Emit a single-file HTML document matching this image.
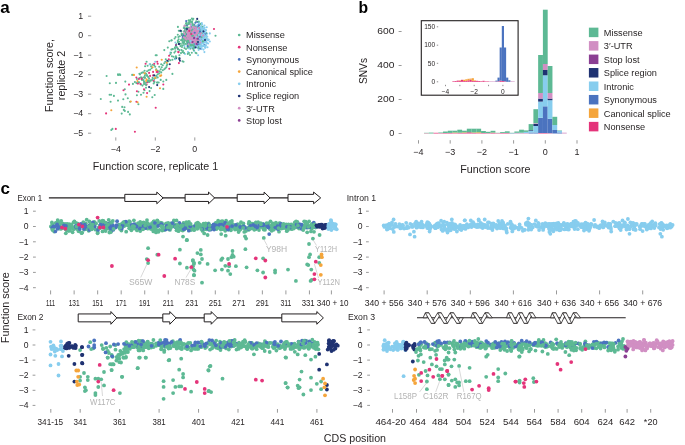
<!DOCTYPE html>
<html><head><meta charset="utf-8"><style>
html,body{margin:0;padding:0;background:#fff;width:685px;height:445px;overflow:hidden}
svg{display:block;will-change:transform}
text{font-family:"Liberation Sans",sans-serif}
</style></head><body>
<svg width="685" height="445" viewBox="0 0 685 445" fill="#231f20">
<rect width="685" height="445" fill="#fff"/>
<text x="0.20" y="12.70" font-size="17" fill="#000" font-weight="bold">a</text>
<text x="83.20" y="18.84" font-size="8.8" text-anchor="end">1</text>
<line x1="88.00" y1="16.20" x2="91.20" y2="16.20" stroke="#555" stroke-width="0.6"/>
<text x="83.20" y="38.34" font-size="8.8" text-anchor="end">0</text>
<line x1="88.00" y1="35.70" x2="91.20" y2="35.70" stroke="#555" stroke-width="0.6"/>
<text x="83.20" y="57.84" font-size="8.8" text-anchor="end">−1</text>
<line x1="88.00" y1="55.20" x2="91.20" y2="55.20" stroke="#555" stroke-width="0.6"/>
<text x="83.20" y="77.34" font-size="8.8" text-anchor="end">−2</text>
<line x1="88.00" y1="74.70" x2="91.20" y2="74.70" stroke="#555" stroke-width="0.6"/>
<text x="83.20" y="96.84" font-size="8.8" text-anchor="end">−3</text>
<line x1="88.00" y1="94.20" x2="91.20" y2="94.20" stroke="#555" stroke-width="0.6"/>
<text x="83.20" y="116.34" font-size="8.8" text-anchor="end">−4</text>
<line x1="88.00" y1="113.70" x2="91.20" y2="113.70" stroke="#555" stroke-width="0.6"/>
<text x="83.20" y="135.84" font-size="8.8" text-anchor="end">−5</text>
<line x1="88.00" y1="133.20" x2="91.20" y2="133.20" stroke="#555" stroke-width="0.6"/>
<line x1="115.80" y1="137.40" x2="115.80" y2="140.60" stroke="#555" stroke-width="0.6"/>
<text x="115.80" y="151.94" font-size="8.8" text-anchor="middle">−4</text>
<line x1="155.30" y1="137.40" x2="155.30" y2="140.60" stroke="#555" stroke-width="0.6"/>
<text x="155.30" y="151.94" font-size="8.8" text-anchor="middle">−2</text>
<line x1="194.80" y1="137.40" x2="194.80" y2="140.60" stroke="#555" stroke-width="0.6"/>
<text x="194.80" y="151.94" font-size="8.8" text-anchor="middle">0</text>
<text x="155.50" y="169.99" font-size="10.7" text-anchor="middle">Function score, replicate 1</text>
<text x="53.00" y="75.50" font-size="10.7" text-anchor="middle" transform="rotate(-90 53.00 75.50)">Function score,</text>
<text x="64.50" y="75.50" font-size="10.7" text-anchor="middle" transform="rotate(-90 64.50 75.50)">replicate 2</text>
<circle cx="239.2" cy="35.00" r="1.35" fill="#5db994"/>
<text x="246.00" y="38.37" font-size="9.2">Missense</text>
<circle cx="239.2" cy="47.20" r="1.35" fill="#e4347a"/>
<text x="246.00" y="50.57" font-size="9.2">Nonsense</text>
<circle cx="239.2" cy="59.40" r="1.35" fill="#4b73bf"/>
<text x="246.00" y="62.77" font-size="9.2">Synonymous</text>
<circle cx="239.2" cy="71.60" r="1.35" fill="#f5a53b"/>
<text x="246.00" y="74.97" font-size="9.2">Canonical splice</text>
<circle cx="239.2" cy="83.80" r="1.35" fill="#87cdee"/>
<text x="246.00" y="87.17" font-size="9.2">Intronic</text>
<circle cx="239.2" cy="96.00" r="1.35" fill="#1f3272"/>
<text x="246.00" y="99.37" font-size="9.2">Splice region</text>
<circle cx="239.2" cy="108.20" r="1.35" fill="#d18fc3"/>
<text x="246.00" y="111.57" font-size="9.2">3′-UTR</text>
<circle cx="239.2" cy="120.40" r="1.35" fill="#8b3f93"/>
<text x="246.00" y="123.77" font-size="9.2">Stop lost</text>
<g fill="#5db994">
<circle cx="169.3" cy="41.2" r="1.05"/>
<circle cx="171.3" cy="40.5" r="1.05"/>
<circle cx="164.3" cy="50.1" r="1.05"/>
<circle cx="167.8" cy="47.6" r="1.05"/>
<circle cx="171.3" cy="49.6" r="1.05"/>
<circle cx="172.9" cy="49.1" r="1.05"/>
<circle cx="174.4" cy="52.6" r="1.05"/>
<circle cx="170.3" cy="54.2" r="1.05"/>
<circle cx="171.9" cy="56.2" r="1.05"/>
<circle cx="173.4" cy="56.7" r="1.05"/>
<circle cx="175.9" cy="56.2" r="1.05"/>
<circle cx="176.4" cy="57.7" r="1.05"/>
<circle cx="174.9" cy="58.7" r="1.05"/>
<circle cx="172.4" cy="59.7" r="1.05"/>
<circle cx="170.3" cy="60.2" r="1.05"/>
<circle cx="168.3" cy="61.2" r="1.05"/>
<circle cx="165.8" cy="59.2" r="1.05"/>
<circle cx="165.3" cy="61.7" r="1.05"/>
<circle cx="164.3" cy="63.3" r="1.05"/>
<circle cx="167.3" cy="64.3" r="1.05"/>
<circle cx="166.8" cy="65.8" r="1.05"/>
<circle cx="166.3" cy="67.3" r="1.05"/>
<circle cx="165.3" cy="68.3" r="1.05"/>
<circle cx="164.3" cy="69.3" r="1.05"/>
<circle cx="162.8" cy="70.3" r="1.05"/>
<circle cx="161.7" cy="67.3" r="1.05"/>
<circle cx="160.7" cy="69.3" r="1.05"/>
<circle cx="159.7" cy="71.3" r="1.05"/>
<circle cx="161.2" cy="72.4" r="1.05"/>
<circle cx="159.2" cy="73.4" r="1.05"/>
<circle cx="157.7" cy="74.4" r="1.05"/>
<circle cx="156.2" cy="75.9" r="1.05"/>
<circle cx="157.7" cy="77.4" r="1.05"/>
<circle cx="155.7" cy="77.9" r="1.05"/>
<circle cx="154.2" cy="78.9" r="1.05"/>
<circle cx="152.6" cy="77.9" r="1.05"/>
<circle cx="152.1" cy="79.9" r="1.05"/>
<circle cx="150.1" cy="80.4" r="1.05"/>
<circle cx="149.1" cy="78.4" r="1.05"/>
<circle cx="148.1" cy="76.9" r="1.05"/>
<circle cx="147.1" cy="75.4" r="1.05"/>
<circle cx="146.1" cy="73.9" r="1.05"/>
<circle cx="145.1" cy="73.4" r="1.05"/>
<circle cx="147.1" cy="71.3" r="1.05"/>
<circle cx="148.6" cy="70.3" r="1.05"/>
<circle cx="150.1" cy="69.8" r="1.05"/>
<circle cx="151.6" cy="68.3" r="1.05"/>
<circle cx="151.1" cy="66.3" r="1.05"/>
<circle cx="152.6" cy="64.8" r="1.05"/>
<circle cx="154.2" cy="65.3" r="1.05"/>
<circle cx="155.2" cy="66.8" r="1.05"/>
<circle cx="156.2" cy="69.3" r="1.05"/>
<circle cx="157.7" cy="70.8" r="1.05"/>
<circle cx="159.2" cy="66.8" r="1.05"/>
<circle cx="161.2" cy="64.3" r="1.05"/>
<circle cx="162.8" cy="65.3" r="1.05"/>
<circle cx="148.1" cy="80.4" r="1.05"/>
<circle cx="146.1" cy="82.5" r="1.05"/>
<circle cx="144.0" cy="81.5" r="1.05"/>
<circle cx="142.0" cy="79.9" r="1.05"/>
<circle cx="141.0" cy="77.4" r="1.05"/>
<circle cx="140.0" cy="74.4" r="1.05"/>
<circle cx="141.5" cy="72.9" r="1.05"/>
<circle cx="143.0" cy="72.4" r="1.05"/>
<circle cx="144.6" cy="70.8" r="1.05"/>
<circle cx="146.6" cy="61.7" r="1.05"/>
<circle cx="145.1" cy="66.3" r="1.05"/>
<circle cx="147.6" cy="65.8" r="1.05"/>
<circle cx="150.1" cy="64.3" r="1.05"/>
<circle cx="155.7" cy="55.2" r="1.05"/>
<circle cx="156.7" cy="55.2" r="1.05"/>
<circle cx="172.4" cy="73.9" r="1.05"/>
<circle cx="166.3" cy="79.9" r="1.05"/>
<circle cx="163.3" cy="81.5" r="1.05"/>
<circle cx="160.7" cy="79.9" r="1.05"/>
<circle cx="158.7" cy="82.5" r="1.05"/>
<circle cx="154.2" cy="81.5" r="1.05"/>
<circle cx="182.5" cy="61.2" r="1.05"/>
<circle cx="183.5" cy="61.7" r="1.05"/>
<circle cx="181.5" cy="50.1" r="1.05"/>
<circle cx="182.5" cy="52.1" r="1.05"/>
<circle cx="180.4" cy="46.1" r="1.05"/>
<circle cx="179.4" cy="50.1" r="1.05"/>
<circle cx="177.4" cy="48.1" r="1.05"/>
<circle cx="175.9" cy="46.1" r="1.05"/>
<circle cx="174.9" cy="47.6" r="1.05"/>
<circle cx="176.4" cy="44.0" r="1.05"/>
<circle cx="177.9" cy="42.0" r="1.05"/>
<circle cx="182.5" cy="41.0" r="1.05"/>
<circle cx="184.0" cy="45.1" r="1.05"/>
<circle cx="184.5" cy="48.1" r="1.05"/>
<circle cx="181.0" cy="53.1" r="1.05"/>
<circle cx="179.4" cy="55.2" r="1.05"/>
<circle cx="183.5" cy="43.0" r="1.05"/>
</g>
<g fill="#e4347a">
<circle cx="169.1" cy="55.7" r="1.05"/>
<circle cx="168.8" cy="59.2" r="1.05"/>
<circle cx="169.3" cy="68.8" r="1.05"/>
<circle cx="178.4" cy="52.1" r="1.05"/>
<circle cx="178.9" cy="63.1" r="1.05"/>
<circle cx="157.2" cy="61.7" r="1.05"/>
<circle cx="157.7" cy="63.8" r="1.05"/>
<circle cx="154.2" cy="63.8" r="1.05"/>
<circle cx="145.6" cy="63.8" r="1.05"/>
<circle cx="149.1" cy="72.9" r="1.05"/>
<circle cx="153.1" cy="71.9" r="1.05"/>
<circle cx="156.7" cy="71.9" r="1.05"/>
<circle cx="157.7" cy="71.9" r="1.05"/>
<circle cx="150.1" cy="75.9" r="1.05"/>
<circle cx="142.0" cy="78.4" r="1.05"/>
<circle cx="153.7" cy="81.0" r="1.05"/>
<circle cx="146.6" cy="84.5" r="1.05"/>
<circle cx="163.3" cy="84.5" r="1.05"/>
<circle cx="153.1" cy="75.4" r="1.05"/>
</g>
<g fill="#f5a53b">
<circle cx="161.7" cy="59.7" r="1.05"/>
<circle cx="152.6" cy="67.3" r="1.05"/>
<circle cx="144.6" cy="73.4" r="1.05"/>
<circle cx="160.2" cy="75.9" r="1.05"/>
<circle cx="161.2" cy="75.4" r="1.05"/>
<circle cx="155.2" cy="77.9" r="1.05"/>
<circle cx="146.6" cy="79.4" r="1.05"/>
<circle cx="146.1" cy="81.0" r="1.05"/>
<circle cx="166.8" cy="62.8" r="1.05"/>
<circle cx="156.2" cy="70.3" r="1.05"/>
</g>
<g fill="#1f3272">
<circle cx="167.3" cy="60.7" r="1.05"/>
<circle cx="169.8" cy="64.3" r="1.05"/>
<circle cx="175.9" cy="58.2" r="1.05"/>
<circle cx="179.4" cy="59.2" r="1.05"/>
<circle cx="179.9" cy="60.7" r="1.05"/>
<circle cx="154.2" cy="75.4" r="1.05"/>
<circle cx="178.9" cy="44.0" r="1.05"/>
</g>
<g fill="#87cdee">
<circle cx="175.4" cy="42.5" r="1.05"/>
<circle cx="170.3" cy="52.6" r="1.05"/>
<circle cx="149.6" cy="64.3" r="1.05"/>
<circle cx="155.2" cy="61.7" r="1.05"/>
<circle cx="175.4" cy="59.2" r="1.05"/>
<circle cx="184.5" cy="46.1" r="1.05"/>
</g>
<g fill="#8b3f93">
<circle cx="177.9" cy="49.1" r="1.05"/>
</g>
<g fill="#5db994">
<circle cx="106.6" cy="76.0" r="1.05"/>
<circle cx="118.2" cy="75.0" r="1.05"/>
<circle cx="120.2" cy="75.0" r="1.05"/>
<circle cx="109.8" cy="83.3" r="1.05"/>
<circle cx="116.0" cy="82.9" r="1.05"/>
<circle cx="125.3" cy="81.6" r="1.05"/>
<circle cx="124.8" cy="89.2" r="1.05"/>
<circle cx="125.5" cy="94.4" r="1.05"/>
<circle cx="109.6" cy="94.7" r="1.05"/>
<circle cx="111.1" cy="94.7" r="1.05"/>
<circle cx="113.9" cy="95.9" r="1.05"/>
<circle cx="100.8" cy="99.0" r="1.05"/>
<circle cx="118.0" cy="100.6" r="1.05"/>
<circle cx="123.3" cy="99.3" r="1.05"/>
<circle cx="127.8" cy="98.3" r="1.05"/>
<circle cx="110.6" cy="101.8" r="1.05"/>
<circle cx="130.1" cy="101.8" r="1.05"/>
<circle cx="122.2" cy="106.9" r="1.05"/>
<circle cx="124.5" cy="107.2" r="1.05"/>
<circle cx="123.8" cy="109.9" r="1.05"/>
<circle cx="124.8" cy="110.9" r="1.05"/>
<circle cx="128.1" cy="111.9" r="1.05"/>
<circle cx="121.7" cy="113.6" r="1.05"/>
<circle cx="129.8" cy="114.4" r="1.05"/>
<circle cx="138.4" cy="104.3" r="1.05"/>
<circle cx="132.9" cy="83.9" r="1.05"/>
<circle cx="134.9" cy="82.1" r="1.05"/>
<circle cx="136.4" cy="83.1" r="1.05"/>
<circle cx="138.4" cy="82.6" r="1.05"/>
<circle cx="141.0" cy="84.6" r="1.05"/>
<circle cx="142.5" cy="85.6" r="1.05"/>
<circle cx="144.0" cy="84.1" r="1.05"/>
<circle cx="143.5" cy="80.1" r="1.05"/>
<circle cx="142.0" cy="79.0" r="1.05"/>
<circle cx="139.4" cy="78.0" r="1.05"/>
<circle cx="136.9" cy="79.0" r="1.05"/>
<circle cx="144.5" cy="77.0" r="1.05"/>
<circle cx="138.4" cy="91.7" r="1.05"/>
<circle cx="136.9" cy="95.2" r="1.05"/>
<circle cx="141.0" cy="94.7" r="1.05"/>
<circle cx="143.5" cy="92.7" r="1.05"/>
<circle cx="144.5" cy="90.2" r="1.05"/>
</g>
<g fill="#e4347a">
<circle cx="129.0" cy="84.6" r="1.05"/>
<circle cx="123.5" cy="90.2" r="1.05"/>
<circle cx="106.1" cy="113.4" r="1.05"/>
<circle cx="136.4" cy="101.8" r="1.05"/>
<circle cx="136.9" cy="91.2" r="1.05"/>
<circle cx="137.9" cy="83.6" r="1.05"/>
<circle cx="140.4" cy="83.9" r="1.05"/>
<circle cx="138.9" cy="79.0" r="1.05"/>
<circle cx="136.4" cy="77.5" r="1.05"/>
<circle cx="141.5" cy="79.0" r="1.05"/>
<circle cx="144.0" cy="89.2" r="1.05"/>
</g>
<g fill="#f5a53b">
<circle cx="111.3" cy="110.2" r="1.05"/>
<circle cx="130.8" cy="101.5" r="1.05"/>
<circle cx="137.6" cy="102.3" r="1.05"/>
<circle cx="133.9" cy="75.0" r="1.05"/>
<circle cx="137.4" cy="81.1" r="1.05"/>
</g>
<g fill="#5db994">
<circle cx="146.1" cy="85.1" r="1.05"/>
<circle cx="151.1" cy="88.1" r="1.05"/>
<circle cx="149.6" cy="91.1" r="1.05"/>
<circle cx="154.7" cy="95.0" r="1.05"/>
<circle cx="152.3" cy="97.2" r="1.05"/>
<circle cx="163.3" cy="88.9" r="1.05"/>
</g>
<g fill="#e4347a">
<circle cx="147.1" cy="93.1" r="1.05"/>
<circle cx="155.7" cy="107.8" r="1.05"/>
</g>
<g fill="#f5a53b">
<circle cx="146.6" cy="96.7" r="1.05"/>
<circle cx="160.0" cy="88.3" r="1.05"/>
</g>
<g fill="#1f3272">
<circle cx="149.1" cy="87.1" r="1.05"/>
<circle cx="157.2" cy="85.1" r="1.05"/>
</g>
<g fill="#5db994">
<circle cx="118.0" cy="74.4" r="1.05"/>
<circle cx="119.8" cy="74.4" r="1.05"/>
<circle cx="132.2" cy="74.9" r="1.05"/>
<circle cx="139.4" cy="73.8" r="1.05"/>
<circle cx="112.4" cy="128.9" r="1.05"/>
<circle cx="111.3" cy="130.0" r="1.05"/>
</g>
<g fill="#f5a53b">
<circle cx="136.7" cy="67.5" r="1.05"/>
<circle cx="133.8" cy="74.9" r="1.05"/>
</g>
<g fill="#e4347a">
<circle cx="115.8" cy="128.9" r="1.05"/>
<circle cx="134.9" cy="131.8" r="1.05"/>
</g>
<g fill="#5db994">
<circle cx="177.9" cy="26.9" r="1.05"/>
<circle cx="171.7" cy="40.3" r="1.05"/>
<circle cx="175.6" cy="37.0" r="1.05"/>
</g>
<g fill="#1f3272">
<circle cx="180.1" cy="30.8" r="1.05"/>
</g>
<g fill="#5db994">
<circle cx="178.4" cy="37.0" r="1.05"/>
</g>
<g fill="#1f3272">
<circle cx="181.8" cy="34.7" r="1.05"/>
</g>
<g fill="#5db994">
<circle cx="180.7" cy="43.7" r="1.05"/>
<circle cx="176.7" cy="47.1" r="1.05"/>
<circle cx="175.1" cy="48.8" r="1.05"/>
<circle cx="177.9" cy="49.3" r="1.05"/>
<circle cx="172.2" cy="49.3" r="1.05"/>
<circle cx="171.1" cy="52.7" r="1.05"/>
</g>
<g fill="#e4347a">
<circle cx="178.4" cy="52.1" r="1.05"/>
</g>
<g fill="#5db994">
<circle cx="175.6" cy="57.2" r="1.05"/>
<circle cx="179.0" cy="58.3" r="1.05"/>
</g>
<g fill="#1f3272">
<circle cx="179.6" cy="58.3" r="1.05"/>
</g>
<g fill="#5db994">
<circle cx="215.5" cy="35.8" r="1.05"/>
</g>
<g fill="#8b3f93">
<circle cx="176.0" cy="45.0" r="1.05"/>
</g>
<g fill="#5db994">
<circle cx="184.0" cy="43.0" r="1.05"/>
<circle cx="182.0" cy="47.0" r="1.05"/>
<circle cx="183.0" cy="51.0" r="1.05"/>
<circle cx="186.0" cy="49.0" r="1.05"/>
</g>
<g fill="#87cdee">
<circle cx="185.0" cy="54.0" r="1.05"/>
<circle cx="188.0" cy="52.0" r="1.05"/>
</g>
<g fill="#5db994">
<circle cx="190.0" cy="55.0" r="1.05"/>
</g>
<g fill="#e4347a">
<circle cx="147.8" cy="82.3" r="1.05"/>
</g>
<g fill="#5db994">
<circle cx="157.0" cy="82.5" r="1.05"/>
<circle cx="148.0" cy="81.2" r="1.05"/>
<circle cx="149.4" cy="81.9" r="1.05"/>
<circle cx="150.8" cy="80.8" r="1.05"/>
<circle cx="154.4" cy="82.1" r="1.05"/>
<circle cx="144.9" cy="75.6" r="1.05"/>
<circle cx="145.0" cy="77.9" r="1.05"/>
<circle cx="157.5" cy="82.6" r="1.05"/>
<circle cx="144.1" cy="82.7" r="1.05"/>
<circle cx="146.0" cy="87.7" r="1.05"/>
<circle cx="153.7" cy="83.5" r="1.05"/>
<circle cx="145.1" cy="84.1" r="1.05"/>
<circle cx="143.3" cy="77.5" r="1.05"/>
<circle cx="147.0" cy="75.7" r="1.05"/>
<circle cx="139.0" cy="82.2" r="1.05"/>
<circle cx="196.6" cy="36.4" r="1.05"/>
</g>
<g fill="#4b73bf">
<circle cx="200.1" cy="36.1" r="1.05"/>
</g>
<g fill="#5db994">
<circle cx="191.3" cy="38.8" r="1.05"/>
</g>
<g fill="#87cdee">
<circle cx="196.6" cy="38.6" r="1.05"/>
<circle cx="198.9" cy="38.5" r="1.05"/>
</g>
<g fill="#5db994">
<circle cx="200.7" cy="23.9" r="1.05"/>
<circle cx="190.2" cy="42.8" r="1.05"/>
<circle cx="191.2" cy="32.6" r="1.05"/>
<circle cx="193.8" cy="42.1" r="1.05"/>
</g>
<g fill="#87cdee">
<circle cx="206.4" cy="35.6" r="1.05"/>
</g>
<g fill="#5db994">
<circle cx="190.5" cy="48.6" r="1.05"/>
<circle cx="188.7" cy="24.0" r="1.05"/>
<circle cx="192.5" cy="41.6" r="1.05"/>
<circle cx="188.8" cy="30.5" r="1.05"/>
</g>
<g fill="#4b73bf">
<circle cx="201.9" cy="42.3" r="1.05"/>
</g>
<g fill="#87cdee">
<circle cx="191.6" cy="45.4" r="1.05"/>
<circle cx="199.3" cy="37.6" r="1.05"/>
</g>
<g fill="#5db994">
<circle cx="189.8" cy="44.2" r="1.05"/>
<circle cx="195.5" cy="41.7" r="1.05"/>
<circle cx="192.8" cy="35.2" r="1.05"/>
</g>
<g fill="#87cdee">
<circle cx="198.1" cy="35.3" r="1.05"/>
</g>
<g fill="#5db994">
<circle cx="184.3" cy="41.6" r="1.05"/>
<circle cx="185.4" cy="37.4" r="1.05"/>
<circle cx="186.0" cy="30.7" r="1.05"/>
<circle cx="184.3" cy="36.6" r="1.05"/>
</g>
<g fill="#87cdee">
<circle cx="197.1" cy="47.8" r="1.05"/>
</g>
<g fill="#5db994">
<circle cx="193.8" cy="40.1" r="1.05"/>
<circle cx="197.8" cy="34.8" r="1.05"/>
</g>
<g fill="#87cdee">
<circle cx="189.8" cy="40.0" r="1.05"/>
<circle cx="202.0" cy="46.2" r="1.05"/>
<circle cx="193.0" cy="29.3" r="1.05"/>
</g>
<g fill="#4b73bf">
<circle cx="188.0" cy="42.9" r="1.05"/>
</g>
<g fill="#87cdee">
<circle cx="208.0" cy="40.3" r="1.05"/>
</g>
<g fill="#4b73bf">
<circle cx="199.5" cy="38.7" r="1.05"/>
</g>
<g fill="#5db994">
<circle cx="191.4" cy="45.8" r="1.05"/>
<circle cx="195.8" cy="28.6" r="1.05"/>
<circle cx="193.0" cy="41.1" r="1.05"/>
<circle cx="175.4" cy="51.2" r="1.05"/>
</g>
<g fill="#4b73bf">
<circle cx="198.6" cy="35.6" r="1.05"/>
</g>
<g fill="#5db994">
<circle cx="200.8" cy="46.7" r="1.05"/>
<circle cx="192.7" cy="39.2" r="1.05"/>
</g>
<g fill="#4b73bf">
<circle cx="194.3" cy="37.7" r="1.05"/>
</g>
<g fill="#87cdee">
<circle cx="194.8" cy="37.0" r="1.05"/>
<circle cx="198.9" cy="23.9" r="1.05"/>
</g>
<g fill="#5db994">
<circle cx="200.9" cy="31.9" r="1.05"/>
</g>
<g fill="#87cdee">
<circle cx="204.9" cy="35.9" r="1.05"/>
</g>
<g fill="#5db994">
<circle cx="191.0" cy="29.7" r="1.05"/>
</g>
<g fill="#4b73bf">
<circle cx="196.1" cy="44.9" r="1.05"/>
<circle cx="196.1" cy="39.0" r="1.05"/>
</g>
<g fill="#87cdee">
<circle cx="199.5" cy="39.8" r="1.05"/>
</g>
<g fill="#5db994">
<circle cx="191.1" cy="44.9" r="1.05"/>
</g>
<g fill="#4b73bf">
<circle cx="189.0" cy="38.8" r="1.05"/>
</g>
<g fill="#5db994">
<circle cx="182.6" cy="38.7" r="1.05"/>
</g>
<g fill="#87cdee">
<circle cx="201.8" cy="35.2" r="1.05"/>
</g>
<g fill="#5db994">
<circle cx="194.5" cy="33.2" r="1.05"/>
</g>
<g fill="#87cdee">
<circle cx="198.3" cy="44.1" r="1.05"/>
</g>
<g fill="#4b73bf">
<circle cx="199.1" cy="35.1" r="1.05"/>
</g>
<g fill="#5db994">
<circle cx="184.0" cy="52.9" r="1.05"/>
</g>
<g fill="#4b73bf">
<circle cx="194.9" cy="35.5" r="1.05"/>
<circle cx="193.5" cy="37.9" r="1.05"/>
</g>
<g fill="#87cdee">
<circle cx="191.8" cy="39.1" r="1.05"/>
</g>
<g fill="#5db994">
<circle cx="179.0" cy="41.7" r="1.05"/>
</g>
<g fill="#87cdee">
<circle cx="199.9" cy="36.9" r="1.05"/>
</g>
<g fill="#5db994">
<circle cx="184.9" cy="35.9" r="1.05"/>
</g>
<g fill="#4b73bf">
<circle cx="199.0" cy="25.8" r="1.05"/>
</g>
<g fill="#87cdee">
<circle cx="199.9" cy="32.9" r="1.05"/>
<circle cx="195.7" cy="33.9" r="1.05"/>
</g>
<g fill="#5db994">
<circle cx="201.9" cy="36.5" r="1.05"/>
<circle cx="188.8" cy="35.3" r="1.05"/>
</g>
<g fill="#87cdee">
<circle cx="200.0" cy="30.5" r="1.05"/>
</g>
<g fill="#5db994">
<circle cx="181.2" cy="40.2" r="1.05"/>
</g>
<g fill="#87cdee">
<circle cx="201.6" cy="35.7" r="1.05"/>
<circle cx="196.9" cy="37.5" r="1.05"/>
</g>
<g fill="#5db994">
<circle cx="192.9" cy="42.1" r="1.05"/>
<circle cx="187.5" cy="35.6" r="1.05"/>
</g>
<g fill="#87cdee">
<circle cx="200.2" cy="38.1" r="1.05"/>
<circle cx="201.1" cy="28.8" r="1.05"/>
<circle cx="196.7" cy="31.5" r="1.05"/>
<circle cx="206.3" cy="36.6" r="1.05"/>
</g>
<g fill="#5db994">
<circle cx="190.4" cy="38.9" r="1.05"/>
<circle cx="191.3" cy="47.2" r="1.05"/>
<circle cx="190.5" cy="35.5" r="1.05"/>
<circle cx="197.5" cy="37.8" r="1.05"/>
</g>
<g fill="#87cdee">
<circle cx="205.9" cy="45.0" r="1.05"/>
<circle cx="194.8" cy="41.0" r="1.05"/>
</g>
<g fill="#5db994">
<circle cx="195.1" cy="26.3" r="1.05"/>
<circle cx="195.3" cy="43.2" r="1.05"/>
</g>
<g fill="#87cdee">
<circle cx="202.8" cy="29.6" r="1.05"/>
</g>
<g fill="#5db994">
<circle cx="195.6" cy="52.8" r="1.05"/>
<circle cx="191.8" cy="31.8" r="1.05"/>
<circle cx="200.2" cy="30.0" r="1.05"/>
</g>
<g fill="#87cdee">
<circle cx="196.9" cy="37.8" r="1.05"/>
</g>
<g fill="#5db994">
<circle cx="191.0" cy="46.0" r="1.05"/>
</g>
<g fill="#87cdee">
<circle cx="209.8" cy="33.4" r="1.05"/>
<circle cx="203.5" cy="34.6" r="1.05"/>
</g>
<g fill="#5db994">
<circle cx="198.6" cy="32.7" r="1.05"/>
<circle cx="197.5" cy="25.8" r="1.05"/>
<circle cx="190.5" cy="46.2" r="1.05"/>
</g>
<g fill="#87cdee">
<circle cx="195.1" cy="40.1" r="1.05"/>
<circle cx="203.9" cy="28.8" r="1.05"/>
<circle cx="201.5" cy="35.1" r="1.05"/>
</g>
<g fill="#5db994">
<circle cx="190.0" cy="36.4" r="1.05"/>
</g>
<g fill="#87cdee">
<circle cx="199.4" cy="43.3" r="1.05"/>
</g>
<g fill="#5db994">
<circle cx="190.2" cy="35.3" r="1.05"/>
</g>
<g fill="#4b73bf">
<circle cx="198.7" cy="32.0" r="1.05"/>
<circle cx="191.5" cy="38.7" r="1.05"/>
</g>
<g fill="#5db994">
<circle cx="190.4" cy="20.1" r="1.05"/>
</g>
<g fill="#87cdee">
<circle cx="202.1" cy="34.1" r="1.05"/>
</g>
<g fill="#5db994">
<circle cx="199.3" cy="45.4" r="1.05"/>
</g>
<g fill="#4b73bf">
<circle cx="185.0" cy="28.7" r="1.05"/>
</g>
<g fill="#87cdee">
<circle cx="199.5" cy="43.3" r="1.05"/>
</g>
<g fill="#5db994">
<circle cx="200.6" cy="38.0" r="1.05"/>
</g>
<g fill="#87cdee">
<circle cx="201.4" cy="45.0" r="1.05"/>
<circle cx="203.0" cy="42.6" r="1.05"/>
</g>
<g fill="#4b73bf">
<circle cx="193.1" cy="37.2" r="1.05"/>
</g>
<g fill="#5db994">
<circle cx="197.5" cy="35.7" r="1.05"/>
<circle cx="189.8" cy="40.5" r="1.05"/>
<circle cx="185.5" cy="40.0" r="1.05"/>
</g>
<g fill="#87cdee">
<circle cx="193.9" cy="31.2" r="1.05"/>
</g>
<g fill="#5db994">
<circle cx="189.5" cy="40.5" r="1.05"/>
<circle cx="198.0" cy="38.0" r="1.05"/>
</g>
<g fill="#87cdee">
<circle cx="207.0" cy="33.6" r="1.05"/>
</g>
<g fill="#5db994">
<circle cx="189.6" cy="38.1" r="1.05"/>
</g>
<g fill="#4b73bf">
<circle cx="199.1" cy="33.6" r="1.05"/>
</g>
<g fill="#87cdee">
<circle cx="199.7" cy="33.9" r="1.05"/>
<circle cx="199.2" cy="41.4" r="1.05"/>
<circle cx="199.8" cy="37.1" r="1.05"/>
</g>
<g fill="#5db994">
<circle cx="187.7" cy="36.9" r="1.05"/>
</g>
<g fill="#87cdee">
<circle cx="188.9" cy="41.9" r="1.05"/>
</g>
<g fill="#4b73bf">
<circle cx="205.4" cy="39.7" r="1.05"/>
</g>
<g fill="#5db994">
<circle cx="198.0" cy="34.7" r="1.05"/>
</g>
<g fill="#87cdee">
<circle cx="200.9" cy="40.8" r="1.05"/>
</g>
<g fill="#5db994">
<circle cx="177.8" cy="40.8" r="1.05"/>
<circle cx="191.6" cy="43.2" r="1.05"/>
</g>
<g fill="#87cdee">
<circle cx="201.7" cy="36.3" r="1.05"/>
</g>
<g fill="#5db994">
<circle cx="184.1" cy="41.5" r="1.05"/>
</g>
<g fill="#87cdee">
<circle cx="192.3" cy="47.5" r="1.05"/>
<circle cx="200.2" cy="37.1" r="1.05"/>
</g>
<g fill="#5db994">
<circle cx="192.0" cy="41.1" r="1.05"/>
<circle cx="187.5" cy="37.7" r="1.05"/>
<circle cx="189.8" cy="28.1" r="1.05"/>
<circle cx="192.0" cy="37.1" r="1.05"/>
</g>
<g fill="#87cdee">
<circle cx="196.8" cy="36.9" r="1.05"/>
</g>
<g fill="#5db994">
<circle cx="195.5" cy="32.8" r="1.05"/>
<circle cx="190.1" cy="28.2" r="1.05"/>
<circle cx="195.8" cy="40.1" r="1.05"/>
</g>
<g fill="#87cdee">
<circle cx="196.2" cy="38.3" r="1.05"/>
<circle cx="205.5" cy="29.9" r="1.05"/>
</g>
<g fill="#4b73bf">
<circle cx="194.3" cy="24.8" r="1.05"/>
</g>
<g fill="#87cdee">
<circle cx="200.4" cy="33.3" r="1.05"/>
<circle cx="205.9" cy="30.3" r="1.05"/>
</g>
<g fill="#5db994">
<circle cx="189.1" cy="44.6" r="1.05"/>
</g>
<g fill="#87cdee">
<circle cx="192.7" cy="43.6" r="1.05"/>
<circle cx="193.8" cy="28.5" r="1.05"/>
</g>
<g fill="#4b73bf">
<circle cx="191.5" cy="36.3" r="1.05"/>
</g>
<g fill="#87cdee">
<circle cx="200.4" cy="43.0" r="1.05"/>
<circle cx="202.7" cy="32.0" r="1.05"/>
</g>
<g fill="#5db994">
<circle cx="190.1" cy="32.4" r="1.05"/>
<circle cx="192.0" cy="41.4" r="1.05"/>
<circle cx="197.9" cy="29.9" r="1.05"/>
</g>
<g fill="#87cdee">
<circle cx="195.2" cy="41.5" r="1.05"/>
</g>
<g fill="#5db994">
<circle cx="198.5" cy="45.5" r="1.05"/>
</g>
<g fill="#87cdee">
<circle cx="202.4" cy="31.3" r="1.05"/>
</g>
<g fill="#5db994">
<circle cx="199.2" cy="29.3" r="1.05"/>
<circle cx="186.6" cy="40.3" r="1.05"/>
<circle cx="183.5" cy="35.0" r="1.05"/>
</g>
<g fill="#87cdee">
<circle cx="195.1" cy="33.9" r="1.05"/>
</g>
<g fill="#5db994">
<circle cx="196.2" cy="42.5" r="1.05"/>
<circle cx="192.8" cy="37.3" r="1.05"/>
<circle cx="197.0" cy="33.0" r="1.05"/>
<circle cx="188.8" cy="39.3" r="1.05"/>
<circle cx="187.7" cy="43.7" r="1.05"/>
</g>
<g fill="#87cdee">
<circle cx="193.8" cy="38.8" r="1.05"/>
<circle cx="201.7" cy="40.4" r="1.05"/>
<circle cx="194.9" cy="30.3" r="1.05"/>
<circle cx="199.2" cy="34.2" r="1.05"/>
</g>
<g fill="#4b73bf">
<circle cx="197.9" cy="33.3" r="1.05"/>
</g>
<g fill="#5db994">
<circle cx="192.3" cy="23.3" r="1.05"/>
</g>
<g fill="#87cdee">
<circle cx="199.0" cy="38.8" r="1.05"/>
<circle cx="202.6" cy="36.2" r="1.05"/>
</g>
<g fill="#5db994">
<circle cx="195.1" cy="35.6" r="1.05"/>
<circle cx="195.7" cy="43.2" r="1.05"/>
</g>
<g fill="#87cdee">
<circle cx="200.5" cy="29.9" r="1.05"/>
</g>
<g fill="#5db994">
<circle cx="185.4" cy="38.5" r="1.05"/>
<circle cx="194.1" cy="34.8" r="1.05"/>
</g>
<g fill="#87cdee">
<circle cx="205.7" cy="45.9" r="1.05"/>
</g>
<g fill="#5db994">
<circle cx="186.8" cy="35.1" r="1.05"/>
<circle cx="196.8" cy="45.0" r="1.05"/>
<circle cx="190.3" cy="43.0" r="1.05"/>
<circle cx="196.9" cy="30.9" r="1.05"/>
<circle cx="193.1" cy="33.8" r="1.05"/>
<circle cx="187.0" cy="40.0" r="1.05"/>
</g>
<g fill="#87cdee">
<circle cx="201.0" cy="34.1" r="1.05"/>
<circle cx="201.7" cy="27.6" r="1.05"/>
<circle cx="191.5" cy="44.8" r="1.05"/>
</g>
<g fill="#4b73bf">
<circle cx="189.1" cy="30.3" r="1.05"/>
<circle cx="195.1" cy="30.9" r="1.05"/>
</g>
<g fill="#87cdee">
<circle cx="192.0" cy="33.1" r="1.05"/>
<circle cx="193.8" cy="46.3" r="1.05"/>
</g>
<g fill="#4b73bf">
<circle cx="188.0" cy="43.8" r="1.05"/>
</g>
<g fill="#5db994">
<circle cx="200.2" cy="45.9" r="1.05"/>
</g>
<g fill="#87cdee">
<circle cx="198.1" cy="47.9" r="1.05"/>
<circle cx="202.4" cy="35.0" r="1.05"/>
<circle cx="203.1" cy="38.7" r="1.05"/>
</g>
<g fill="#5db994">
<circle cx="201.3" cy="36.0" r="1.05"/>
<circle cx="189.8" cy="39.2" r="1.05"/>
<circle cx="188.0" cy="37.5" r="1.05"/>
</g>
<g fill="#87cdee">
<circle cx="193.9" cy="37.4" r="1.05"/>
</g>
<g fill="#5db994">
<circle cx="190.6" cy="34.1" r="1.05"/>
<circle cx="200.0" cy="33.0" r="1.05"/>
<circle cx="189.3" cy="32.6" r="1.05"/>
<circle cx="203.7" cy="41.3" r="1.05"/>
<circle cx="196.2" cy="42.2" r="1.05"/>
<circle cx="184.3" cy="39.1" r="1.05"/>
</g>
<g fill="#87cdee">
<circle cx="194.8" cy="41.3" r="1.05"/>
</g>
<g fill="#5db994">
<circle cx="193.4" cy="37.7" r="1.05"/>
<circle cx="182.3" cy="35.1" r="1.05"/>
</g>
<g fill="#87cdee">
<circle cx="196.3" cy="35.4" r="1.05"/>
<circle cx="204.9" cy="36.1" r="1.05"/>
<circle cx="201.3" cy="28.0" r="1.05"/>
<circle cx="199.6" cy="36.1" r="1.05"/>
<circle cx="201.5" cy="40.8" r="1.05"/>
<circle cx="194.0" cy="33.0" r="1.05"/>
<circle cx="201.5" cy="39.0" r="1.05"/>
</g>
<g fill="#5db994">
<circle cx="191.7" cy="37.5" r="1.05"/>
<circle cx="186.7" cy="33.9" r="1.05"/>
<circle cx="178.4" cy="42.1" r="1.05"/>
</g>
<g fill="#4b73bf">
<circle cx="191.2" cy="26.9" r="1.05"/>
</g>
<g fill="#87cdee">
<circle cx="198.8" cy="32.2" r="1.05"/>
<circle cx="198.5" cy="31.4" r="1.05"/>
</g>
<g fill="#5db994">
<circle cx="195.0" cy="38.7" r="1.05"/>
</g>
<g fill="#87cdee">
<circle cx="206.1" cy="39.2" r="1.05"/>
<circle cx="193.0" cy="34.3" r="1.05"/>
</g>
<g fill="#5db994">
<circle cx="184.8" cy="36.7" r="1.05"/>
</g>
<g fill="#4b73bf">
<circle cx="204.2" cy="45.0" r="1.05"/>
</g>
<g fill="#87cdee">
<circle cx="201.2" cy="35.6" r="1.05"/>
<circle cx="193.7" cy="32.6" r="1.05"/>
<circle cx="196.6" cy="29.2" r="1.05"/>
</g>
<g fill="#5db994">
<circle cx="199.9" cy="41.1" r="1.05"/>
</g>
<g fill="#87cdee">
<circle cx="201.5" cy="48.7" r="1.05"/>
</g>
<g fill="#4b73bf">
<circle cx="195.1" cy="38.2" r="1.05"/>
<circle cx="192.7" cy="39.9" r="1.05"/>
</g>
<g fill="#87cdee">
<circle cx="193.2" cy="27.7" r="1.05"/>
</g>
<g fill="#4b73bf">
<circle cx="193.6" cy="35.7" r="1.05"/>
</g>
<g fill="#5db994">
<circle cx="190.2" cy="31.9" r="1.05"/>
</g>
<g fill="#87cdee">
<circle cx="199.6" cy="46.6" r="1.05"/>
</g>
<g fill="#5db994">
<circle cx="191.5" cy="25.1" r="1.05"/>
</g>
<g fill="#87cdee">
<circle cx="194.8" cy="28.4" r="1.05"/>
</g>
<g fill="#4b73bf">
<circle cx="190.2" cy="35.9" r="1.05"/>
</g>
<g fill="#87cdee">
<circle cx="188.7" cy="32.5" r="1.05"/>
</g>
<g fill="#5db994">
<circle cx="200.2" cy="40.1" r="1.05"/>
</g>
<g fill="#87cdee">
<circle cx="203.7" cy="38.3" r="1.05"/>
<circle cx="188.8" cy="44.5" r="1.05"/>
</g>
<g fill="#4b73bf">
<circle cx="199.0" cy="38.3" r="1.05"/>
</g>
<g fill="#5db994">
<circle cx="191.5" cy="40.0" r="1.05"/>
<circle cx="198.6" cy="38.0" r="1.05"/>
<circle cx="193.1" cy="35.2" r="1.05"/>
</g>
<g fill="#87cdee">
<circle cx="194.3" cy="40.0" r="1.05"/>
</g>
<g fill="#5db994">
<circle cx="194.0" cy="40.8" r="1.05"/>
<circle cx="193.0" cy="38.7" r="1.05"/>
<circle cx="188.7" cy="33.0" r="1.05"/>
<circle cx="185.5" cy="31.0" r="1.05"/>
</g>
<g fill="#87cdee">
<circle cx="198.9" cy="22.8" r="1.05"/>
</g>
<g fill="#5db994">
<circle cx="196.4" cy="53.3" r="1.05"/>
<circle cx="202.9" cy="29.4" r="1.05"/>
</g>
<g fill="#4b73bf">
<circle cx="199.7" cy="33.4" r="1.05"/>
</g>
<g fill="#87cdee">
<circle cx="207.5" cy="47.3" r="1.05"/>
</g>
<g fill="#4b73bf">
<circle cx="187.0" cy="25.2" r="1.05"/>
</g>
<g fill="#87cdee">
<circle cx="195.5" cy="38.5" r="1.05"/>
<circle cx="196.8" cy="43.5" r="1.05"/>
</g>
<g fill="#5db994">
<circle cx="186.7" cy="27.5" r="1.05"/>
</g>
<g fill="#87cdee">
<circle cx="196.5" cy="41.8" r="1.05"/>
<circle cx="200.5" cy="31.0" r="1.05"/>
</g>
<g fill="#4b73bf">
<circle cx="189.3" cy="41.4" r="1.05"/>
</g>
<g fill="#5db994">
<circle cx="206.3" cy="38.5" r="1.05"/>
<circle cx="189.9" cy="47.5" r="1.05"/>
</g>
<g fill="#87cdee">
<circle cx="194.9" cy="47.9" r="1.05"/>
<circle cx="197.8" cy="44.3" r="1.05"/>
</g>
<g fill="#5db994">
<circle cx="188.1" cy="45.8" r="1.05"/>
</g>
<g fill="#87cdee">
<circle cx="202.5" cy="32.6" r="1.05"/>
</g>
<g fill="#5db994">
<circle cx="188.9" cy="41.3" r="1.05"/>
<circle cx="182.6" cy="40.1" r="1.05"/>
</g>
<g fill="#87cdee">
<circle cx="194.6" cy="30.1" r="1.05"/>
<circle cx="194.0" cy="31.5" r="1.05"/>
<circle cx="199.6" cy="37.3" r="1.05"/>
<circle cx="198.5" cy="37.5" r="1.05"/>
<circle cx="200.7" cy="42.1" r="1.05"/>
</g>
<g fill="#5db994">
<circle cx="191.3" cy="40.5" r="1.05"/>
</g>
<g fill="#87cdee">
<circle cx="203.8" cy="29.2" r="1.05"/>
</g>
<g fill="#5db994">
<circle cx="190.2" cy="38.1" r="1.05"/>
<circle cx="188.3" cy="46.8" r="1.05"/>
<circle cx="193.4" cy="39.4" r="1.05"/>
</g>
<g fill="#87cdee">
<circle cx="200.5" cy="45.6" r="1.05"/>
<circle cx="201.5" cy="49.1" r="1.05"/>
</g>
<g fill="#5db994">
<circle cx="185.3" cy="30.7" r="1.05"/>
</g>
<g fill="#87cdee">
<circle cx="193.7" cy="38.2" r="1.05"/>
<circle cx="205.5" cy="47.6" r="1.05"/>
<circle cx="194.9" cy="39.5" r="1.05"/>
</g>
<g fill="#5db994">
<circle cx="197.6" cy="26.5" r="1.05"/>
</g>
<g fill="#87cdee">
<circle cx="194.2" cy="51.0" r="1.05"/>
</g>
<g fill="#5db994">
<circle cx="183.8" cy="28.0" r="1.05"/>
</g>
<g fill="#87cdee">
<circle cx="203.0" cy="45.9" r="1.05"/>
</g>
<g fill="#4b73bf">
<circle cx="192.1" cy="32.1" r="1.05"/>
</g>
<g fill="#87cdee">
<circle cx="190.8" cy="37.6" r="1.05"/>
</g>
<g fill="#4b73bf">
<circle cx="191.5" cy="42.3" r="1.05"/>
</g>
<g fill="#5db994">
<circle cx="198.6" cy="30.3" r="1.05"/>
</g>
<g fill="#87cdee">
<circle cx="202.1" cy="29.1" r="1.05"/>
</g>
<g fill="#5db994">
<circle cx="191.6" cy="39.4" r="1.05"/>
</g>
<g fill="#87cdee">
<circle cx="198.7" cy="35.9" r="1.05"/>
<circle cx="197.4" cy="30.1" r="1.05"/>
</g>
<g fill="#4b73bf">
<circle cx="189.4" cy="42.3" r="1.05"/>
</g>
<g fill="#5db994">
<circle cx="199.6" cy="38.8" r="1.05"/>
<circle cx="189.9" cy="37.1" r="1.05"/>
<circle cx="190.7" cy="38.1" r="1.05"/>
</g>
<g fill="#87cdee">
<circle cx="201.3" cy="32.9" r="1.05"/>
<circle cx="198.2" cy="35.1" r="1.05"/>
<circle cx="195.1" cy="32.5" r="1.05"/>
</g>
<g fill="#5db994">
<circle cx="187.8" cy="32.2" r="1.05"/>
</g>
<g fill="#87cdee">
<circle cx="203.2" cy="26.9" r="1.05"/>
<circle cx="193.3" cy="46.4" r="1.05"/>
</g>
<g fill="#5db994">
<circle cx="196.6" cy="27.4" r="1.05"/>
<circle cx="202.7" cy="33.5" r="1.05"/>
<circle cx="186.8" cy="39.9" r="1.05"/>
<circle cx="195.8" cy="41.4" r="1.05"/>
</g>
<g fill="#87cdee">
<circle cx="203.8" cy="46.1" r="1.05"/>
</g>
<g fill="#5db994">
<circle cx="195.5" cy="31.8" r="1.05"/>
<circle cx="198.1" cy="26.8" r="1.05"/>
<circle cx="190.4" cy="41.4" r="1.05"/>
</g>
<g fill="#4b73bf">
<circle cx="188.2" cy="32.6" r="1.05"/>
</g>
<g fill="#5db994">
<circle cx="190.5" cy="40.1" r="1.05"/>
<circle cx="182.1" cy="45.2" r="1.05"/>
<circle cx="184.8" cy="35.5" r="1.05"/>
</g>
<g fill="#87cdee">
<circle cx="204.4" cy="52.1" r="1.05"/>
</g>
<g fill="#5db994">
<circle cx="190.5" cy="37.4" r="1.05"/>
<circle cx="191.7" cy="36.7" r="1.05"/>
<circle cx="192.3" cy="32.6" r="1.05"/>
<circle cx="191.6" cy="37.0" r="1.05"/>
</g>
<g fill="#87cdee">
<circle cx="193.5" cy="37.1" r="1.05"/>
</g>
<g fill="#5db994">
<circle cx="186.0" cy="23.6" r="1.05"/>
<circle cx="188.9" cy="38.6" r="1.05"/>
</g>
<g fill="#87cdee">
<circle cx="202.6" cy="29.4" r="1.05"/>
</g>
<g fill="#5db994">
<circle cx="184.3" cy="40.0" r="1.05"/>
</g>
<g fill="#87cdee">
<circle cx="201.4" cy="41.6" r="1.05"/>
</g>
<g fill="#5db994">
<circle cx="198.3" cy="30.3" r="1.05"/>
<circle cx="190.7" cy="41.7" r="1.05"/>
</g>
<g fill="#87cdee">
<circle cx="204.0" cy="31.9" r="1.05"/>
</g>
<g fill="#4b73bf">
<circle cx="199.9" cy="30.2" r="1.05"/>
</g>
<g fill="#5db994">
<circle cx="187.7" cy="44.6" r="1.05"/>
<circle cx="184.4" cy="36.1" r="1.05"/>
</g>
<g fill="#87cdee">
<circle cx="199.4" cy="36.3" r="1.05"/>
<circle cx="203.4" cy="34.8" r="1.05"/>
</g>
<g fill="#5db994">
<circle cx="190.6" cy="47.0" r="1.05"/>
<circle cx="191.7" cy="42.2" r="1.05"/>
<circle cx="197.0" cy="34.3" r="1.05"/>
</g>
<g fill="#4b73bf">
<circle cx="192.9" cy="39.3" r="1.05"/>
</g>
<g fill="#87cdee">
<circle cx="198.2" cy="40.1" r="1.05"/>
</g>
<g fill="#5db994">
<circle cx="188.4" cy="47.5" r="1.05"/>
</g>
<g fill="#4b73bf">
<circle cx="198.2" cy="26.3" r="1.05"/>
</g>
<g fill="#87cdee">
<circle cx="199.6" cy="42.1" r="1.05"/>
</g>
<g fill="#5db994">
<circle cx="194.0" cy="37.9" r="1.05"/>
<circle cx="183.0" cy="36.6" r="1.05"/>
<circle cx="187.0" cy="33.9" r="1.05"/>
<circle cx="187.6" cy="27.3" r="1.05"/>
<circle cx="186.8" cy="27.8" r="1.05"/>
<circle cx="191.1" cy="46.2" r="1.05"/>
</g>
<g fill="#4b73bf">
<circle cx="195.2" cy="35.8" r="1.05"/>
</g>
<g fill="#87cdee">
<circle cx="201.1" cy="46.1" r="1.05"/>
<circle cx="197.0" cy="28.7" r="1.05"/>
<circle cx="204.6" cy="31.8" r="1.05"/>
</g>
<g fill="#5db994">
<circle cx="194.4" cy="37.6" r="1.05"/>
</g>
<g fill="#87cdee">
<circle cx="200.5" cy="46.5" r="1.05"/>
<circle cx="200.1" cy="40.1" r="1.05"/>
<circle cx="199.6" cy="37.6" r="1.05"/>
<circle cx="202.9" cy="42.5" r="1.05"/>
<circle cx="204.6" cy="27.7" r="1.05"/>
<circle cx="199.4" cy="33.3" r="1.05"/>
</g>
<g fill="#5db994">
<circle cx="191.5" cy="39.4" r="1.05"/>
<circle cx="187.4" cy="38.6" r="1.05"/>
</g>
<g fill="#87cdee">
<circle cx="200.6" cy="31.8" r="1.05"/>
<circle cx="199.7" cy="40.9" r="1.05"/>
<circle cx="205.6" cy="40.9" r="1.05"/>
</g>
<g fill="#5db994">
<circle cx="192.3" cy="32.2" r="1.05"/>
</g>
<g fill="#4b73bf">
<circle cx="193.3" cy="34.4" r="1.05"/>
</g>
<g fill="#87cdee">
<circle cx="194.0" cy="28.5" r="1.05"/>
<circle cx="203.2" cy="37.4" r="1.05"/>
</g>
<g fill="#5db994">
<circle cx="194.6" cy="36.4" r="1.05"/>
</g>
<g fill="#87cdee">
<circle cx="198.9" cy="44.6" r="1.05"/>
</g>
<g fill="#4b73bf">
<circle cx="192.4" cy="32.4" r="1.05"/>
</g>
<g fill="#87cdee">
<circle cx="194.7" cy="45.1" r="1.05"/>
</g>
<g fill="#5db994">
<circle cx="183.4" cy="38.2" r="1.05"/>
</g>
<g fill="#87cdee">
<circle cx="198.6" cy="36.0" r="1.05"/>
<circle cx="201.2" cy="35.1" r="1.05"/>
</g>
<g fill="#5db994">
<circle cx="188.5" cy="28.3" r="1.05"/>
</g>
<g fill="#87cdee">
<circle cx="204.9" cy="39.4" r="1.05"/>
<circle cx="202.0" cy="32.1" r="1.05"/>
</g>
<g fill="#5db994">
<circle cx="190.5" cy="40.2" r="1.05"/>
<circle cx="196.9" cy="35.2" r="1.05"/>
</g>
<g fill="#87cdee">
<circle cx="195.7" cy="30.9" r="1.05"/>
</g>
<g fill="#5db994">
<circle cx="199.6" cy="44.1" r="1.05"/>
<circle cx="190.8" cy="34.4" r="1.05"/>
<circle cx="189.0" cy="53.0" r="1.05"/>
<circle cx="187.8" cy="46.0" r="1.05"/>
</g>
<g fill="#87cdee">
<circle cx="198.7" cy="44.1" r="1.05"/>
</g>
<g fill="#5db994">
<circle cx="192.2" cy="34.5" r="1.05"/>
<circle cx="189.5" cy="37.9" r="1.05"/>
<circle cx="198.1" cy="31.1" r="1.05"/>
<circle cx="195.2" cy="30.2" r="1.05"/>
<circle cx="185.4" cy="40.1" r="1.05"/>
<circle cx="193.7" cy="45.3" r="1.05"/>
<circle cx="198.0" cy="35.9" r="1.05"/>
</g>
<g fill="#87cdee">
<circle cx="191.0" cy="47.2" r="1.05"/>
<circle cx="206.2" cy="33.5" r="1.05"/>
<circle cx="199.0" cy="44.1" r="1.05"/>
</g>
<g fill="#4b73bf">
<circle cx="194.6" cy="44.1" r="1.05"/>
</g>
<g fill="#87cdee">
<circle cx="206.6" cy="39.4" r="1.05"/>
</g>
<g fill="#5db994">
<circle cx="193.5" cy="40.1" r="1.05"/>
</g>
<g fill="#87cdee">
<circle cx="198.0" cy="35.0" r="1.05"/>
<circle cx="198.1" cy="55.2" r="1.05"/>
<circle cx="193.4" cy="41.9" r="1.05"/>
<circle cx="204.0" cy="45.9" r="1.05"/>
<circle cx="200.8" cy="37.0" r="1.05"/>
<circle cx="195.4" cy="34.7" r="1.05"/>
</g>
<g fill="#5db994">
<circle cx="202.6" cy="35.3" r="1.05"/>
<circle cx="177.8" cy="34.7" r="1.05"/>
</g>
<g fill="#87cdee">
<circle cx="199.5" cy="30.7" r="1.05"/>
</g>
<g fill="#4b73bf">
<circle cx="196.7" cy="39.4" r="1.05"/>
</g>
<g fill="#87cdee">
<circle cx="197.8" cy="42.9" r="1.05"/>
</g>
<g fill="#5db994">
<circle cx="194.3" cy="31.7" r="1.05"/>
<circle cx="193.5" cy="37.2" r="1.05"/>
</g>
<g fill="#87cdee">
<circle cx="200.9" cy="35.6" r="1.05"/>
</g>
<g fill="#5db994">
<circle cx="184.4" cy="26.9" r="1.05"/>
</g>
<g fill="#87cdee">
<circle cx="193.7" cy="28.3" r="1.05"/>
<circle cx="204.5" cy="39.4" r="1.05"/>
</g>
<g fill="#5db994">
<circle cx="192.3" cy="45.2" r="1.05"/>
<circle cx="188.4" cy="41.8" r="1.05"/>
<circle cx="194.3" cy="38.6" r="1.05"/>
</g>
<g fill="#87cdee">
<circle cx="200.8" cy="36.7" r="1.05"/>
</g>
<g fill="#5db994">
<circle cx="186.5" cy="22.5" r="1.05"/>
</g>
<g fill="#87cdee">
<circle cx="197.6" cy="38.1" r="1.05"/>
<circle cx="195.1" cy="37.2" r="1.05"/>
<circle cx="195.1" cy="40.3" r="1.05"/>
</g>
<g fill="#5db994">
<circle cx="193.2" cy="31.1" r="1.05"/>
<circle cx="192.1" cy="34.1" r="1.05"/>
</g>
<g fill="#4b73bf">
<circle cx="197.5" cy="36.8" r="1.05"/>
</g>
<g fill="#5db994">
<circle cx="185.0" cy="25.5" r="1.05"/>
</g>
<g fill="#87cdee">
<circle cx="203.9" cy="35.7" r="1.05"/>
</g>
<g fill="#4b73bf">
<circle cx="200.0" cy="48.7" r="1.05"/>
</g>
<g fill="#87cdee">
<circle cx="201.5" cy="40.1" r="1.05"/>
<circle cx="203.5" cy="29.2" r="1.05"/>
<circle cx="200.1" cy="31.5" r="1.05"/>
</g>
<g fill="#5db994">
<circle cx="191.6" cy="33.4" r="1.05"/>
</g>
<g fill="#87cdee">
<circle cx="191.7" cy="24.9" r="1.05"/>
</g>
<g fill="#5db994">
<circle cx="205.4" cy="35.8" r="1.05"/>
</g>
<g fill="#4b73bf">
<circle cx="197.1" cy="21.9" r="1.05"/>
</g>
<g fill="#87cdee">
<circle cx="197.4" cy="40.3" r="1.05"/>
<circle cx="202.8" cy="35.3" r="1.05"/>
<circle cx="197.8" cy="24.7" r="1.05"/>
</g>
<g fill="#5db994">
<circle cx="191.3" cy="39.7" r="1.05"/>
<circle cx="179.8" cy="36.3" r="1.05"/>
</g>
<g fill="#87cdee">
<circle cx="194.4" cy="31.6" r="1.05"/>
</g>
<g fill="#5db994">
<circle cx="192.4" cy="31.5" r="1.05"/>
<circle cx="186.6" cy="28.8" r="1.05"/>
</g>
<g fill="#87cdee">
<circle cx="193.6" cy="34.3" r="1.05"/>
</g>
<g fill="#5db994">
<circle cx="191.3" cy="37.2" r="1.05"/>
<circle cx="189.9" cy="44.1" r="1.05"/>
<circle cx="191.1" cy="41.2" r="1.05"/>
</g>
<g fill="#87cdee">
<circle cx="202.6" cy="35.7" r="1.05"/>
</g>
<g fill="#5db994">
<circle cx="187.6" cy="47.6" r="1.05"/>
</g>
<g fill="#4b73bf">
<circle cx="198.9" cy="34.7" r="1.05"/>
</g>
<g fill="#5db994">
<circle cx="186.8" cy="41.8" r="1.05"/>
<circle cx="197.1" cy="37.0" r="1.05"/>
<circle cx="184.2" cy="38.4" r="1.05"/>
</g>
<g fill="#87cdee">
<circle cx="206.2" cy="34.4" r="1.05"/>
<circle cx="200.2" cy="46.9" r="1.05"/>
<circle cx="200.7" cy="36.0" r="1.05"/>
</g>
<g fill="#5db994">
<circle cx="195.9" cy="33.9" r="1.05"/>
<circle cx="185.4" cy="33.6" r="1.05"/>
</g>
<g fill="#4b73bf">
<circle cx="190.8" cy="33.4" r="1.05"/>
</g>
<g fill="#5db994">
<circle cx="192.5" cy="38.7" r="1.05"/>
<circle cx="188.9" cy="40.3" r="1.05"/>
</g>
<g fill="#87cdee">
<circle cx="196.2" cy="36.3" r="1.05"/>
<circle cx="199.4" cy="37.9" r="1.05"/>
</g>
<g fill="#5db994">
<circle cx="190.3" cy="32.7" r="1.05"/>
</g>
<g fill="#4b73bf">
<circle cx="196.9" cy="36.2" r="1.05"/>
</g>
<g fill="#5db994">
<circle cx="194.7" cy="47.5" r="1.05"/>
</g>
<g fill="#87cdee">
<circle cx="200.8" cy="39.2" r="1.05"/>
<circle cx="195.9" cy="32.0" r="1.05"/>
</g>
<g fill="#5db994">
<circle cx="193.8" cy="32.6" r="1.05"/>
</g>
<g fill="#87cdee">
<circle cx="203.4" cy="43.7" r="1.05"/>
<circle cx="201.7" cy="30.8" r="1.05"/>
</g>
<g fill="#5db994">
<circle cx="184.8" cy="39.5" r="1.05"/>
</g>
<g fill="#87cdee">
<circle cx="206.1" cy="42.8" r="1.05"/>
</g>
<g fill="#4b73bf">
<circle cx="194.1" cy="39.6" r="1.05"/>
</g>
<g fill="#87cdee">
<circle cx="201.2" cy="33.6" r="1.05"/>
<circle cx="204.2" cy="38.3" r="1.05"/>
</g>
<g fill="#5db994">
<circle cx="197.6" cy="36.8" r="1.05"/>
</g>
<g fill="#87cdee">
<circle cx="197.3" cy="36.7" r="1.05"/>
</g>
<g fill="#5db994">
<circle cx="192.0" cy="41.5" r="1.05"/>
<circle cx="191.3" cy="32.2" r="1.05"/>
</g>
<g fill="#87cdee">
<circle cx="196.6" cy="25.8" r="1.05"/>
</g>
<g fill="#5db994">
<circle cx="198.7" cy="47.0" r="1.05"/>
</g>
<g fill="#87cdee">
<circle cx="200.8" cy="33.4" r="1.05"/>
</g>
<g fill="#5db994">
<circle cx="188.2" cy="37.9" r="1.05"/>
<circle cx="198.6" cy="47.9" r="1.05"/>
<circle cx="187.6" cy="35.3" r="1.05"/>
</g>
<g fill="#4b73bf">
<circle cx="194.1" cy="30.3" r="1.05"/>
</g>
<g fill="#5db994">
<circle cx="185.3" cy="35.5" r="1.05"/>
</g>
<g fill="#87cdee">
<circle cx="200.7" cy="40.2" r="1.05"/>
<circle cx="196.4" cy="33.1" r="1.05"/>
<circle cx="196.8" cy="36.0" r="1.05"/>
<circle cx="203.6" cy="33.3" r="1.05"/>
<circle cx="200.6" cy="36.0" r="1.05"/>
</g>
<g fill="#5db994">
<circle cx="206.1" cy="33.0" r="1.05"/>
</g>
<g fill="#4b73bf">
<circle cx="200.9" cy="34.7" r="1.05"/>
</g>
<g fill="#5db994">
<circle cx="188.6" cy="32.2" r="1.05"/>
</g>
<g fill="#87cdee">
<circle cx="203.5" cy="49.6" r="1.05"/>
<circle cx="205.2" cy="36.2" r="1.05"/>
</g>
<g fill="#5db994">
<circle cx="195.4" cy="35.2" r="1.05"/>
<circle cx="188.7" cy="36.0" r="1.05"/>
<circle cx="201.0" cy="26.6" r="1.05"/>
</g>
<g fill="#4b73bf">
<circle cx="199.0" cy="25.4" r="1.05"/>
</g>
<g fill="#5db994">
<circle cx="202.4" cy="35.9" r="1.05"/>
</g>
<g fill="#87cdee">
<circle cx="200.1" cy="33.8" r="1.05"/>
<circle cx="200.3" cy="47.1" r="1.05"/>
</g>
<g fill="#4b73bf">
<circle cx="198.7" cy="44.0" r="1.05"/>
</g>
<g fill="#87cdee">
<circle cx="189.3" cy="38.2" r="1.05"/>
</g>
<g fill="#5db994">
<circle cx="189.1" cy="37.3" r="1.05"/>
<circle cx="202.0" cy="26.6" r="1.05"/>
<circle cx="187.0" cy="40.8" r="1.05"/>
</g>
<g fill="#4b73bf">
<circle cx="205.3" cy="33.6" r="1.05"/>
</g>
<g fill="#87cdee">
<circle cx="198.3" cy="40.9" r="1.05"/>
<circle cx="197.8" cy="29.8" r="1.05"/>
</g>
<g fill="#5db994">
<circle cx="204.5" cy="36.8" r="1.05"/>
<circle cx="193.6" cy="24.6" r="1.05"/>
</g>
<g fill="#87cdee">
<circle cx="203.1" cy="42.4" r="1.05"/>
</g>
<g fill="#5db994">
<circle cx="174.6" cy="38.5" r="1.05"/>
</g>
<g fill="#87cdee">
<circle cx="199.2" cy="30.6" r="1.05"/>
</g>
<g fill="#5db994">
<circle cx="187.8" cy="34.5" r="1.05"/>
</g>
<g fill="#87cdee">
<circle cx="201.6" cy="31.5" r="1.05"/>
<circle cx="189.2" cy="48.5" r="1.05"/>
</g>
<g fill="#5db994">
<circle cx="194.5" cy="28.9" r="1.05"/>
<circle cx="191.4" cy="29.7" r="1.05"/>
</g>
<g fill="#87cdee">
<circle cx="200.0" cy="34.1" r="1.05"/>
</g>
<g fill="#5db994">
<circle cx="194.9" cy="29.7" r="1.05"/>
<circle cx="178.8" cy="30.8" r="1.05"/>
<circle cx="198.8" cy="28.6" r="1.05"/>
<circle cx="191.8" cy="33.8" r="1.05"/>
</g>
<g fill="#87cdee">
<circle cx="199.1" cy="32.5" r="1.05"/>
</g>
<g fill="#5db994">
<circle cx="191.1" cy="45.0" r="1.05"/>
</g>
<g fill="#4b73bf">
<circle cx="187.6" cy="46.0" r="1.05"/>
</g>
<g fill="#5db994">
<circle cx="184.1" cy="37.8" r="1.05"/>
</g>
<g fill="#87cdee">
<circle cx="192.2" cy="42.1" r="1.05"/>
<circle cx="200.2" cy="31.5" r="1.05"/>
</g>
<g fill="#5db994">
<circle cx="192.7" cy="31.6" r="1.05"/>
</g>
<g fill="#87cdee">
<circle cx="194.1" cy="39.6" r="1.05"/>
</g>
<g fill="#4b73bf">
<circle cx="196.0" cy="27.6" r="1.05"/>
</g>
<g fill="#5db994">
<circle cx="192.5" cy="33.4" r="1.05"/>
</g>
<g fill="#4b73bf">
<circle cx="197.9" cy="36.7" r="1.05"/>
</g>
<g fill="#87cdee">
<circle cx="195.5" cy="34.4" r="1.05"/>
</g>
<g fill="#5db994">
<circle cx="193.0" cy="39.3" r="1.05"/>
</g>
<g fill="#87cdee">
<circle cx="197.3" cy="35.5" r="1.05"/>
</g>
<g fill="#5db994">
<circle cx="199.5" cy="40.3" r="1.05"/>
</g>
<g fill="#87cdee">
<circle cx="195.4" cy="44.0" r="1.05"/>
</g>
<g fill="#4b73bf">
<circle cx="191.3" cy="36.3" r="1.05"/>
<circle cx="193.2" cy="48.7" r="1.05"/>
</g>
<g fill="#87cdee">
<circle cx="202.1" cy="24.2" r="1.05"/>
</g>
<g fill="#5db994">
<circle cx="191.6" cy="43.3" r="1.05"/>
</g>
<g fill="#87cdee">
<circle cx="199.8" cy="35.3" r="1.05"/>
</g>
<g fill="#5db994">
<circle cx="187.5" cy="30.9" r="1.05"/>
<circle cx="196.2" cy="37.7" r="1.05"/>
</g>
<g fill="#87cdee">
<circle cx="200.5" cy="35.4" r="1.05"/>
</g>
<g fill="#5db994">
<circle cx="190.9" cy="37.0" r="1.05"/>
<circle cx="192.7" cy="33.9" r="1.05"/>
</g>
<g fill="#87cdee">
<circle cx="198.1" cy="39.2" r="1.05"/>
<circle cx="195.6" cy="33.3" r="1.05"/>
</g>
<g fill="#5db994">
<circle cx="195.1" cy="35.0" r="1.05"/>
</g>
<g fill="#87cdee">
<circle cx="199.9" cy="36.5" r="1.05"/>
</g>
<g fill="#5db994">
<circle cx="193.5" cy="42.6" r="1.05"/>
</g>
<g fill="#87cdee">
<circle cx="194.7" cy="35.8" r="1.05"/>
</g>
<g fill="#4b73bf">
<circle cx="196.2" cy="34.2" r="1.05"/>
</g>
<g fill="#5db994">
<circle cx="192.5" cy="36.5" r="1.05"/>
<circle cx="193.2" cy="48.2" r="1.05"/>
</g>
<g fill="#4b73bf">
<circle cx="196.3" cy="35.4" r="1.05"/>
</g>
<g fill="#87cdee">
<circle cx="199.5" cy="27.8" r="1.05"/>
</g>
<g fill="#5db994">
<circle cx="192.6" cy="33.7" r="1.05"/>
</g>
<g fill="#87cdee">
<circle cx="195.8" cy="36.3" r="1.05"/>
<circle cx="200.5" cy="30.5" r="1.05"/>
<circle cx="198.9" cy="37.6" r="1.05"/>
<circle cx="206.1" cy="30.5" r="1.05"/>
<circle cx="197.6" cy="31.5" r="1.05"/>
</g>
<g fill="#5db994">
<circle cx="190.1" cy="32.8" r="1.05"/>
</g>
<g fill="#87cdee">
<circle cx="206.3" cy="41.8" r="1.05"/>
</g>
<g fill="#4b73bf">
<circle cx="186.2" cy="21.1" r="1.05"/>
</g>
<g fill="#5db994">
<circle cx="198.3" cy="38.3" r="1.05"/>
</g>
<g fill="#87cdee">
<circle cx="197.1" cy="45.9" r="1.05"/>
<circle cx="196.8" cy="32.6" r="1.05"/>
</g>
<g fill="#5db994">
<circle cx="185.2" cy="29.8" r="1.05"/>
</g>
<g fill="#4b73bf">
<circle cx="187.1" cy="35.1" r="1.05"/>
</g>
<g fill="#87cdee">
<circle cx="201.8" cy="34.8" r="1.05"/>
<circle cx="198.5" cy="29.3" r="1.05"/>
<circle cx="191.7" cy="41.1" r="1.05"/>
</g>
<g fill="#5db994">
<circle cx="192.9" cy="39.8" r="1.05"/>
</g>
<g fill="#87cdee">
<circle cx="202.3" cy="39.7" r="1.05"/>
</g>
<g fill="#4b73bf">
<circle cx="196.2" cy="40.0" r="1.05"/>
</g>
<g fill="#87cdee">
<circle cx="197.4" cy="32.5" r="1.05"/>
<circle cx="197.8" cy="40.9" r="1.05"/>
</g>
<g fill="#5db994">
<circle cx="193.5" cy="40.6" r="1.05"/>
<circle cx="197.9" cy="33.1" r="1.05"/>
</g>
<g fill="#87cdee">
<circle cx="199.0" cy="39.7" r="1.05"/>
</g>
<g fill="#5db994">
<circle cx="194.1" cy="36.5" r="1.05"/>
<circle cx="192.4" cy="41.8" r="1.05"/>
<circle cx="194.2" cy="41.8" r="1.05"/>
</g>
<g fill="#87cdee">
<circle cx="201.9" cy="46.7" r="1.05"/>
</g>
<g fill="#5db994">
<circle cx="191.7" cy="40.0" r="1.05"/>
</g>
<g fill="#87cdee">
<circle cx="204.1" cy="36.9" r="1.05"/>
</g>
<g fill="#5db994">
<circle cx="195.9" cy="42.0" r="1.05"/>
<circle cx="183.0" cy="34.0" r="1.05"/>
<circle cx="196.5" cy="38.2" r="1.05"/>
<circle cx="190.2" cy="32.6" r="1.05"/>
<circle cx="186.1" cy="36.1" r="1.05"/>
</g>
<g fill="#87cdee">
<circle cx="204.3" cy="42.5" r="1.05"/>
</g>
<g fill="#5db994">
<circle cx="181.5" cy="39.9" r="1.05"/>
</g>
<g fill="#87cdee">
<circle cx="198.6" cy="49.9" r="1.05"/>
<circle cx="191.8" cy="40.9" r="1.05"/>
<circle cx="200.9" cy="28.3" r="1.05"/>
</g>
<g fill="#4b73bf">
<circle cx="196.2" cy="35.6" r="1.05"/>
</g>
<g fill="#5db994">
<circle cx="188.8" cy="41.5" r="1.05"/>
</g>
<g fill="#87cdee">
<circle cx="199.9" cy="37.9" r="1.05"/>
<circle cx="207.0" cy="43.0" r="1.05"/>
<circle cx="191.0" cy="33.3" r="1.05"/>
<circle cx="202.7" cy="37.6" r="1.05"/>
</g>
<g fill="#5db994">
<circle cx="198.9" cy="33.7" r="1.05"/>
</g>
<g fill="#87cdee">
<circle cx="194.2" cy="33.6" r="1.05"/>
<circle cx="199.7" cy="27.0" r="1.05"/>
</g>
<g fill="#5db994">
<circle cx="194.5" cy="35.9" r="1.05"/>
</g>
<g fill="#87cdee">
<circle cx="202.3" cy="35.4" r="1.05"/>
<circle cx="198.3" cy="30.0" r="1.05"/>
</g>
<g fill="#5db994">
<circle cx="195.0" cy="39.5" r="1.05"/>
<circle cx="192.9" cy="37.2" r="1.05"/>
<circle cx="188.5" cy="39.7" r="1.05"/>
</g>
<g fill="#87cdee">
<circle cx="201.6" cy="36.0" r="1.05"/>
</g>
<g fill="#5db994">
<circle cx="189.3" cy="44.5" r="1.05"/>
</g>
<g fill="#87cdee">
<circle cx="193.1" cy="34.4" r="1.05"/>
</g>
<g fill="#4b73bf">
<circle cx="199.2" cy="28.3" r="1.05"/>
</g>
<g fill="#87cdee">
<circle cx="205.0" cy="47.7" r="1.05"/>
</g>
<g fill="#4b73bf">
<circle cx="193.3" cy="29.7" r="1.05"/>
</g>
<g fill="#87cdee">
<circle cx="192.7" cy="37.0" r="1.05"/>
</g>
<g fill="#5db994">
<circle cx="195.7" cy="37.5" r="1.05"/>
</g>
<g fill="#4b73bf">
<circle cx="195.4" cy="22.8" r="1.05"/>
</g>
<g fill="#5db994">
<circle cx="189.3" cy="30.6" r="1.05"/>
</g>
<g fill="#87cdee">
<circle cx="199.2" cy="41.3" r="1.05"/>
</g>
<g fill="#5db994">
<circle cx="178.6" cy="39.3" r="1.05"/>
</g>
<g fill="#87cdee">
<circle cx="207.3" cy="36.8" r="1.05"/>
<circle cx="209.8" cy="41.5" r="1.05"/>
<circle cx="198.6" cy="37.6" r="1.05"/>
</g>
<g fill="#4b73bf">
<circle cx="195.0" cy="40.8" r="1.05"/>
</g>
<g fill="#5db994">
<circle cx="191.8" cy="52.8" r="1.05"/>
<circle cx="189.2" cy="39.8" r="1.05"/>
</g>
<g fill="#87cdee">
<circle cx="203.4" cy="29.6" r="1.05"/>
<circle cx="192.8" cy="35.4" r="1.05"/>
</g>
<g fill="#5db994">
<circle cx="188.1" cy="35.7" r="1.05"/>
</g>
<g fill="#87cdee">
<circle cx="208.1" cy="43.5" r="1.05"/>
</g>
<g fill="#5db994">
<circle cx="196.2" cy="37.3" r="1.05"/>
<circle cx="192.8" cy="45.3" r="1.05"/>
</g>
<g fill="#4b73bf">
<circle cx="196.2" cy="38.9" r="1.05"/>
</g>
<g fill="#5db994">
<circle cx="193.4" cy="26.9" r="1.05"/>
</g>
<g fill="#87cdee">
<circle cx="201.8" cy="41.5" r="1.05"/>
<circle cx="201.8" cy="23.0" r="1.05"/>
<circle cx="194.5" cy="37.8" r="1.05"/>
</g>
<g fill="#5db994">
<circle cx="192.4" cy="29.4" r="1.05"/>
<circle cx="185.4" cy="32.4" r="1.05"/>
<circle cx="191.5" cy="37.6" r="1.05"/>
<circle cx="195.6" cy="40.4" r="1.05"/>
<circle cx="187.5" cy="39.2" r="1.05"/>
</g>
<g fill="#87cdee">
<circle cx="201.8" cy="43.1" r="1.05"/>
<circle cx="205.8" cy="36.2" r="1.05"/>
<circle cx="201.7" cy="37.5" r="1.05"/>
<circle cx="201.4" cy="28.1" r="1.05"/>
</g>
<g fill="#5db994">
<circle cx="188.5" cy="24.2" r="1.05"/>
<circle cx="200.0" cy="33.7" r="1.05"/>
<circle cx="200.3" cy="30.9" r="1.05"/>
</g>
<g fill="#4b73bf">
<circle cx="182.6" cy="37.1" r="1.05"/>
</g>
<g fill="#5db994">
<circle cx="197.8" cy="36.7" r="1.05"/>
<circle cx="186.8" cy="41.8" r="1.05"/>
</g>
<g fill="#87cdee">
<circle cx="208.4" cy="39.7" r="1.05"/>
</g>
<g fill="#5db994">
<circle cx="196.7" cy="32.7" r="1.05"/>
</g>
<g fill="#87cdee">
<circle cx="208.6" cy="39.5" r="1.05"/>
</g>
<g fill="#5db994">
<circle cx="193.8" cy="50.3" r="1.05"/>
<circle cx="190.9" cy="35.8" r="1.05"/>
</g>
<g fill="#87cdee">
<circle cx="204.4" cy="25.5" r="1.05"/>
</g>
<g fill="#5db994">
<circle cx="195.4" cy="36.1" r="1.05"/>
</g>
<g fill="#87cdee">
<circle cx="199.0" cy="42.8" r="1.05"/>
</g>
<g fill="#5db994">
<circle cx="194.1" cy="46.8" r="1.05"/>
<circle cx="198.8" cy="21.6" r="1.05"/>
<circle cx="201.5" cy="32.9" r="1.05"/>
</g>
<g fill="#87cdee">
<circle cx="201.0" cy="26.2" r="1.05"/>
</g>
<g fill="#5db994">
<circle cx="181.3" cy="31.4" r="1.05"/>
<circle cx="187.8" cy="53.9" r="1.05"/>
</g>
<g fill="#87cdee">
<circle cx="203.5" cy="32.5" r="1.05"/>
</g>
<g fill="#5db994">
<circle cx="189.1" cy="28.5" r="1.05"/>
</g>
<g fill="#87cdee">
<circle cx="200.8" cy="42.7" r="1.05"/>
</g>
<g fill="#5db994">
<circle cx="192.2" cy="34.5" r="1.05"/>
</g>
<g fill="#87cdee">
<circle cx="193.5" cy="31.8" r="1.05"/>
<circle cx="205.0" cy="36.2" r="1.05"/>
<circle cx="193.1" cy="39.3" r="1.05"/>
</g>
<g fill="#5db994">
<circle cx="196.2" cy="21.3" r="1.05"/>
<circle cx="197.2" cy="33.4" r="1.05"/>
</g>
<g fill="#87cdee">
<circle cx="205.2" cy="32.4" r="1.05"/>
</g>
<g fill="#4b73bf">
<circle cx="197.6" cy="44.4" r="1.05"/>
</g>
<g fill="#87cdee">
<circle cx="201.1" cy="36.1" r="1.05"/>
</g>
<g fill="#5db994">
<circle cx="195.5" cy="34.8" r="1.05"/>
</g>
<g fill="#87cdee">
<circle cx="204.0" cy="36.5" r="1.05"/>
<circle cx="203.2" cy="35.3" r="1.05"/>
<circle cx="197.2" cy="37.0" r="1.05"/>
</g>
<g fill="#4b73bf">
<circle cx="193.2" cy="41.8" r="1.05"/>
</g>
<g fill="#87cdee">
<circle cx="199.6" cy="37.4" r="1.05"/>
</g>
<g fill="#5db994">
<circle cx="190.5" cy="35.1" r="1.05"/>
<circle cx="186.3" cy="36.4" r="1.05"/>
</g>
<g fill="#87cdee">
<circle cx="197.7" cy="39.1" r="1.05"/>
</g>
<g fill="#4b73bf">
<circle cx="200.3" cy="39.6" r="1.05"/>
</g>
<g fill="#87cdee">
<circle cx="200.3" cy="33.5" r="1.05"/>
<circle cx="199.3" cy="41.9" r="1.05"/>
<circle cx="207.0" cy="39.0" r="1.05"/>
</g>
<g fill="#5db994">
<circle cx="199.6" cy="33.5" r="1.05"/>
</g>
<g fill="#87cdee">
<circle cx="194.3" cy="30.4" r="1.05"/>
<circle cx="199.6" cy="39.1" r="1.05"/>
<circle cx="200.1" cy="39.8" r="1.05"/>
<circle cx="199.3" cy="45.6" r="1.05"/>
</g>
<g fill="#5db994">
<circle cx="192.1" cy="38.1" r="1.05"/>
</g>
<g fill="#87cdee">
<circle cx="190.1" cy="36.7" r="1.05"/>
<circle cx="197.9" cy="28.8" r="1.05"/>
<circle cx="206.7" cy="27.2" r="1.05"/>
<circle cx="196.2" cy="33.0" r="1.05"/>
</g>
<g fill="#5db994">
<circle cx="192.9" cy="38.5" r="1.05"/>
<circle cx="188.8" cy="31.2" r="1.05"/>
<circle cx="189.0" cy="30.1" r="1.05"/>
</g>
<g fill="#87cdee">
<circle cx="197.8" cy="41.6" r="1.05"/>
</g>
<g fill="#5db994">
<circle cx="196.2" cy="35.9" r="1.05"/>
<circle cx="192.1" cy="30.2" r="1.05"/>
<circle cx="190.8" cy="44.4" r="1.05"/>
</g>
<g fill="#87cdee">
<circle cx="192.9" cy="33.6" r="1.05"/>
<circle cx="199.4" cy="34.8" r="1.05"/>
</g>
<g fill="#5db994">
<circle cx="197.7" cy="40.2" r="1.05"/>
<circle cx="189.5" cy="36.8" r="1.05"/>
</g>
<g fill="#4b73bf">
<circle cx="183.5" cy="35.5" r="1.05"/>
</g>
<g fill="#5db994">
<circle cx="197.5" cy="34.6" r="1.05"/>
</g>
<g fill="#87cdee">
<circle cx="194.6" cy="36.2" r="1.05"/>
<circle cx="198.0" cy="36.5" r="1.05"/>
<circle cx="191.2" cy="43.0" r="1.05"/>
</g>
<g fill="#5db994">
<circle cx="202.8" cy="41.4" r="1.05"/>
<circle cx="188.3" cy="37.9" r="1.05"/>
</g>
<g fill="#87cdee">
<circle cx="198.1" cy="31.7" r="1.05"/>
</g>
<g fill="#5db994">
<circle cx="196.3" cy="33.3" r="1.05"/>
<circle cx="190.4" cy="38.7" r="1.05"/>
</g>
<g fill="#87cdee">
<circle cx="198.0" cy="34.8" r="1.05"/>
<circle cx="195.4" cy="32.3" r="1.05"/>
<circle cx="193.8" cy="40.3" r="1.05"/>
<circle cx="201.0" cy="31.3" r="1.05"/>
</g>
<g fill="#5db994">
<circle cx="189.4" cy="38.7" r="1.05"/>
<circle cx="201.5" cy="37.2" r="1.05"/>
</g>
<g fill="#d18fc3">
<circle cx="190.0" cy="37.1" r="1.05"/>
<circle cx="189.9" cy="32.8" r="1.05"/>
<circle cx="197.3" cy="33.0" r="1.05"/>
<circle cx="191.0" cy="34.5" r="1.05"/>
<circle cx="190.1" cy="37.5" r="1.05"/>
<circle cx="188.4" cy="32.9" r="1.05"/>
<circle cx="198.9" cy="28.1" r="1.05"/>
<circle cx="188.9" cy="35.1" r="1.05"/>
<circle cx="184.5" cy="25.9" r="1.05"/>
<circle cx="190.2" cy="38.7" r="1.05"/>
<circle cx="193.3" cy="32.7" r="1.05"/>
<circle cx="188.6" cy="44.4" r="1.05"/>
<circle cx="194.4" cy="30.8" r="1.05"/>
<circle cx="198.0" cy="40.0" r="1.05"/>
<circle cx="190.2" cy="28.3" r="1.05"/>
<circle cx="199.6" cy="34.3" r="1.05"/>
<circle cx="190.8" cy="35.9" r="1.05"/>
<circle cx="191.5" cy="39.2" r="1.05"/>
<circle cx="190.3" cy="34.7" r="1.05"/>
<circle cx="194.5" cy="39.7" r="1.05"/>
<circle cx="190.0" cy="32.7" r="1.05"/>
<circle cx="197.3" cy="34.6" r="1.05"/>
<circle cx="195.9" cy="35.8" r="1.05"/>
<circle cx="193.2" cy="31.6" r="1.05"/>
<circle cx="192.4" cy="34.5" r="1.05"/>
<circle cx="190.3" cy="41.7" r="1.05"/>
<circle cx="188.2" cy="31.9" r="1.05"/>
<circle cx="193.8" cy="39.0" r="1.05"/>
<circle cx="190.0" cy="33.8" r="1.05"/>
<circle cx="190.0" cy="31.1" r="1.05"/>
<circle cx="196.9" cy="34.7" r="1.05"/>
<circle cx="191.0" cy="35.8" r="1.05"/>
<circle cx="195.7" cy="40.1" r="1.05"/>
<circle cx="193.7" cy="35.9" r="1.05"/>
<circle cx="194.5" cy="38.9" r="1.05"/>
<circle cx="194.6" cy="30.1" r="1.05"/>
<circle cx="192.9" cy="33.5" r="1.05"/>
<circle cx="198.3" cy="35.3" r="1.05"/>
<circle cx="190.1" cy="40.2" r="1.05"/>
<circle cx="191.2" cy="36.6" r="1.05"/>
<circle cx="192.3" cy="36.5" r="1.05"/>
<circle cx="196.2" cy="31.9" r="1.05"/>
<circle cx="190.3" cy="38.2" r="1.05"/>
<circle cx="191.6" cy="35.6" r="1.05"/>
<circle cx="196.0" cy="31.6" r="1.05"/>
<circle cx="196.0" cy="33.8" r="1.05"/>
<circle cx="190.6" cy="32.8" r="1.05"/>
<circle cx="200.1" cy="37.2" r="1.05"/>
<circle cx="194.3" cy="32.2" r="1.05"/>
<circle cx="197.5" cy="30.7" r="1.05"/>
<circle cx="191.0" cy="39.7" r="1.05"/>
<circle cx="196.4" cy="33.7" r="1.05"/>
<circle cx="194.9" cy="33.9" r="1.05"/>
<circle cx="188.3" cy="38.7" r="1.05"/>
<circle cx="193.0" cy="38.0" r="1.05"/>
<circle cx="195.3" cy="31.7" r="1.05"/>
<circle cx="193.2" cy="32.1" r="1.05"/>
<circle cx="194.0" cy="38.0" r="1.05"/>
<circle cx="196.0" cy="44.1" r="1.05"/>
<circle cx="191.4" cy="39.5" r="1.05"/>
<circle cx="195.7" cy="37.9" r="1.05"/>
<circle cx="189.9" cy="37.3" r="1.05"/>
<circle cx="194.1" cy="35.6" r="1.05"/>
<circle cx="194.0" cy="31.7" r="1.05"/>
<circle cx="192.6" cy="37.3" r="1.05"/>
<circle cx="192.0" cy="37.5" r="1.05"/>
<circle cx="197.4" cy="36.0" r="1.05"/>
<circle cx="191.4" cy="36.7" r="1.05"/>
<circle cx="192.1" cy="33.2" r="1.05"/>
<circle cx="191.7" cy="42.0" r="1.05"/>
<circle cx="195.1" cy="37.8" r="1.05"/>
<circle cx="195.7" cy="28.9" r="1.05"/>
<circle cx="194.2" cy="37.8" r="1.05"/>
<circle cx="191.9" cy="31.2" r="1.05"/>
<circle cx="194.7" cy="34.1" r="1.05"/>
<circle cx="196.3" cy="33.4" r="1.05"/>
<circle cx="193.0" cy="38.9" r="1.05"/>
<circle cx="196.1" cy="39.2" r="1.05"/>
<circle cx="192.0" cy="42.9" r="1.05"/>
<circle cx="189.7" cy="32.9" r="1.05"/>
<circle cx="192.6" cy="40.0" r="1.05"/>
<circle cx="194.1" cy="42.3" r="1.05"/>
<circle cx="195.4" cy="38.0" r="1.05"/>
<circle cx="189.9" cy="34.0" r="1.05"/>
<circle cx="193.0" cy="31.1" r="1.05"/>
<circle cx="190.1" cy="30.7" r="1.05"/>
<circle cx="191.2" cy="38.3" r="1.05"/>
<circle cx="194.3" cy="36.0" r="1.05"/>
<circle cx="194.3" cy="32.1" r="1.05"/>
<circle cx="191.6" cy="33.2" r="1.05"/>
<circle cx="189.5" cy="33.4" r="1.05"/>
<circle cx="189.6" cy="34.8" r="1.05"/>
<circle cx="195.2" cy="36.1" r="1.05"/>
<circle cx="192.8" cy="36.8" r="1.05"/>
<circle cx="191.9" cy="31.8" r="1.05"/>
<circle cx="186.4" cy="39.5" r="1.05"/>
<circle cx="193.6" cy="27.0" r="1.05"/>
<circle cx="193.7" cy="33.3" r="1.05"/>
<circle cx="192.4" cy="35.7" r="1.05"/>
<circle cx="190.4" cy="29.7" r="1.05"/>
<circle cx="190.4" cy="38.0" r="1.05"/>
<circle cx="189.6" cy="29.8" r="1.05"/>
<circle cx="192.6" cy="42.2" r="1.05"/>
<circle cx="189.6" cy="39.1" r="1.05"/>
<circle cx="193.2" cy="36.5" r="1.05"/>
<circle cx="197.2" cy="31.6" r="1.05"/>
<circle cx="192.3" cy="33.7" r="1.05"/>
<circle cx="194.5" cy="35.4" r="1.05"/>
<circle cx="193.4" cy="37.9" r="1.05"/>
<circle cx="191.8" cy="35.5" r="1.05"/>
<circle cx="190.7" cy="39.8" r="1.05"/>
<circle cx="195.3" cy="41.4" r="1.05"/>
<circle cx="187.6" cy="32.2" r="1.05"/>
<circle cx="192.4" cy="38.9" r="1.05"/>
<circle cx="191.2" cy="31.6" r="1.05"/>
<circle cx="198.9" cy="34.8" r="1.05"/>
<circle cx="193.0" cy="31.7" r="1.05"/>
<circle cx="198.9" cy="36.8" r="1.05"/>
<circle cx="191.7" cy="34.1" r="1.05"/>
<circle cx="192.6" cy="36.6" r="1.05"/>
<circle cx="193.1" cy="32.3" r="1.05"/>
<circle cx="197.4" cy="31.6" r="1.05"/>
<circle cx="197.0" cy="37.8" r="1.05"/>
<circle cx="188.1" cy="38.7" r="1.05"/>
<circle cx="193.8" cy="32.1" r="1.05"/>
<circle cx="199.4" cy="39.7" r="1.05"/>
<circle cx="185.5" cy="38.8" r="1.05"/>
<circle cx="190.5" cy="29.0" r="1.05"/>
<circle cx="194.8" cy="30.1" r="1.05"/>
<circle cx="191.4" cy="35.2" r="1.05"/>
<circle cx="191.4" cy="31.0" r="1.05"/>
<circle cx="184.7" cy="34.1" r="1.05"/>
<circle cx="196.5" cy="39.4" r="1.05"/>
<circle cx="197.6" cy="36.4" r="1.05"/>
<circle cx="193.4" cy="32.0" r="1.05"/>
<circle cx="183.9" cy="31.9" r="1.05"/>
<circle cx="189.7" cy="31.2" r="1.05"/>
<circle cx="192.5" cy="36.1" r="1.05"/>
<circle cx="190.3" cy="37.8" r="1.05"/>
<circle cx="193.4" cy="37.9" r="1.05"/>
<circle cx="196.0" cy="39.3" r="1.05"/>
<circle cx="191.3" cy="32.3" r="1.05"/>
<circle cx="192.7" cy="39.4" r="1.05"/>
<circle cx="185.0" cy="37.8" r="1.05"/>
<circle cx="190.8" cy="37.4" r="1.05"/>
<circle cx="193.9" cy="33.4" r="1.05"/>
<circle cx="189.7" cy="33.5" r="1.05"/>
<circle cx="194.2" cy="30.4" r="1.05"/>
<circle cx="192.6" cy="32.5" r="1.05"/>
<circle cx="190.2" cy="30.4" r="1.05"/>
<circle cx="186.9" cy="36.4" r="1.05"/>
<circle cx="193.3" cy="33.2" r="1.05"/>
<circle cx="191.7" cy="38.3" r="1.05"/>
<circle cx="192.8" cy="36.1" r="1.05"/>
<circle cx="192.1" cy="37.3" r="1.05"/>
<circle cx="191.4" cy="30.8" r="1.05"/>
<circle cx="194.8" cy="37.0" r="1.05"/>
<circle cx="189.3" cy="35.5" r="1.05"/>
<circle cx="193.1" cy="36.1" r="1.05"/>
<circle cx="203.1" cy="35.6" r="1.05"/>
<circle cx="192.5" cy="33.2" r="1.05"/>
<circle cx="190.5" cy="24.4" r="1.05"/>
<circle cx="191.0" cy="34.1" r="1.05"/>
<circle cx="188.9" cy="35.1" r="1.05"/>
<circle cx="194.1" cy="39.2" r="1.05"/>
<circle cx="200.1" cy="35.2" r="1.05"/>
<circle cx="189.6" cy="30.6" r="1.05"/>
<circle cx="197.0" cy="32.6" r="1.05"/>
<circle cx="192.5" cy="37.7" r="1.05"/>
<circle cx="193.0" cy="35.5" r="1.05"/>
<circle cx="193.5" cy="27.6" r="1.05"/>
<circle cx="191.9" cy="37.1" r="1.05"/>
<circle cx="188.2" cy="29.2" r="1.05"/>
<circle cx="194.4" cy="33.8" r="1.05"/>
<circle cx="193.9" cy="27.8" r="1.05"/>
<circle cx="192.4" cy="31.4" r="1.05"/>
<circle cx="195.0" cy="41.3" r="1.05"/>
<circle cx="191.1" cy="38.1" r="1.05"/>
<circle cx="189.4" cy="33.6" r="1.05"/>
<circle cx="193.7" cy="32.3" r="1.05"/>
<circle cx="196.8" cy="36.1" r="1.05"/>
<circle cx="188.1" cy="29.7" r="1.05"/>
<circle cx="190.5" cy="26.9" r="1.05"/>
<circle cx="196.2" cy="33.3" r="1.05"/>
<circle cx="190.5" cy="34.8" r="1.05"/>
<circle cx="191.1" cy="39.6" r="1.05"/>
<circle cx="197.0" cy="37.6" r="1.05"/>
<circle cx="194.4" cy="38.3" r="1.05"/>
<circle cx="193.9" cy="34.5" r="1.05"/>
<circle cx="196.0" cy="35.8" r="1.05"/>
<circle cx="194.5" cy="40.5" r="1.05"/>
<circle cx="199.0" cy="34.9" r="1.05"/>
<circle cx="196.2" cy="29.5" r="1.05"/>
<circle cx="190.0" cy="36.2" r="1.05"/>
<circle cx="190.3" cy="30.9" r="1.05"/>
<circle cx="189.8" cy="36.4" r="1.05"/>
<circle cx="187.8" cy="36.9" r="1.05"/>
<circle cx="195.9" cy="27.5" r="1.05"/>
<circle cx="194.0" cy="37.5" r="1.05"/>
<circle cx="188.4" cy="36.5" r="1.05"/>
<circle cx="191.2" cy="36.8" r="1.05"/>
<circle cx="195.1" cy="36.5" r="1.05"/>
<circle cx="183.7" cy="37.3" r="1.05"/>
<circle cx="198.2" cy="30.7" r="1.05"/>
<circle cx="201.1" cy="33.2" r="1.05"/>
<circle cx="188.0" cy="30.1" r="1.05"/>
<circle cx="197.2" cy="36.9" r="1.05"/>
<circle cx="190.3" cy="32.8" r="1.05"/>
<circle cx="184.9" cy="30.7" r="1.05"/>
<circle cx="187.6" cy="35.5" r="1.05"/>
<circle cx="191.5" cy="38.1" r="1.05"/>
<circle cx="193.1" cy="34.2" r="1.05"/>
<circle cx="194.4" cy="40.1" r="1.05"/>
<circle cx="191.1" cy="35.3" r="1.05"/>
<circle cx="190.8" cy="31.7" r="1.05"/>
<circle cx="189.4" cy="32.9" r="1.05"/>
<circle cx="188.2" cy="33.9" r="1.05"/>
<circle cx="191.2" cy="35.9" r="1.05"/>
<circle cx="195.5" cy="42.0" r="1.05"/>
<circle cx="190.9" cy="34.2" r="1.05"/>
<circle cx="194.2" cy="32.6" r="1.05"/>
<circle cx="196.0" cy="37.4" r="1.05"/>
<circle cx="192.5" cy="39.2" r="1.05"/>
<circle cx="190.2" cy="33.9" r="1.05"/>
<circle cx="191.0" cy="34.0" r="1.05"/>
<circle cx="188.0" cy="34.4" r="1.05"/>
<circle cx="195.5" cy="36.7" r="1.05"/>
<circle cx="195.8" cy="36.6" r="1.05"/>
<circle cx="195.3" cy="31.2" r="1.05"/>
<circle cx="191.2" cy="28.6" r="1.05"/>
<circle cx="200.3" cy="42.5" r="1.05"/>
<circle cx="192.2" cy="33.1" r="1.05"/>
<circle cx="194.1" cy="31.5" r="1.05"/>
<circle cx="196.6" cy="43.3" r="1.05"/>
<circle cx="187.1" cy="32.3" r="1.05"/>
<circle cx="196.3" cy="39.8" r="1.05"/>
<circle cx="194.8" cy="35.8" r="1.05"/>
<circle cx="192.1" cy="35.3" r="1.05"/>
<circle cx="190.5" cy="33.3" r="1.05"/>
<circle cx="190.9" cy="40.5" r="1.05"/>
</g>
<g fill="#5db994">
<circle cx="192.1" cy="35.7" r="1.05"/>
</g>
<g fill="#87cdee">
<circle cx="196.3" cy="36.8" r="1.05"/>
</g>
<g fill="#5db994">
<circle cx="191.6" cy="30.5" r="1.05"/>
<circle cx="192.9" cy="35.8" r="1.05"/>
<circle cx="184.4" cy="31.0" r="1.05"/>
</g>
<g fill="#87cdee">
<circle cx="190.8" cy="41.1" r="1.05"/>
</g>
<g fill="#4b73bf">
<circle cx="198.6" cy="38.7" r="1.05"/>
</g>
<g fill="#5db994">
<circle cx="182.6" cy="42.7" r="1.05"/>
<circle cx="185.9" cy="43.9" r="1.05"/>
</g>
<g fill="#4b73bf">
<circle cx="194.7" cy="32.7" r="1.05"/>
</g>
<g fill="#5db994">
<circle cx="197.8" cy="35.4" r="1.05"/>
<circle cx="190.9" cy="33.4" r="1.05"/>
</g>
<g fill="#87cdee">
<circle cx="199.9" cy="38.3" r="1.05"/>
</g>
<g fill="#5db994">
<circle cx="181.7" cy="33.7" r="1.05"/>
</g>
<g fill="#4b73bf">
<circle cx="193.9" cy="38.3" r="1.05"/>
<circle cx="200.0" cy="31.6" r="1.05"/>
<circle cx="199.9" cy="36.8" r="1.05"/>
</g>
<g fill="#87cdee">
<circle cx="198.8" cy="35.0" r="1.05"/>
</g>
<g fill="#1f3272">
<circle cx="180.7" cy="30.7" r="1.05"/>
<circle cx="187.0" cy="29.0" r="1.05"/>
<circle cx="197.2" cy="18.9" r="1.05"/>
<circle cx="203.5" cy="31.4" r="1.05"/>
<circle cx="195.6" cy="47.2" r="1.05"/>
<circle cx="179.0" cy="44.0" r="1.05"/>
<circle cx="198.0" cy="42.0" r="1.05"/>
<circle cx="205.0" cy="40.0" r="1.05"/>
</g>
<g fill="#5db994">
<circle cx="193.3" cy="18.7" r="1.05"/>
<circle cx="191.9" cy="21.8" r="1.05"/>
<circle cx="191.9" cy="18.5" r="1.05"/>
<circle cx="188.5" cy="23.1" r="1.05"/>
<circle cx="192.8" cy="25.1" r="1.05"/>
<circle cx="187.0" cy="24.3" r="1.05"/>
<circle cx="189.8" cy="20.9" r="1.05"/>
<circle cx="189.8" cy="22.8" r="1.05"/>
<circle cx="192.8" cy="19.7" r="1.05"/>
<circle cx="191.8" cy="21.9" r="1.05"/>
<circle cx="188.9" cy="23.4" r="1.05"/>
<circle cx="188.6" cy="20.5" r="1.05"/>
<circle cx="190.4" cy="21.7" r="1.05"/>
<circle cx="188.8" cy="20.6" r="1.05"/>
</g>
<g fill="#8b3f93">
<circle cx="197.4" cy="38.7" r="1.05"/>
<circle cx="194.2" cy="37.9" r="1.05"/>
<circle cx="196.6" cy="43.9" r="1.05"/>
<circle cx="192.5" cy="42.0" r="1.05"/>
</g>
<g fill="#e4347a">
<circle cx="191.3" cy="34.0" r="1.05"/>
<circle cx="189.3" cy="30.9" r="1.05"/>
<circle cx="214.0" cy="29.0" r="1.05"/>
</g>
<text x="358.60" y="12.90" font-size="17" fill="#000" font-weight="bold" textLength="9.6" lengthAdjust="spacingAndGlyphs">b</text>
<text x="394.40" y="34.37" font-size="9.2" text-anchor="end" textLength="17.2" lengthAdjust="spacingAndGlyphs">600</text>
<line x1="398.60" y1="31.50" x2="401.60" y2="31.50" stroke="#555" stroke-width="0.6"/>
<text x="394.40" y="68.37" font-size="9.2" text-anchor="end" textLength="17.2" lengthAdjust="spacingAndGlyphs">400</text>
<line x1="398.60" y1="65.50" x2="401.60" y2="65.50" stroke="#555" stroke-width="0.6"/>
<text x="394.40" y="102.37" font-size="9.2" text-anchor="end" textLength="17.2" lengthAdjust="spacingAndGlyphs">200</text>
<line x1="398.60" y1="99.50" x2="401.60" y2="99.50" stroke="#555" stroke-width="0.6"/>
<text x="394.40" y="136.37" font-size="9.2" text-anchor="end">0</text>
<line x1="398.60" y1="133.50" x2="401.60" y2="133.50" stroke="#555" stroke-width="0.6"/>
<line x1="418.50" y1="140.20" x2="418.50" y2="143.60" stroke="#555" stroke-width="0.6"/>
<text x="418.50" y="155.41" font-size="9.0" text-anchor="middle">−4</text>
<line x1="450.20" y1="140.20" x2="450.20" y2="143.60" stroke="#555" stroke-width="0.6"/>
<text x="450.20" y="155.41" font-size="9.0" text-anchor="middle">−3</text>
<line x1="481.90" y1="140.20" x2="481.90" y2="143.60" stroke="#555" stroke-width="0.6"/>
<text x="481.90" y="155.41" font-size="9.0" text-anchor="middle">−2</text>
<line x1="513.60" y1="140.20" x2="513.60" y2="143.60" stroke="#555" stroke-width="0.6"/>
<text x="513.60" y="155.41" font-size="9.0" text-anchor="middle">−1</text>
<line x1="545.30" y1="140.20" x2="545.30" y2="143.60" stroke="#555" stroke-width="0.6"/>
<text x="545.30" y="155.41" font-size="9.0" text-anchor="middle">0</text>
<line x1="577.00" y1="140.20" x2="577.00" y2="143.60" stroke="#555" stroke-width="0.6"/>
<text x="577.00" y="155.41" font-size="9.0" text-anchor="middle">1</text>
<text x="495.40" y="172.59" font-size="10.7" text-anchor="middle">Function score</text>
<text x="367.30" y="71.00" font-size="10.2" text-anchor="middle" transform="rotate(-90 367.30 71.00)">SNVs</text>
<rect x="424.02" y="133.20" width="4.80" height="0.30" fill="#e4347a"/>
<rect x="424.02" y="132.80" width="4.80" height="0.40" fill="#5db994"/>
<rect x="428.78" y="132.60" width="4.80" height="0.90" fill="#5db994"/>
<rect x="433.53" y="132.80" width="4.80" height="0.70" fill="#e4347a"/>
<rect x="438.29" y="133.10" width="4.80" height="0.40" fill="#e4347a"/>
<rect x="438.29" y="132.50" width="4.80" height="0.60" fill="#5db994"/>
<rect x="443.04" y="133.00" width="4.80" height="0.50" fill="#e4347a"/>
<rect x="443.04" y="131.50" width="4.80" height="1.50" fill="#5db994"/>
<rect x="447.80" y="132.90" width="4.80" height="0.60" fill="#e4347a"/>
<rect x="447.80" y="130.70" width="4.80" height="2.20" fill="#5db994"/>
<rect x="452.55" y="133.10" width="4.80" height="0.40" fill="#e4347a"/>
<rect x="452.55" y="132.50" width="4.80" height="0.60" fill="#f5a53b"/>
<rect x="452.55" y="130.70" width="4.80" height="1.80" fill="#5db994"/>
<rect x="457.31" y="133.00" width="4.80" height="0.50" fill="#e4347a"/>
<rect x="457.31" y="132.70" width="4.80" height="0.30" fill="#f5a53b"/>
<rect x="457.31" y="129.70" width="4.80" height="3.00" fill="#5db994"/>
<rect x="462.06" y="133.00" width="4.80" height="0.50" fill="#e4347a"/>
<rect x="462.06" y="132.40" width="4.80" height="0.60" fill="#f5a53b"/>
<rect x="462.06" y="130.70" width="4.80" height="1.70" fill="#5db994"/>
<rect x="466.82" y="132.30" width="4.80" height="1.20" fill="#e4347a"/>
<rect x="466.82" y="128.70" width="4.80" height="3.60" fill="#5db994"/>
<rect x="471.57" y="133.00" width="4.80" height="0.50" fill="#e4347a"/>
<rect x="471.57" y="132.50" width="4.80" height="0.50" fill="#f5a53b"/>
<rect x="471.57" y="128.70" width="4.80" height="3.80" fill="#5db994"/>
<rect x="476.33" y="133.10" width="4.80" height="0.40" fill="#e4347a"/>
<rect x="476.33" y="132.30" width="4.80" height="0.80" fill="#f5a53b"/>
<rect x="476.33" y="128.70" width="4.80" height="3.60" fill="#5db994"/>
<rect x="481.08" y="133.00" width="4.80" height="0.50" fill="#e4347a"/>
<rect x="481.08" y="131.00" width="4.80" height="2.00" fill="#5db994"/>
<rect x="485.84" y="133.10" width="4.80" height="0.40" fill="#e4347a"/>
<rect x="485.84" y="131.80" width="4.80" height="1.30" fill="#5db994"/>
<rect x="490.59" y="132.90" width="4.80" height="0.60" fill="#e4347a"/>
<rect x="490.59" y="132.60" width="4.80" height="0.30" fill="#f5a53b"/>
<rect x="490.59" y="130.80" width="4.80" height="1.80" fill="#5db994"/>
<rect x="495.35" y="133.10" width="4.80" height="0.40" fill="#e4347a"/>
<rect x="495.35" y="132.80" width="4.80" height="0.30" fill="#5db994"/>
<rect x="500.10" y="133.00" width="4.80" height="0.50" fill="#e4347a"/>
<rect x="500.10" y="132.10" width="4.80" height="0.90" fill="#5db994"/>
<rect x="504.86" y="132.90" width="4.80" height="0.60" fill="#e4347a"/>
<rect x="504.86" y="131.30" width="4.80" height="1.60" fill="#5db994"/>
<rect x="509.62" y="133.20" width="4.80" height="0.30" fill="#4b73bf"/>
<rect x="509.62" y="132.80" width="4.80" height="0.40" fill="#5db994"/>
<rect x="514.37" y="133.20" width="4.80" height="0.30" fill="#e4347a"/>
<rect x="514.37" y="132.80" width="4.80" height="0.40" fill="#87cdee"/>
<rect x="514.37" y="131.50" width="4.80" height="1.30" fill="#5db994"/>
<rect x="519.12" y="133.20" width="4.80" height="0.30" fill="#e4347a"/>
<rect x="519.12" y="132.70" width="4.80" height="0.50" fill="#87cdee"/>
<rect x="519.12" y="129.70" width="4.80" height="3.00" fill="#5db994"/>
<rect x="523.88" y="133.20" width="4.80" height="0.30" fill="#e4347a"/>
<rect x="523.88" y="131.90" width="4.80" height="1.30" fill="#87cdee"/>
<rect x="523.88" y="130.40" width="4.80" height="1.50" fill="#5db994"/>
<rect x="528.63" y="132.50" width="4.80" height="1.00" fill="#4b73bf"/>
<rect x="528.63" y="130.80" width="4.80" height="1.70" fill="#87cdee"/>
<rect x="528.63" y="130.10" width="4.80" height="0.70" fill="#1f3272"/>
<rect x="528.63" y="124.10" width="4.80" height="6.00" fill="#5db994"/>
<rect x="533.39" y="132.50" width="4.80" height="1.00" fill="#4b73bf"/>
<rect x="533.39" y="126.00" width="4.80" height="6.50" fill="#87cdee"/>
<rect x="533.39" y="124.00" width="4.80" height="2.00" fill="#1f3272"/>
<rect x="533.39" y="123.30" width="4.80" height="0.70" fill="#d18fc3"/>
<rect x="533.39" y="109.20" width="4.80" height="14.10" fill="#5db994"/>
<rect x="538.14" y="133.00" width="4.80" height="0.50" fill="#e4347a"/>
<rect x="538.14" y="117.80" width="4.80" height="15.20" fill="#4b73bf"/>
<rect x="538.14" y="101.60" width="4.80" height="16.20" fill="#87cdee"/>
<rect x="538.14" y="98.60" width="4.80" height="3.00" fill="#1f3272"/>
<rect x="538.14" y="93.00" width="4.80" height="5.60" fill="#d18fc3"/>
<rect x="538.14" y="55.00" width="4.80" height="38.00" fill="#5db994"/>
<rect x="542.90" y="133.00" width="4.80" height="0.50" fill="#e4347a"/>
<rect x="542.90" y="106.30" width="4.80" height="26.70" fill="#4b73bf"/>
<rect x="542.90" y="75.30" width="4.80" height="31.00" fill="#87cdee"/>
<rect x="542.90" y="70.00" width="4.80" height="5.30" fill="#1f3272"/>
<rect x="542.90" y="64.00" width="4.80" height="6.00" fill="#d18fc3"/>
<rect x="542.90" y="9.70" width="4.80" height="54.30" fill="#5db994"/>
<rect x="547.65" y="133.20" width="4.80" height="0.30" fill="#e4347a"/>
<rect x="547.65" y="118.80" width="4.80" height="14.40" fill="#4b73bf"/>
<rect x="547.65" y="100.20" width="4.80" height="18.60" fill="#87cdee"/>
<rect x="547.65" y="98.60" width="4.80" height="1.60" fill="#1f3272"/>
<rect x="547.65" y="93.00" width="4.80" height="5.60" fill="#d18fc3"/>
<rect x="547.65" y="66.00" width="4.80" height="27.00" fill="#5db994"/>
<rect x="552.41" y="130.00" width="4.80" height="3.50" fill="#4b73bf"/>
<rect x="552.41" y="125.00" width="4.80" height="5.00" fill="#87cdee"/>
<rect x="552.41" y="116.80" width="4.80" height="8.20" fill="#5db994"/>
<rect x="557.16" y="132.50" width="4.80" height="1.00" fill="#4b73bf"/>
<rect x="557.16" y="131.00" width="4.80" height="1.50" fill="#87cdee"/>
<rect x="557.16" y="130.50" width="4.80" height="0.50" fill="#5db994"/>
<rect x="561.92" y="132.70" width="4.80" height="0.80" fill="#d18fc3"/>
<rect x="421.3" y="20.7" width="96.8" height="74.5" fill="none" stroke="#231f20" stroke-width="1.1"/>
<text x="435.20" y="29.08" font-size="6.6" text-anchor="end">150</text>
<line x1="436.80" y1="26.80" x2="438.20" y2="26.80" stroke="#231f20" stroke-width="0.5"/>
<text x="435.20" y="47.48" font-size="6.6" text-anchor="end">100</text>
<line x1="436.80" y1="45.20" x2="438.20" y2="45.20" stroke="#231f20" stroke-width="0.5"/>
<text x="435.20" y="65.58" font-size="6.6" text-anchor="end">50</text>
<line x1="436.80" y1="63.30" x2="438.20" y2="63.30" stroke="#231f20" stroke-width="0.5"/>
<text x="435.20" y="84.08" font-size="6.6" text-anchor="end">0</text>
<line x1="436.80" y1="81.80" x2="438.20" y2="81.80" stroke="#231f20" stroke-width="0.5"/>
<line x1="445.50" y1="84.80" x2="445.50" y2="86.20" stroke="#231f20" stroke-width="0.5"/>
<line x1="459.85" y1="84.80" x2="459.85" y2="86.20" stroke="#231f20" stroke-width="0.5"/>
<line x1="474.20" y1="84.80" x2="474.20" y2="86.20" stroke="#231f20" stroke-width="0.5"/>
<line x1="488.55" y1="84.80" x2="488.55" y2="86.20" stroke="#231f20" stroke-width="0.5"/>
<line x1="502.90" y1="84.80" x2="502.90" y2="86.20" stroke="#231f20" stroke-width="0.5"/>
<text x="445.50" y="93.68" font-size="6.6" text-anchor="middle">−4</text>
<text x="474.20" y="93.68" font-size="6.6" text-anchor="middle">−2</text>
<text x="502.90" y="93.68" font-size="6.6" text-anchor="middle">0</text>
<rect x="452.35" y="81.20" width="2.18" height="0.60" fill="#e4347a"/>
<rect x="454.50" y="81.00" width="2.18" height="0.80" fill="#e4347a"/>
<rect x="456.65" y="80.60" width="2.18" height="1.20" fill="#e4347a"/>
<rect x="458.80" y="80.80" width="2.18" height="1.00" fill="#e4347a"/>
<rect x="458.80" y="80.40" width="2.18" height="0.40" fill="#f5a53b"/>
<rect x="460.95" y="79.80" width="2.18" height="2.00" fill="#e4347a"/>
<rect x="463.10" y="81.00" width="2.18" height="0.80" fill="#e4347a"/>
<rect x="463.10" y="79.80" width="2.18" height="1.20" fill="#f5a53b"/>
<rect x="465.25" y="80.80" width="2.18" height="1.00" fill="#e4347a"/>
<rect x="465.25" y="79.30" width="2.18" height="1.50" fill="#f5a53b"/>
<rect x="467.40" y="80.30" width="2.18" height="1.50" fill="#e4347a"/>
<rect x="467.40" y="78.80" width="2.18" height="1.50" fill="#f5a53b"/>
<rect x="469.55" y="79.60" width="2.18" height="2.20" fill="#e4347a"/>
<rect x="469.55" y="78.60" width="2.18" height="1.00" fill="#f5a53b"/>
<rect x="471.70" y="80.80" width="2.18" height="1.00" fill="#e4347a"/>
<rect x="471.70" y="78.20" width="2.18" height="2.60" fill="#f5a53b"/>
<rect x="473.85" y="81.00" width="2.18" height="0.80" fill="#e4347a"/>
<rect x="473.85" y="80.40" width="2.18" height="0.60" fill="#f5a53b"/>
<rect x="476.00" y="80.80" width="2.18" height="1.00" fill="#e4347a"/>
<rect x="478.15" y="81.00" width="2.18" height="0.80" fill="#e4347a"/>
<rect x="480.30" y="81.20" width="2.18" height="0.60" fill="#e4347a"/>
<rect x="482.45" y="80.80" width="2.18" height="1.00" fill="#e4347a"/>
<rect x="484.60" y="81.30" width="2.18" height="0.50" fill="#e4347a"/>
<rect x="486.75" y="81.30" width="2.18" height="0.50" fill="#e4347a"/>
<rect x="488.90" y="81.30" width="2.18" height="0.50" fill="#d18fc3"/>
<rect x="491.05" y="81.30" width="2.18" height="0.50" fill="#d18fc3"/>
<rect x="493.20" y="81.30" width="2.18" height="0.50" fill="#d18fc3"/>
<rect x="495.35" y="81.50" width="2.18" height="0.30" fill="#e4347a"/>
<rect x="495.35" y="80.60" width="2.18" height="0.90" fill="#4b73bf"/>
<rect x="497.50" y="81.30" width="2.18" height="0.50" fill="#e4347a"/>
<rect x="497.50" y="77.60" width="2.18" height="3.70" fill="#4b73bf"/>
<rect x="499.65" y="80.60" width="2.18" height="1.20" fill="#e4347a"/>
<rect x="499.65" y="47.50" width="2.18" height="33.10" fill="#4b73bf"/>
<rect x="501.80" y="81.00" width="2.18" height="0.80" fill="#e4347a"/>
<rect x="501.80" y="26.00" width="2.18" height="55.00" fill="#4b73bf"/>
<rect x="503.95" y="81.30" width="2.18" height="0.50" fill="#e4347a"/>
<rect x="503.95" y="47.50" width="2.18" height="33.80" fill="#4b73bf"/>
<rect x="506.10" y="77.60" width="2.18" height="4.20" fill="#4b73bf"/>
<rect x="508.25" y="80.30" width="2.18" height="1.50" fill="#4b73bf"/>
<rect x="510.40" y="81.20" width="2.18" height="0.60" fill="#d18fc3"/>
<rect x="512.55" y="81.30" width="2.18" height="0.50" fill="#d18fc3"/>
<rect x="588.90" y="27.65" width="9.50" height="9.50" fill="#5db994"/>
<text x="603.80" y="35.77" font-size="9.2">Missense</text>
<rect x="588.90" y="41.11" width="9.50" height="9.50" fill="#d18fc3"/>
<text x="603.80" y="49.23" font-size="9.2">3′-UTR</text>
<rect x="588.90" y="54.57" width="9.50" height="9.50" fill="#8b3f93"/>
<text x="603.80" y="62.69" font-size="9.2">Stop lost</text>
<rect x="588.90" y="68.03" width="9.50" height="9.50" fill="#1f3272"/>
<text x="603.80" y="76.15" font-size="9.2">Splice region</text>
<rect x="588.90" y="81.49" width="9.50" height="9.50" fill="#87cdee"/>
<text x="603.80" y="89.61" font-size="9.2">Intronic</text>
<rect x="588.90" y="94.95" width="9.50" height="9.50" fill="#4b73bf"/>
<text x="603.80" y="103.07" font-size="9.2">Synonymous</text>
<rect x="588.90" y="108.41" width="9.50" height="9.50" fill="#f5a53b"/>
<text x="603.80" y="116.53" font-size="9.2">Canonical splice</text>
<rect x="588.90" y="121.87" width="9.50" height="9.50" fill="#e4347a"/>
<text x="603.80" y="129.99" font-size="9.2">Nonsense</text>
<text x="0.60" y="194.20" font-size="17" fill="#000" font-weight="bold">c</text>
<text x="9.40" y="307.70" font-size="10.7" text-anchor="middle" transform="rotate(-90 9.40 307.70)" textLength="71" lengthAdjust="spacingAndGlyphs">Function score</text>
<text x="354.90" y="442.40" font-size="10.7" text-anchor="middle" textLength="62.2" lengthAdjust="spacingAndGlyphs">CDS position</text>
<text x="28.60" y="214.17" font-size="8.6" text-anchor="end">1</text>
<line x1="33.00" y1="211.20" x2="35.80" y2="211.20" stroke="#555" stroke-width="0.6"/>
<text x="28.60" y="229.47" font-size="8.6" text-anchor="end">0</text>
<line x1="33.00" y1="226.50" x2="35.80" y2="226.50" stroke="#555" stroke-width="0.6"/>
<text x="28.60" y="244.77" font-size="8.6" text-anchor="end">−1</text>
<line x1="33.00" y1="241.80" x2="35.80" y2="241.80" stroke="#555" stroke-width="0.6"/>
<text x="28.60" y="260.07" font-size="8.6" text-anchor="end">−2</text>
<line x1="33.00" y1="257.10" x2="35.80" y2="257.10" stroke="#555" stroke-width="0.6"/>
<text x="28.60" y="275.37" font-size="8.6" text-anchor="end">−3</text>
<line x1="33.00" y1="272.40" x2="35.80" y2="272.40" stroke="#555" stroke-width="0.6"/>
<text x="28.60" y="290.67" font-size="8.6" text-anchor="end">−4</text>
<line x1="33.00" y1="287.70" x2="35.80" y2="287.70" stroke="#555" stroke-width="0.6"/>
<line x1="50.60" y1="290.40" x2="50.60" y2="294.40" stroke="#555" stroke-width="0.6"/>
<text x="50.60" y="305.67" font-size="8.6" text-anchor="middle" textLength="9.0" lengthAdjust="spacingAndGlyphs">111</text>
<line x1="74.13" y1="290.40" x2="74.13" y2="294.40" stroke="#555" stroke-width="0.6"/>
<text x="74.13" y="305.67" font-size="8.6" text-anchor="middle" textLength="11.0" lengthAdjust="spacingAndGlyphs">131</text>
<line x1="97.66" y1="290.40" x2="97.66" y2="294.40" stroke="#555" stroke-width="0.6"/>
<text x="97.66" y="305.67" font-size="8.6" text-anchor="middle" textLength="11.0" lengthAdjust="spacingAndGlyphs">151</text>
<line x1="121.19" y1="290.40" x2="121.19" y2="294.40" stroke="#555" stroke-width="0.6"/>
<text x="121.19" y="305.67" font-size="8.6" text-anchor="middle" textLength="11.0" lengthAdjust="spacingAndGlyphs">171</text>
<line x1="144.72" y1="290.40" x2="144.72" y2="294.40" stroke="#555" stroke-width="0.6"/>
<text x="144.72" y="305.67" font-size="8.6" text-anchor="middle" textLength="11.2" lengthAdjust="spacingAndGlyphs">191</text>
<line x1="168.25" y1="290.40" x2="168.25" y2="294.40" stroke="#555" stroke-width="0.6"/>
<text x="168.25" y="305.67" font-size="8.6" text-anchor="middle" textLength="11.0" lengthAdjust="spacingAndGlyphs">211</text>
<line x1="191.78" y1="290.40" x2="191.78" y2="294.40" stroke="#555" stroke-width="0.6"/>
<text x="191.78" y="305.67" font-size="8.6" text-anchor="middle" textLength="13.0" lengthAdjust="spacingAndGlyphs">231</text>
<line x1="215.31" y1="290.40" x2="215.31" y2="294.40" stroke="#555" stroke-width="0.6"/>
<text x="215.31" y="305.67" font-size="8.6" text-anchor="middle" textLength="13.0" lengthAdjust="spacingAndGlyphs">251</text>
<line x1="238.84" y1="290.40" x2="238.84" y2="294.40" stroke="#555" stroke-width="0.6"/>
<text x="238.84" y="305.67" font-size="8.6" text-anchor="middle" textLength="13.0" lengthAdjust="spacingAndGlyphs">271</text>
<line x1="262.37" y1="290.40" x2="262.37" y2="294.40" stroke="#555" stroke-width="0.6"/>
<text x="262.37" y="305.67" font-size="8.6" text-anchor="middle" textLength="13.2" lengthAdjust="spacingAndGlyphs">291</text>
<line x1="285.90" y1="290.40" x2="285.90" y2="294.40" stroke="#555" stroke-width="0.6"/>
<text x="285.90" y="305.67" font-size="8.6" text-anchor="middle" textLength="11.0" lengthAdjust="spacingAndGlyphs">311</text>
<line x1="309.43" y1="290.40" x2="309.43" y2="294.40" stroke="#555" stroke-width="0.6"/>
<text x="308.13" y="305.67" font-size="8.6" text-anchor="middle" textLength="13.0" lengthAdjust="spacingAndGlyphs">331</text>
<line x1="331.40" y1="290.40" x2="331.40" y2="294.40" stroke="#555" stroke-width="0.6"/>
<text x="332.60" y="305.67" font-size="8.6" text-anchor="middle" textLength="31.8" lengthAdjust="spacingAndGlyphs">340 + 10</text>
<text x="362.60" y="214.17" font-size="8.6" text-anchor="end">1</text>
<line x1="366.00" y1="211.20" x2="368.80" y2="211.20" stroke="#555" stroke-width="0.6"/>
<text x="362.60" y="229.47" font-size="8.6" text-anchor="end">0</text>
<line x1="366.00" y1="226.50" x2="368.80" y2="226.50" stroke="#555" stroke-width="0.6"/>
<text x="362.60" y="244.77" font-size="8.6" text-anchor="end">−1</text>
<line x1="366.00" y1="241.80" x2="368.80" y2="241.80" stroke="#555" stroke-width="0.6"/>
<text x="362.60" y="260.07" font-size="8.6" text-anchor="end">−2</text>
<line x1="366.00" y1="257.10" x2="368.80" y2="257.10" stroke="#555" stroke-width="0.6"/>
<text x="362.60" y="275.37" font-size="8.6" text-anchor="end">−3</text>
<line x1="366.00" y1="272.40" x2="368.80" y2="272.40" stroke="#555" stroke-width="0.6"/>
<text x="362.60" y="290.67" font-size="8.6" text-anchor="end">−4</text>
<line x1="366.00" y1="287.70" x2="368.80" y2="287.70" stroke="#555" stroke-width="0.6"/>
<line x1="384.10" y1="290.40" x2="384.10" y2="294.40" stroke="#555" stroke-width="0.6"/>
<text x="384.10" y="305.67" font-size="8.6" text-anchor="middle" textLength="38.8" lengthAdjust="spacingAndGlyphs">340 + 556</text>
<line x1="427.20" y1="290.40" x2="427.20" y2="294.40" stroke="#555" stroke-width="0.6"/>
<text x="427.20" y="305.67" font-size="8.6" text-anchor="middle" textLength="38.8" lengthAdjust="spacingAndGlyphs">340 + 576</text>
<line x1="470.30" y1="290.40" x2="470.30" y2="294.40" stroke="#555" stroke-width="0.6"/>
<text x="470.30" y="305.67" font-size="8.6" text-anchor="middle" textLength="39.0" lengthAdjust="spacingAndGlyphs">340 + 596</text>
<line x1="513.40" y1="290.40" x2="513.40" y2="294.40" stroke="#555" stroke-width="0.6"/>
<text x="513.40" y="305.67" font-size="8.6" text-anchor="middle" textLength="37.1" lengthAdjust="spacingAndGlyphs">340 + 616</text>
<line x1="556.50" y1="290.40" x2="556.50" y2="294.40" stroke="#555" stroke-width="0.6"/>
<text x="556.50" y="305.67" font-size="8.6" text-anchor="middle" textLength="39.1" lengthAdjust="spacingAndGlyphs">340 + 636</text>
<line x1="599.60" y1="290.40" x2="599.60" y2="294.40" stroke="#555" stroke-width="0.6"/>
<text x="599.60" y="305.67" font-size="8.6" text-anchor="middle" textLength="39.1" lengthAdjust="spacingAndGlyphs">340 + 656</text>
<line x1="642.70" y1="290.40" x2="642.70" y2="294.40" stroke="#555" stroke-width="0.6"/>
<text x="642.70" y="305.67" font-size="8.6" text-anchor="middle" textLength="39.1" lengthAdjust="spacingAndGlyphs">340 + 676</text>
<text x="28.60" y="332.87" font-size="8.6" text-anchor="end">1</text>
<line x1="32.60" y1="329.90" x2="35.40" y2="329.90" stroke="#555" stroke-width="0.6"/>
<text x="28.60" y="347.97" font-size="8.6" text-anchor="end">0</text>
<line x1="32.60" y1="345.00" x2="35.40" y2="345.00" stroke="#555" stroke-width="0.6"/>
<text x="28.60" y="363.07" font-size="8.6" text-anchor="end">−1</text>
<line x1="32.60" y1="360.10" x2="35.40" y2="360.10" stroke="#555" stroke-width="0.6"/>
<text x="28.60" y="378.17" font-size="8.6" text-anchor="end">−2</text>
<line x1="32.60" y1="375.20" x2="35.40" y2="375.20" stroke="#555" stroke-width="0.6"/>
<text x="28.60" y="393.27" font-size="8.6" text-anchor="end">−3</text>
<line x1="32.60" y1="390.30" x2="35.40" y2="390.30" stroke="#555" stroke-width="0.6"/>
<text x="28.60" y="408.37" font-size="8.6" text-anchor="end">−4</text>
<line x1="32.60" y1="405.40" x2="35.40" y2="405.40" stroke="#555" stroke-width="0.6"/>
<line x1="50.80" y1="409.00" x2="50.80" y2="412.70" stroke="#555" stroke-width="0.6"/>
<text x="50.30" y="424.87" font-size="8.6" text-anchor="middle" textLength="25.5" lengthAdjust="spacingAndGlyphs">341-15</text>
<line x1="80.20" y1="409.00" x2="80.20" y2="412.70" stroke="#555" stroke-width="0.6"/>
<text x="80.20" y="424.87" font-size="8.6" text-anchor="middle" textLength="13.5" lengthAdjust="spacingAndGlyphs">341</text>
<line x1="119.65" y1="409.00" x2="119.65" y2="412.70" stroke="#555" stroke-width="0.6"/>
<text x="119.65" y="424.87" font-size="8.6" text-anchor="middle" textLength="13.3" lengthAdjust="spacingAndGlyphs">361</text>
<line x1="159.10" y1="409.00" x2="159.10" y2="412.70" stroke="#555" stroke-width="0.6"/>
<text x="159.10" y="424.87" font-size="8.6" text-anchor="middle" textLength="13.2" lengthAdjust="spacingAndGlyphs">381</text>
<line x1="198.55" y1="409.00" x2="198.55" y2="412.70" stroke="#555" stroke-width="0.6"/>
<text x="198.55" y="424.87" font-size="8.6" text-anchor="middle" textLength="13.8" lengthAdjust="spacingAndGlyphs">401</text>
<line x1="238.00" y1="409.00" x2="238.00" y2="412.70" stroke="#555" stroke-width="0.6"/>
<text x="238.00" y="424.87" font-size="8.6" text-anchor="middle" textLength="13.5" lengthAdjust="spacingAndGlyphs">421</text>
<line x1="277.45" y1="409.00" x2="277.45" y2="412.70" stroke="#555" stroke-width="0.6"/>
<text x="277.45" y="424.87" font-size="8.6" text-anchor="middle" textLength="14.0" lengthAdjust="spacingAndGlyphs">441</text>
<line x1="316.90" y1="409.00" x2="316.90" y2="412.70" stroke="#555" stroke-width="0.6"/>
<text x="316.90" y="424.87" font-size="8.6" text-anchor="middle" textLength="13.8" lengthAdjust="spacingAndGlyphs">461</text>
<text x="362.60" y="332.87" font-size="8.6" text-anchor="end">1</text>
<line x1="367.20" y1="329.90" x2="370.00" y2="329.90" stroke="#555" stroke-width="0.6"/>
<text x="362.60" y="347.97" font-size="8.6" text-anchor="end">0</text>
<line x1="367.20" y1="345.00" x2="370.00" y2="345.00" stroke="#555" stroke-width="0.6"/>
<text x="362.60" y="363.07" font-size="8.6" text-anchor="end">−1</text>
<line x1="367.20" y1="360.10" x2="370.00" y2="360.10" stroke="#555" stroke-width="0.6"/>
<text x="362.60" y="378.17" font-size="8.6" text-anchor="end">−2</text>
<line x1="367.20" y1="375.20" x2="370.00" y2="375.20" stroke="#555" stroke-width="0.6"/>
<text x="362.60" y="393.27" font-size="8.6" text-anchor="end">−3</text>
<line x1="367.20" y1="390.30" x2="370.00" y2="390.30" stroke="#555" stroke-width="0.6"/>
<text x="362.60" y="408.37" font-size="8.6" text-anchor="end">−4</text>
<line x1="367.20" y1="405.40" x2="370.00" y2="405.40" stroke="#555" stroke-width="0.6"/>
<line x1="392.50" y1="409.00" x2="392.50" y2="412.70" stroke="#555" stroke-width="0.6"/>
<text x="390.70" y="424.87" font-size="8.6" text-anchor="middle" textLength="30.6" lengthAdjust="spacingAndGlyphs">464-20</text>
<line x1="416.50" y1="409.00" x2="416.50" y2="412.70" stroke="#555" stroke-width="0.6"/>
<text x="417.70" y="424.87" font-size="8.6" text-anchor="middle" textLength="16.3" lengthAdjust="spacingAndGlyphs">464</text>
<line x1="440.10" y1="409.00" x2="440.10" y2="412.70" stroke="#555" stroke-width="0.6"/>
<text x="440.10" y="424.87" font-size="8.6" text-anchor="middle" textLength="16.2" lengthAdjust="spacingAndGlyphs">484</text>
<line x1="463.70" y1="409.00" x2="463.70" y2="412.70" stroke="#555" stroke-width="0.6"/>
<text x="463.70" y="424.87" font-size="8.6" text-anchor="middle" textLength="15.8" lengthAdjust="spacingAndGlyphs">504</text>
<line x1="487.30" y1="409.00" x2="487.30" y2="412.70" stroke="#555" stroke-width="0.6"/>
<text x="487.30" y="424.87" font-size="8.6" text-anchor="middle" textLength="15.5" lengthAdjust="spacingAndGlyphs">524</text>
<line x1="510.90" y1="409.00" x2="510.90" y2="412.70" stroke="#555" stroke-width="0.6"/>
<text x="510.90" y="424.87" font-size="8.6" text-anchor="middle" textLength="16.0" lengthAdjust="spacingAndGlyphs">544</text>
<line x1="534.50" y1="409.00" x2="534.50" y2="412.70" stroke="#555" stroke-width="0.6"/>
<text x="534.50" y="424.87" font-size="8.6" text-anchor="middle" textLength="15.8" lengthAdjust="spacingAndGlyphs">564</text>
<line x1="558.10" y1="409.00" x2="558.10" y2="412.70" stroke="#555" stroke-width="0.6"/>
<text x="558.10" y="424.87" font-size="8.6" text-anchor="middle" textLength="15.7" lengthAdjust="spacingAndGlyphs">584</text>
<line x1="581.70" y1="409.00" x2="581.70" y2="412.70" stroke="#555" stroke-width="0.6"/>
<text x="581.70" y="424.87" font-size="8.6" text-anchor="middle" textLength="16.1" lengthAdjust="spacingAndGlyphs">604</text>
<line x1="605.30" y1="409.00" x2="605.30" y2="412.70" stroke="#555" stroke-width="0.6"/>
<text x="605.30" y="424.87" font-size="8.6" text-anchor="middle" textLength="15.8" lengthAdjust="spacingAndGlyphs">624</text>
<line x1="627.10" y1="409.00" x2="627.10" y2="412.70" stroke="#555" stroke-width="0.6"/>
<text x="627.10" y="424.87" font-size="8.6" text-anchor="middle" textLength="15.8" lengthAdjust="spacingAndGlyphs">642</text>
<line x1="650.70" y1="409.00" x2="650.70" y2="412.70" stroke="#555" stroke-width="0.6"/>
<text x="650.70" y="424.87" font-size="8.6" text-anchor="middle" textLength="13.7" lengthAdjust="spacingAndGlyphs">*20</text>
<text x="17.60" y="200.80" font-size="9.7" textLength="24.4" lengthAdjust="spacingAndGlyphs">Exon 1</text>
<text x="346.70" y="200.80" font-size="9.7" textLength="29.5" lengthAdjust="spacingAndGlyphs">Intron 1</text>
<text x="17.40" y="320.40" font-size="9.7" textLength="26.1" lengthAdjust="spacingAndGlyphs">Exon 2</text>
<text x="347.90" y="320.40" font-size="9.7" textLength="27.1" lengthAdjust="spacingAndGlyphs">Exon 3</text>
<line x1="48.90" y1="197.90" x2="300.00" y2="197.90" stroke="#231f20" stroke-width="1.1"/>
<polygon points="124.80,194.35 156.80,194.35 156.80,192.05 163.10,197.90 156.80,203.75 156.80,201.45 124.80,201.45" fill="#fff" stroke="#231f20" stroke-width="1.0" stroke-linejoin="miter"/>
<polygon points="185.10,194.35 208.50,194.35 208.50,192.05 214.60,197.90 208.50,203.75 208.50,201.45 185.10,201.45" fill="#fff" stroke="#231f20" stroke-width="1.0" stroke-linejoin="miter"/>
<polygon points="237.20,194.35 264.10,194.35 264.10,192.05 270.00,197.90 264.10,203.75 264.10,201.45 237.20,201.45" fill="#fff" stroke="#231f20" stroke-width="1.0" stroke-linejoin="miter"/>
<polygon points="288.00,194.35 313.60,194.35 313.60,192.05 320.70,197.90 313.60,203.75 313.60,201.45 288.00,201.45" fill="#fff" stroke="#231f20" stroke-width="1.0" stroke-linejoin="miter"/>
<line x1="110.00" y1="317.90" x2="290.00" y2="317.90" stroke="#231f20" stroke-width="1.1"/>
<polygon points="78.20,313.95 110.90,313.95 110.90,311.55 116.80,317.90 110.90,324.25 110.90,321.85 78.20,321.85" fill="#fff" stroke="#231f20" stroke-width="1.0" stroke-linejoin="miter"/>
<polygon points="162.80,313.95 169.80,313.95 169.80,311.55 176.10,317.90 169.80,324.25 169.80,321.85 162.80,321.85" fill="#fff" stroke="#231f20" stroke-width="1.0" stroke-linejoin="miter"/>
<polygon points="204.20,313.95 211.20,313.95 211.20,311.55 217.50,317.90 211.20,324.25 211.20,321.85 204.20,321.85" fill="#fff" stroke="#231f20" stroke-width="1.0" stroke-linejoin="miter"/>
<polygon points="281.80,313.95 316.80,313.95 316.80,311.55 323.40,317.90 316.80,324.25 316.80,321.85 281.80,321.85" fill="#fff" stroke="#231f20" stroke-width="1.0" stroke-linejoin="miter"/>
<line x1="417.00" y1="317.80" x2="625.70" y2="317.80" stroke="#231f20" stroke-width="1.1"/>
<polygon points="425.30,312.90 428.90,312.90 426.70,317.80 423.10,317.80" fill="#fff" stroke="#231f20" stroke-width="0.8" stroke-linejoin="round"/>
<polygon points="437.70,312.90 441.30,312.90 434.90,323.30 431.30,323.30" fill="#fff" stroke="#231f20" stroke-width="0.8" stroke-linejoin="round"/>
<polygon points="450.10,312.90 453.70,312.90 447.50,323.30 443.90,323.30" fill="#fff" stroke="#231f20" stroke-width="0.8" stroke-linejoin="round"/>
<polygon points="459.70,317.80 463.30,317.80 460.30,323.30 456.70,323.30" fill="#fff" stroke="#231f20" stroke-width="0.8" stroke-linejoin="round"/>
<polygon points="425.30,312.90 428.90,312.90 434.90,323.30 431.30,323.30" fill="#fff" stroke="#231f20" stroke-width="0.8" stroke-linejoin="round"/>
<polygon points="437.70,312.90 441.30,312.90 447.50,323.30 443.90,323.30" fill="#fff" stroke="#231f20" stroke-width="0.8" stroke-linejoin="round"/>
<polygon points="450.10,312.90 453.70,312.90 460.30,323.30 456.70,323.30" fill="#fff" stroke="#231f20" stroke-width="0.8" stroke-linejoin="round"/>
<polygon points="472.60,312.90 476.20,312.90 474.40,317.80 470.80,317.80" fill="#fff" stroke="#231f20" stroke-width="0.8" stroke-linejoin="round"/>
<polygon points="484.90,312.90 488.50,312.90 482.60,323.30 479.00,323.30" fill="#fff" stroke="#231f20" stroke-width="0.8" stroke-linejoin="round"/>
<polygon points="472.60,312.90 476.20,312.90 482.60,323.30 479.00,323.30" fill="#fff" stroke="#231f20" stroke-width="0.8" stroke-linejoin="round"/>
<polygon points="484.90,312.90 488.50,312.90 492.40,317.80 488.80,317.80" fill="#fff" stroke="#231f20" stroke-width="0.8" stroke-linejoin="round"/>
<polygon points="508.20,312.90 511.80,312.90 510.10,317.80 506.50,317.80" fill="#fff" stroke="#231f20" stroke-width="0.8" stroke-linejoin="round"/>
<polygon points="518.70,312.90 522.30,312.90 517.20,323.30 513.60,323.30" fill="#fff" stroke="#231f20" stroke-width="0.8" stroke-linejoin="round"/>
<polygon points="529.20,312.90 532.80,312.90 527.70,323.30 524.10,323.30" fill="#fff" stroke="#231f20" stroke-width="0.8" stroke-linejoin="round"/>
<polygon points="508.20,312.90 511.80,312.90 517.20,323.30 513.60,323.30" fill="#fff" stroke="#231f20" stroke-width="0.8" stroke-linejoin="round"/>
<polygon points="518.70,312.90 522.30,312.90 527.70,323.30 524.10,323.30" fill="#fff" stroke="#231f20" stroke-width="0.8" stroke-linejoin="round"/>
<polygon points="529.20,312.90 532.80,312.90 535.90,317.80 532.30,317.80" fill="#fff" stroke="#231f20" stroke-width="0.8" stroke-linejoin="round"/>
<polygon points="552.20,312.90 555.80,312.90 554.00,317.80 550.40,317.80" fill="#fff" stroke="#231f20" stroke-width="0.8" stroke-linejoin="round"/>
<polygon points="562.70,312.90 566.30,312.90 561.20,323.30 557.60,323.30" fill="#fff" stroke="#231f20" stroke-width="0.8" stroke-linejoin="round"/>
<polygon points="573.20,312.90 576.80,312.90 571.70,323.30 568.10,323.30" fill="#fff" stroke="#231f20" stroke-width="0.8" stroke-linejoin="round"/>
<polygon points="552.20,312.90 555.80,312.90 561.20,323.30 557.60,323.30" fill="#fff" stroke="#231f20" stroke-width="0.8" stroke-linejoin="round"/>
<polygon points="562.70,312.90 566.30,312.90 571.70,323.30 568.10,323.30" fill="#fff" stroke="#231f20" stroke-width="0.8" stroke-linejoin="round"/>
<polygon points="573.20,312.90 576.80,312.90 580.60,317.80 577.00,317.80" fill="#fff" stroke="#231f20" stroke-width="0.8" stroke-linejoin="round"/>
<g fill="#5db994">
<circle cx="58.1" cy="221.7" r="1.9"/>
<circle cx="255.7" cy="225.0" r="1.9"/>
<circle cx="145.9" cy="225.5" r="1.9"/>
<circle cx="230.9" cy="230.3" r="1.9"/>
<circle cx="306.1" cy="225.4" r="1.9"/>
<circle cx="142.6" cy="228.5" r="1.9"/>
<circle cx="138.3" cy="225.3" r="1.9"/>
<circle cx="183.5" cy="222.9" r="1.9"/>
<circle cx="265.1" cy="227.6" r="1.9"/>
<circle cx="50.9" cy="226.4" r="1.9"/>
<circle cx="157.1" cy="222.9" r="1.9"/>
<circle cx="205.7" cy="228.9" r="1.9"/>
<circle cx="129.5" cy="224.9" r="1.9"/>
<circle cx="68.6" cy="230.8" r="1.9"/>
<circle cx="204.8" cy="227.7" r="1.9"/>
<circle cx="312.7" cy="227.0" r="1.9"/>
<circle cx="308.1" cy="225.3" r="1.9"/>
<circle cx="272.9" cy="223.3" r="1.9"/>
<circle cx="289.1" cy="226.1" r="1.9"/>
<circle cx="251.5" cy="228.0" r="1.9"/>
<circle cx="112.3" cy="227.2" r="1.9"/>
<circle cx="102.5" cy="226.5" r="1.9"/>
<circle cx="279.7" cy="225.6" r="1.9"/>
<circle cx="306.2" cy="225.4" r="1.9"/>
<circle cx="70.2" cy="228.6" r="1.9"/>
<circle cx="241.0" cy="222.2" r="1.9"/>
<circle cx="99.2" cy="220.9" r="1.9"/>
<circle cx="295.4" cy="225.5" r="1.9"/>
<circle cx="134.9" cy="226.8" r="1.9"/>
<circle cx="157.2" cy="226.0" r="1.9"/>
<circle cx="95.6" cy="229.7" r="1.9"/>
<circle cx="216.2" cy="223.3" r="1.9"/>
<circle cx="256.2" cy="228.6" r="1.9"/>
<circle cx="282.2" cy="226.2" r="1.9"/>
<circle cx="296.1" cy="221.3" r="1.9"/>
<circle cx="159.8" cy="223.4" r="1.9"/>
<circle cx="90.8" cy="228.3" r="1.9"/>
<circle cx="144.5" cy="226.6" r="1.9"/>
<circle cx="162.0" cy="223.1" r="1.9"/>
<circle cx="224.5" cy="225.7" r="1.9"/>
<circle cx="110.4" cy="222.7" r="1.9"/>
<circle cx="252.8" cy="223.7" r="1.9"/>
<circle cx="223.0" cy="223.0" r="1.9"/>
<circle cx="145.5" cy="225.2" r="1.9"/>
<circle cx="84.2" cy="229.6" r="1.9"/>
<circle cx="89.2" cy="226.6" r="1.9"/>
<circle cx="156.0" cy="232.4" r="1.9"/>
<circle cx="81.6" cy="225.5" r="1.9"/>
<circle cx="197.3" cy="228.8" r="1.9"/>
<circle cx="245.9" cy="231.1" r="1.9"/>
<circle cx="281.5" cy="228.6" r="1.9"/>
<circle cx="142.7" cy="222.8" r="1.9"/>
<circle cx="166.9" cy="227.5" r="1.9"/>
<circle cx="289.6" cy="225.3" r="1.9"/>
<circle cx="171.8" cy="224.0" r="1.9"/>
<circle cx="225.2" cy="230.8" r="1.9"/>
<circle cx="66.5" cy="224.6" r="1.9"/>
<circle cx="65.0" cy="224.0" r="1.9"/>
<circle cx="158.5" cy="231.8" r="1.9"/>
<circle cx="57.2" cy="222.9" r="1.9"/>
<circle cx="119.0" cy="224.6" r="1.9"/>
<circle cx="136.1" cy="227.2" r="1.9"/>
<circle cx="220.6" cy="224.2" r="1.9"/>
<circle cx="311.0" cy="231.4" r="1.9"/>
<circle cx="176.5" cy="230.3" r="1.9"/>
<circle cx="268.7" cy="225.0" r="1.9"/>
<circle cx="72.6" cy="232.3" r="1.9"/>
<circle cx="92.1" cy="226.5" r="1.9"/>
<circle cx="105.6" cy="231.0" r="1.9"/>
<circle cx="61.3" cy="228.1" r="1.9"/>
<circle cx="97.7" cy="232.4" r="1.9"/>
<circle cx="231.9" cy="220.9" r="1.9"/>
<circle cx="89.6" cy="227.7" r="1.9"/>
<circle cx="89.3" cy="225.6" r="1.9"/>
<circle cx="75.0" cy="228.5" r="1.9"/>
<circle cx="159.6" cy="229.8" r="1.9"/>
<circle cx="284.5" cy="226.9" r="1.9"/>
<circle cx="102.8" cy="226.3" r="1.9"/>
<circle cx="59.1" cy="224.3" r="1.9"/>
<circle cx="235.5" cy="226.4" r="1.9"/>
<circle cx="61.9" cy="227.2" r="1.9"/>
<circle cx="81.2" cy="225.8" r="1.9"/>
<circle cx="308.1" cy="226.3" r="1.9"/>
<circle cx="232.0" cy="226.4" r="1.9"/>
<circle cx="218.1" cy="220.7" r="1.9"/>
<circle cx="273.2" cy="224.5" r="1.9"/>
<circle cx="142.3" cy="227.9" r="1.9"/>
<circle cx="244.3" cy="231.9" r="1.9"/>
<circle cx="236.9" cy="228.2" r="1.9"/>
<circle cx="101.5" cy="226.6" r="1.9"/>
<circle cx="158.0" cy="224.1" r="1.9"/>
<circle cx="136.0" cy="225.5" r="1.9"/>
<circle cx="223.4" cy="223.6" r="1.9"/>
<circle cx="311.3" cy="225.7" r="1.9"/>
<circle cx="155.6" cy="225.3" r="1.9"/>
<circle cx="152.3" cy="228.8" r="1.9"/>
<circle cx="284.4" cy="227.8" r="1.9"/>
<circle cx="112.8" cy="220.9" r="1.9"/>
<circle cx="234.2" cy="225.5" r="1.9"/>
<circle cx="226.1" cy="220.7" r="1.9"/>
<circle cx="274.1" cy="227.4" r="1.9"/>
<circle cx="157.4" cy="220.9" r="1.9"/>
<circle cx="231.9" cy="223.3" r="1.9"/>
<circle cx="308.4" cy="227.4" r="1.9"/>
<circle cx="175.4" cy="224.7" r="1.9"/>
<circle cx="207.1" cy="224.3" r="1.9"/>
<circle cx="111.6" cy="223.3" r="1.9"/>
<circle cx="143.8" cy="223.3" r="1.9"/>
<circle cx="154.1" cy="222.9" r="1.9"/>
<circle cx="68.2" cy="225.7" r="1.9"/>
<circle cx="295.7" cy="226.5" r="1.9"/>
<circle cx="278.0" cy="224.8" r="1.9"/>
<circle cx="188.4" cy="224.7" r="1.9"/>
<circle cx="66.6" cy="226.7" r="1.9"/>
<circle cx="188.9" cy="222.0" r="1.9"/>
<circle cx="228.9" cy="225.7" r="1.9"/>
<circle cx="268.4" cy="223.5" r="1.9"/>
<circle cx="135.0" cy="227.3" r="1.9"/>
<circle cx="271.2" cy="226.8" r="1.9"/>
<circle cx="236.6" cy="225.4" r="1.9"/>
<circle cx="76.4" cy="223.2" r="1.9"/>
<circle cx="169.9" cy="229.9" r="1.9"/>
<circle cx="122.4" cy="225.7" r="1.9"/>
<circle cx="169.0" cy="229.0" r="1.9"/>
<circle cx="244.1" cy="227.6" r="1.9"/>
<circle cx="230.6" cy="228.8" r="1.9"/>
<circle cx="179.5" cy="224.6" r="1.9"/>
<circle cx="263.0" cy="223.9" r="1.9"/>
<circle cx="53.7" cy="227.6" r="1.9"/>
<circle cx="206.7" cy="229.3" r="1.9"/>
<circle cx="240.8" cy="226.1" r="1.9"/>
<circle cx="119.9" cy="228.8" r="1.9"/>
<circle cx="73.4" cy="222.6" r="1.9"/>
<circle cx="83.3" cy="222.1" r="1.9"/>
<circle cx="214.0" cy="225.9" r="1.9"/>
<circle cx="149.3" cy="227.0" r="1.9"/>
<circle cx="239.2" cy="225.8" r="1.9"/>
<circle cx="143.1" cy="229.0" r="1.9"/>
<circle cx="275.9" cy="228.4" r="1.9"/>
<circle cx="65.9" cy="229.4" r="1.9"/>
<circle cx="137.0" cy="230.4" r="1.9"/>
<circle cx="154.0" cy="228.3" r="1.9"/>
<circle cx="181.6" cy="229.8" r="1.9"/>
<circle cx="77.8" cy="223.6" r="1.9"/>
<circle cx="298.7" cy="225.8" r="1.9"/>
<circle cx="96.1" cy="223.5" r="1.9"/>
<circle cx="166.4" cy="223.4" r="1.9"/>
<circle cx="228.0" cy="226.5" r="1.9"/>
<circle cx="156.2" cy="230.1" r="1.9"/>
<circle cx="254.4" cy="227.2" r="1.9"/>
<circle cx="80.5" cy="226.6" r="1.9"/>
<circle cx="76.2" cy="227.5" r="1.9"/>
<circle cx="275.5" cy="226.9" r="1.9"/>
<circle cx="238.9" cy="228.8" r="1.9"/>
<circle cx="279.4" cy="223.2" r="1.9"/>
<circle cx="315.5" cy="225.4" r="1.9"/>
<circle cx="281.8" cy="227.5" r="1.9"/>
<circle cx="98.7" cy="228.4" r="1.9"/>
<circle cx="187.8" cy="228.4" r="1.9"/>
<circle cx="197.4" cy="227.6" r="1.9"/>
<circle cx="230.8" cy="225.8" r="1.9"/>
<circle cx="263.1" cy="227.9" r="1.9"/>
<circle cx="130.4" cy="227.6" r="1.9"/>
<circle cx="298.0" cy="227.4" r="1.9"/>
<circle cx="238.5" cy="229.6" r="1.9"/>
<circle cx="102.5" cy="231.4" r="1.9"/>
<circle cx="243.7" cy="227.2" r="1.9"/>
<circle cx="58.4" cy="226.5" r="1.9"/>
<circle cx="261.6" cy="225.5" r="1.9"/>
<circle cx="157.4" cy="230.3" r="1.9"/>
<circle cx="103.4" cy="226.9" r="1.9"/>
<circle cx="62.1" cy="228.2" r="1.9"/>
<circle cx="266.4" cy="226.0" r="1.9"/>
<circle cx="182.0" cy="226.4" r="1.9"/>
<circle cx="263.1" cy="225.2" r="1.9"/>
<circle cx="186.8" cy="226.1" r="1.9"/>
<circle cx="74.4" cy="227.9" r="1.9"/>
<circle cx="108.7" cy="219.8" r="1.9"/>
<circle cx="237.6" cy="224.2" r="1.9"/>
<circle cx="295.7" cy="227.1" r="1.9"/>
<circle cx="60.1" cy="227.7" r="1.9"/>
<circle cx="282.6" cy="224.9" r="1.9"/>
<circle cx="237.8" cy="226.0" r="1.9"/>
<circle cx="135.6" cy="224.2" r="1.9"/>
<circle cx="89.6" cy="228.8" r="1.9"/>
<circle cx="309.1" cy="221.3" r="1.9"/>
<circle cx="150.5" cy="225.2" r="1.9"/>
<circle cx="101.9" cy="224.9" r="1.9"/>
<circle cx="243.4" cy="223.4" r="1.9"/>
<circle cx="59.4" cy="228.3" r="1.9"/>
<circle cx="81.6" cy="233.2" r="1.9"/>
<circle cx="126.6" cy="222.3" r="1.9"/>
<circle cx="53.7" cy="227.6" r="1.9"/>
<circle cx="102.5" cy="220.7" r="1.9"/>
<circle cx="279.7" cy="224.3" r="1.9"/>
<circle cx="102.8" cy="224.4" r="1.9"/>
<circle cx="121.4" cy="230.5" r="1.9"/>
<circle cx="203.5" cy="223.6" r="1.9"/>
<circle cx="57.7" cy="220.1" r="1.9"/>
<circle cx="100.9" cy="222.2" r="1.9"/>
<circle cx="224.3" cy="228.3" r="1.9"/>
<circle cx="177.4" cy="227.1" r="1.9"/>
<circle cx="247.2" cy="228.1" r="1.9"/>
<circle cx="265.0" cy="229.8" r="1.9"/>
<circle cx="74.5" cy="221.6" r="1.9"/>
<circle cx="172.2" cy="225.0" r="1.9"/>
<circle cx="59.6" cy="223.7" r="1.9"/>
<circle cx="159.9" cy="225.1" r="1.9"/>
<circle cx="69.4" cy="225.7" r="1.9"/>
<circle cx="94.3" cy="221.9" r="1.9"/>
<circle cx="137.5" cy="229.3" r="1.9"/>
<circle cx="130.0" cy="221.9" r="1.9"/>
<circle cx="74.1" cy="227.4" r="1.9"/>
<circle cx="121.2" cy="225.5" r="1.9"/>
<circle cx="135.6" cy="226.5" r="1.9"/>
<circle cx="184.3" cy="229.6" r="1.9"/>
<circle cx="302.5" cy="225.9" r="1.9"/>
<circle cx="291.5" cy="228.9" r="1.9"/>
<circle cx="286.8" cy="231.2" r="1.9"/>
<circle cx="260.4" cy="226.9" r="1.9"/>
<circle cx="233.0" cy="226.9" r="1.9"/>
<circle cx="273.6" cy="229.8" r="1.9"/>
<circle cx="162.2" cy="225.5" r="1.9"/>
<circle cx="71.5" cy="225.4" r="1.9"/>
<circle cx="111.5" cy="222.4" r="1.9"/>
<circle cx="268.3" cy="224.3" r="1.9"/>
<circle cx="209.0" cy="227.1" r="1.9"/>
<circle cx="266.5" cy="226.3" r="1.9"/>
<circle cx="71.4" cy="226.6" r="1.9"/>
<circle cx="51.9" cy="222.4" r="1.9"/>
<circle cx="259.0" cy="230.1" r="1.9"/>
<circle cx="244.9" cy="227.2" r="1.9"/>
<circle cx="89.4" cy="225.5" r="1.9"/>
<circle cx="295.9" cy="227.3" r="1.9"/>
<circle cx="238.2" cy="226.6" r="1.9"/>
<circle cx="59.1" cy="226.5" r="1.9"/>
<circle cx="291.5" cy="226.4" r="1.9"/>
<circle cx="280.4" cy="223.5" r="1.9"/>
<circle cx="274.8" cy="226.6" r="1.9"/>
<circle cx="204.6" cy="225.4" r="1.9"/>
<circle cx="228.6" cy="226.4" r="1.9"/>
<circle cx="290.6" cy="225.3" r="1.9"/>
<circle cx="271.3" cy="227.3" r="1.9"/>
<circle cx="152.0" cy="223.1" r="1.9"/>
<circle cx="248.7" cy="223.8" r="1.9"/>
<circle cx="67.2" cy="224.0" r="1.9"/>
<circle cx="249.4" cy="227.3" r="1.9"/>
<circle cx="198.9" cy="225.0" r="1.9"/>
<circle cx="202.5" cy="230.9" r="1.9"/>
<circle cx="153.7" cy="224.2" r="1.9"/>
<circle cx="260.9" cy="224.3" r="1.9"/>
<circle cx="157.5" cy="220.8" r="1.9"/>
<circle cx="110.0" cy="224.1" r="1.9"/>
<circle cx="260.7" cy="223.1" r="1.9"/>
<circle cx="129.2" cy="221.2" r="1.9"/>
<circle cx="160.8" cy="222.6" r="1.9"/>
<circle cx="171.1" cy="225.5" r="1.9"/>
<circle cx="154.2" cy="227.9" r="1.9"/>
<circle cx="214.3" cy="226.1" r="1.9"/>
<circle cx="99.0" cy="227.6" r="1.9"/>
<circle cx="157.8" cy="224.6" r="1.9"/>
<circle cx="231.3" cy="226.0" r="1.9"/>
<circle cx="149.3" cy="228.4" r="1.9"/>
<circle cx="304.7" cy="225.2" r="1.9"/>
<circle cx="93.7" cy="223.3" r="1.9"/>
<circle cx="131.4" cy="230.3" r="1.9"/>
<circle cx="304.2" cy="221.3" r="1.9"/>
<circle cx="277.8" cy="226.1" r="1.9"/>
<circle cx="153.4" cy="231.4" r="1.9"/>
<circle cx="301.3" cy="226.6" r="1.9"/>
<circle cx="199.9" cy="224.3" r="1.9"/>
<circle cx="311.9" cy="223.8" r="1.9"/>
<circle cx="85.1" cy="226.4" r="1.9"/>
<circle cx="69.3" cy="224.2" r="1.9"/>
<circle cx="167.6" cy="228.7" r="1.9"/>
<circle cx="299.4" cy="225.9" r="1.9"/>
<circle cx="291.2" cy="224.5" r="1.9"/>
<circle cx="64.2" cy="226.4" r="1.9"/>
<circle cx="197.8" cy="222.6" r="1.9"/>
<circle cx="243.6" cy="227.6" r="1.9"/>
<circle cx="58.4" cy="225.7" r="1.9"/>
<circle cx="87.6" cy="227.8" r="1.9"/>
<circle cx="315.4" cy="227.6" r="1.9"/>
<circle cx="216.5" cy="229.1" r="1.9"/>
<circle cx="126.7" cy="223.7" r="1.9"/>
<circle cx="222.2" cy="225.7" r="1.9"/>
<circle cx="180.6" cy="228.7" r="1.9"/>
<circle cx="135.6" cy="226.0" r="1.9"/>
<circle cx="269.5" cy="226.9" r="1.9"/>
<circle cx="102.6" cy="223.9" r="1.9"/>
<circle cx="92.3" cy="226.3" r="1.9"/>
<circle cx="291.3" cy="225.2" r="1.9"/>
<circle cx="308.4" cy="226.7" r="1.9"/>
<circle cx="121.7" cy="223.9" r="1.9"/>
<circle cx="101.7" cy="225.1" r="1.9"/>
<circle cx="231.0" cy="228.6" r="1.9"/>
<circle cx="154.2" cy="221.4" r="1.9"/>
<circle cx="79.0" cy="231.3" r="1.9"/>
<circle cx="182.8" cy="225.2" r="1.9"/>
<circle cx="60.7" cy="227.3" r="1.9"/>
<circle cx="251.1" cy="223.7" r="1.9"/>
<circle cx="250.0" cy="226.9" r="1.9"/>
<circle cx="153.6" cy="225.9" r="1.9"/>
<circle cx="276.3" cy="224.4" r="1.9"/>
<circle cx="118.3" cy="226.5" r="1.9"/>
<circle cx="143.4" cy="225.6" r="1.9"/>
<circle cx="119.9" cy="226.4" r="1.9"/>
<circle cx="250.2" cy="227.2" r="1.9"/>
<circle cx="271.8" cy="225.3" r="1.9"/>
<circle cx="221.2" cy="221.3" r="1.9"/>
<circle cx="255.8" cy="222.4" r="1.9"/>
<circle cx="155.8" cy="230.1" r="1.9"/>
<circle cx="264.1" cy="225.6" r="1.9"/>
<circle cx="191.0" cy="227.7" r="1.9"/>
<circle cx="227.7" cy="227.4" r="1.9"/>
<circle cx="231.1" cy="225.7" r="1.9"/>
<circle cx="66.8" cy="230.2" r="1.9"/>
<circle cx="203.3" cy="226.5" r="1.9"/>
<circle cx="106.1" cy="225.8" r="1.9"/>
<circle cx="89.4" cy="221.5" r="1.9"/>
<circle cx="182.7" cy="230.6" r="1.9"/>
<circle cx="283.6" cy="223.8" r="1.9"/>
<circle cx="221.9" cy="228.0" r="1.9"/>
<circle cx="239.1" cy="224.9" r="1.9"/>
<circle cx="211.3" cy="228.1" r="1.9"/>
<circle cx="229.5" cy="225.3" r="1.9"/>
<circle cx="145.0" cy="226.1" r="1.9"/>
<circle cx="107.3" cy="225.4" r="1.9"/>
<circle cx="217.0" cy="227.6" r="1.9"/>
<circle cx="309.9" cy="227.6" r="1.9"/>
<circle cx="59.6" cy="227.1" r="1.9"/>
<circle cx="127.5" cy="225.3" r="1.9"/>
<circle cx="306.6" cy="225.0" r="1.9"/>
<circle cx="124.2" cy="226.0" r="1.9"/>
<circle cx="108.5" cy="228.7" r="1.9"/>
<circle cx="162.2" cy="230.5" r="1.9"/>
<circle cx="303.9" cy="226.3" r="1.9"/>
<circle cx="155.8" cy="227.5" r="1.9"/>
<circle cx="109.4" cy="232.5" r="1.9"/>
<circle cx="305.7" cy="221.7" r="1.9"/>
<circle cx="224.6" cy="226.4" r="1.9"/>
<circle cx="164.2" cy="230.0" r="1.9"/>
<circle cx="99.9" cy="225.4" r="1.9"/>
<circle cx="124.4" cy="225.5" r="1.9"/>
<circle cx="69.4" cy="226.8" r="1.9"/>
<circle cx="260.0" cy="226.2" r="1.9"/>
<circle cx="255.5" cy="227.5" r="1.9"/>
<circle cx="248.6" cy="229.9" r="1.9"/>
<circle cx="294.6" cy="225.9" r="1.9"/>
<circle cx="143.5" cy="222.3" r="1.9"/>
<circle cx="52.5" cy="229.5" r="1.9"/>
<circle cx="197.9" cy="223.5" r="1.9"/>
<circle cx="200.0" cy="225.5" r="1.9"/>
<circle cx="60.8" cy="228.9" r="1.9"/>
<circle cx="233.6" cy="225.9" r="1.9"/>
<circle cx="255.3" cy="226.7" r="1.9"/>
<circle cx="77.5" cy="229.2" r="1.9"/>
<circle cx="178.8" cy="229.9" r="1.9"/>
<circle cx="292.4" cy="227.0" r="1.9"/>
<circle cx="275.9" cy="224.1" r="1.9"/>
<circle cx="184.6" cy="226.9" r="1.9"/>
<circle cx="299.3" cy="227.9" r="1.9"/>
<circle cx="238.6" cy="232.0" r="1.9"/>
<circle cx="255.8" cy="224.4" r="1.9"/>
<circle cx="92.0" cy="228.8" r="1.9"/>
<circle cx="52.4" cy="224.5" r="1.9"/>
<circle cx="243.3" cy="225.9" r="1.9"/>
<circle cx="172.8" cy="226.3" r="1.9"/>
<circle cx="103.5" cy="220.9" r="1.9"/>
<circle cx="139.4" cy="223.8" r="1.9"/>
<circle cx="178.4" cy="225.3" r="1.9"/>
<circle cx="103.6" cy="225.0" r="1.9"/>
<circle cx="151.2" cy="229.1" r="1.9"/>
<circle cx="301.3" cy="228.0" r="1.9"/>
<circle cx="170.9" cy="223.3" r="1.9"/>
<circle cx="252.4" cy="224.8" r="1.9"/>
<circle cx="279.1" cy="227.9" r="1.9"/>
<circle cx="240.4" cy="229.2" r="1.9"/>
<circle cx="233.8" cy="225.2" r="1.9"/>
<circle cx="209.0" cy="226.6" r="1.9"/>
<circle cx="235.8" cy="227.8" r="1.9"/>
<circle cx="153.7" cy="221.3" r="1.9"/>
<circle cx="218.3" cy="226.4" r="1.9"/>
<circle cx="291.4" cy="225.8" r="1.9"/>
<circle cx="263.3" cy="227.0" r="1.9"/>
<circle cx="300.3" cy="226.5" r="1.9"/>
<circle cx="256.0" cy="229.0" r="1.9"/>
<circle cx="119.2" cy="227.3" r="1.9"/>
<circle cx="173.9" cy="220.3" r="1.9"/>
<circle cx="98.9" cy="227.3" r="1.9"/>
<circle cx="213.4" cy="225.2" r="1.9"/>
<circle cx="293.7" cy="228.5" r="1.9"/>
<circle cx="68.3" cy="230.5" r="1.9"/>
<circle cx="183.2" cy="227.1" r="1.9"/>
<circle cx="237.5" cy="224.8" r="1.9"/>
<circle cx="155.0" cy="223.4" r="1.9"/>
<circle cx="198.5" cy="226.8" r="1.9"/>
<circle cx="104.7" cy="228.1" r="1.9"/>
<circle cx="228.4" cy="229.5" r="1.9"/>
<circle cx="194.8" cy="226.1" r="1.9"/>
<circle cx="229.9" cy="227.8" r="1.9"/>
<circle cx="73.0" cy="227.5" r="1.9"/>
<circle cx="129.8" cy="226.5" r="1.9"/>
<circle cx="254.3" cy="225.2" r="1.9"/>
<circle cx="70.1" cy="230.7" r="1.9"/>
<circle cx="187.9" cy="227.4" r="1.9"/>
<circle cx="311.7" cy="228.6" r="1.9"/>
<circle cx="293.7" cy="225.2" r="1.9"/>
<circle cx="292.7" cy="228.1" r="1.9"/>
<circle cx="227.9" cy="223.3" r="1.9"/>
<circle cx="275.9" cy="222.6" r="1.9"/>
<circle cx="214.2" cy="228.4" r="1.9"/>
<circle cx="166.9" cy="225.9" r="1.9"/>
<circle cx="275.0" cy="224.9" r="1.9"/>
<circle cx="135.6" cy="228.8" r="1.9"/>
<circle cx="252.5" cy="227.7" r="1.9"/>
<circle cx="122.2" cy="226.4" r="1.9"/>
<circle cx="140.0" cy="229.1" r="1.9"/>
<circle cx="294.9" cy="224.8" r="1.9"/>
<circle cx="286.6" cy="229.5" r="1.9"/>
<circle cx="191.0" cy="230.0" r="1.9"/>
<circle cx="162.5" cy="229.3" r="1.9"/>
<circle cx="147.0" cy="220.1" r="1.9"/>
<circle cx="105.5" cy="224.7" r="1.9"/>
<circle cx="222.5" cy="221.2" r="1.9"/>
<circle cx="297.7" cy="225.3" r="1.9"/>
<circle cx="222.0" cy="227.2" r="1.9"/>
<circle cx="239.7" cy="230.0" r="1.9"/>
<circle cx="240.1" cy="227.8" r="1.9"/>
<circle cx="213.0" cy="226.3" r="1.9"/>
<circle cx="233.4" cy="226.3" r="1.9"/>
<circle cx="140.2" cy="222.0" r="1.9"/>
<circle cx="73.5" cy="229.2" r="1.9"/>
<circle cx="224.2" cy="224.0" r="1.9"/>
<circle cx="234.5" cy="226.1" r="1.9"/>
<circle cx="192.0" cy="227.2" r="1.9"/>
<circle cx="145.5" cy="227.2" r="1.9"/>
<circle cx="222.1" cy="227.3" r="1.9"/>
<circle cx="294.8" cy="222.3" r="1.9"/>
<circle cx="129.9" cy="228.2" r="1.9"/>
<circle cx="235.0" cy="229.5" r="1.9"/>
<circle cx="279.0" cy="231.7" r="1.9"/>
<circle cx="140.4" cy="226.7" r="1.9"/>
<circle cx="77.5" cy="225.8" r="1.9"/>
<circle cx="263.4" cy="225.6" r="1.9"/>
<circle cx="274.8" cy="224.9" r="1.9"/>
<circle cx="290.6" cy="228.0" r="1.9"/>
<circle cx="225.5" cy="229.2" r="1.9"/>
<circle cx="61.2" cy="220.8" r="1.9"/>
<circle cx="151.3" cy="227.0" r="1.9"/>
<circle cx="201.1" cy="226.5" r="1.9"/>
<circle cx="120.6" cy="227.4" r="1.9"/>
<circle cx="298.9" cy="224.9" r="1.9"/>
<circle cx="85.9" cy="229.2" r="1.9"/>
<circle cx="147.9" cy="228.3" r="1.9"/>
<circle cx="291.8" cy="229.0" r="1.9"/>
<circle cx="125.2" cy="223.1" r="1.9"/>
<circle cx="222.2" cy="229.0" r="1.9"/>
<circle cx="252.6" cy="227.4" r="1.9"/>
<circle cx="119.2" cy="224.8" r="1.9"/>
<circle cx="62.5" cy="223.5" r="1.9"/>
<circle cx="124.3" cy="222.0" r="1.9"/>
<circle cx="166.0" cy="228.5" r="1.9"/>
<circle cx="74.0" cy="228.5" r="1.9"/>
<circle cx="178.5" cy="231.2" r="1.9"/>
<circle cx="166.6" cy="223.8" r="1.9"/>
<circle cx="99.9" cy="226.1" r="1.9"/>
<circle cx="299.1" cy="228.5" r="1.9"/>
<circle cx="68.1" cy="227.2" r="1.9"/>
<circle cx="78.4" cy="231.1" r="1.9"/>
<circle cx="189.1" cy="226.5" r="1.9"/>
<circle cx="105.7" cy="228.1" r="1.9"/>
<circle cx="176.5" cy="220.5" r="1.9"/>
<circle cx="68.9" cy="227.8" r="1.9"/>
<circle cx="217.5" cy="227.9" r="1.9"/>
<circle cx="67.2" cy="227.8" r="1.9"/>
<circle cx="177.6" cy="226.6" r="1.9"/>
<circle cx="220.8" cy="226.7" r="1.9"/>
<circle cx="192.4" cy="226.7" r="1.9"/>
<circle cx="222.9" cy="229.1" r="1.9"/>
<circle cx="152.4" cy="228.1" r="1.9"/>
<circle cx="277.9" cy="225.2" r="1.9"/>
<circle cx="224.3" cy="224.3" r="1.9"/>
<circle cx="208.7" cy="223.4" r="1.9"/>
<circle cx="169.0" cy="227.6" r="1.9"/>
<circle cx="273.1" cy="225.0" r="1.9"/>
<circle cx="249.0" cy="221.9" r="1.9"/>
<circle cx="55.7" cy="222.9" r="1.9"/>
<circle cx="52.4" cy="228.5" r="1.9"/>
<circle cx="148.8" cy="225.8" r="1.9"/>
<circle cx="228.6" cy="227.6" r="1.9"/>
<circle cx="271.7" cy="230.8" r="1.9"/>
<circle cx="131.7" cy="226.9" r="1.9"/>
<circle cx="57.5" cy="224.1" r="1.9"/>
<circle cx="140.6" cy="226.1" r="1.9"/>
<circle cx="254.6" cy="226.0" r="1.9"/>
<circle cx="270.1" cy="229.3" r="1.9"/>
<circle cx="211.0" cy="226.4" r="1.9"/>
<circle cx="199.0" cy="226.1" r="1.9"/>
<circle cx="199.1" cy="225.1" r="1.9"/>
<circle cx="305.4" cy="227.0" r="1.9"/>
<circle cx="204.2" cy="227.4" r="1.9"/>
<circle cx="93.8" cy="225.4" r="1.9"/>
<circle cx="259.9" cy="226.8" r="1.9"/>
<circle cx="286.2" cy="224.3" r="1.9"/>
<circle cx="307.4" cy="223.1" r="1.9"/>
<circle cx="74.3" cy="221.5" r="1.9"/>
<circle cx="290.4" cy="227.9" r="1.9"/>
<circle cx="126.2" cy="231.7" r="1.9"/>
<circle cx="68.6" cy="225.2" r="1.9"/>
<circle cx="275.6" cy="227.5" r="1.9"/>
<circle cx="168.2" cy="223.0" r="1.9"/>
<circle cx="224.7" cy="222.9" r="1.9"/>
<circle cx="165.4" cy="224.1" r="1.9"/>
<circle cx="201.3" cy="227.9" r="1.9"/>
<circle cx="220.8" cy="229.6" r="1.9"/>
<circle cx="146.8" cy="222.5" r="1.9"/>
<circle cx="236.2" cy="225.9" r="1.9"/>
<circle cx="215.7" cy="223.0" r="1.9"/>
<circle cx="167.8" cy="227.1" r="1.9"/>
<circle cx="230.0" cy="225.6" r="1.9"/>
<circle cx="173.3" cy="222.9" r="1.9"/>
<circle cx="258.8" cy="226.6" r="1.9"/>
<circle cx="193.9" cy="228.9" r="1.9"/>
<circle cx="305.7" cy="227.5" r="1.9"/>
<circle cx="150.5" cy="225.3" r="1.9"/>
<circle cx="253.8" cy="227.5" r="1.9"/>
<circle cx="283.7" cy="227.4" r="1.9"/>
<circle cx="58.5" cy="228.4" r="1.9"/>
<circle cx="221.6" cy="228.2" r="1.9"/>
<circle cx="204.5" cy="229.3" r="1.9"/>
<circle cx="141.1" cy="225.2" r="1.9"/>
<circle cx="133.0" cy="227.9" r="1.9"/>
<circle cx="154.2" cy="222.7" r="1.9"/>
<circle cx="306.0" cy="226.8" r="1.9"/>
<circle cx="218.4" cy="222.1" r="1.9"/>
<circle cx="147.6" cy="228.6" r="1.9"/>
<circle cx="268.4" cy="224.0" r="1.9"/>
<circle cx="275.9" cy="228.3" r="1.9"/>
<circle cx="288.5" cy="224.5" r="1.9"/>
<circle cx="242.7" cy="226.3" r="1.9"/>
<circle cx="272.5" cy="227.2" r="1.9"/>
<circle cx="234.8" cy="228.0" r="1.9"/>
<circle cx="289.5" cy="226.4" r="1.9"/>
<circle cx="54.2" cy="231.6" r="1.9"/>
<circle cx="88.7" cy="230.8" r="1.9"/>
<circle cx="68.6" cy="225.0" r="1.9"/>
<circle cx="282.6" cy="227.8" r="1.9"/>
<circle cx="63.7" cy="227.9" r="1.9"/>
<circle cx="65.9" cy="227.3" r="1.9"/>
<circle cx="235.0" cy="226.1" r="1.9"/>
<circle cx="140.2" cy="231.0" r="1.9"/>
<circle cx="86.7" cy="219.7" r="1.9"/>
<circle cx="249.6" cy="222.4" r="1.9"/>
<circle cx="151.9" cy="226.0" r="1.9"/>
<circle cx="263.1" cy="224.9" r="1.9"/>
<circle cx="66.5" cy="229.4" r="1.9"/>
<circle cx="263.7" cy="229.5" r="1.9"/>
<circle cx="215.2" cy="227.6" r="1.9"/>
<circle cx="85.9" cy="223.5" r="1.9"/>
</g>
<g fill="#4b73bf">
<circle cx="298.3" cy="226.8" r="1.9"/>
<circle cx="113.3" cy="229.8" r="1.9"/>
<circle cx="182.8" cy="224.6" r="1.9"/>
<circle cx="57.3" cy="225.9" r="1.9"/>
<circle cx="108.0" cy="225.5" r="1.9"/>
<circle cx="213.1" cy="228.5" r="1.9"/>
<circle cx="103.6" cy="225.1" r="1.9"/>
<circle cx="84.0" cy="228.9" r="1.9"/>
<circle cx="109.4" cy="226.7" r="1.9"/>
<circle cx="154.9" cy="222.8" r="1.9"/>
<circle cx="63.9" cy="225.5" r="1.9"/>
<circle cx="135.8" cy="225.7" r="1.9"/>
<circle cx="89.4" cy="229.9" r="1.9"/>
<circle cx="57.1" cy="224.4" r="1.9"/>
<circle cx="80.9" cy="223.8" r="1.9"/>
<circle cx="232.1" cy="226.1" r="1.9"/>
<circle cx="190.3" cy="226.3" r="1.9"/>
<circle cx="215.5" cy="225.4" r="1.9"/>
<circle cx="178.1" cy="226.2" r="1.9"/>
<circle cx="169.1" cy="228.9" r="1.9"/>
<circle cx="299.5" cy="224.2" r="1.9"/>
<circle cx="257.2" cy="227.4" r="1.9"/>
<circle cx="214.2" cy="227.7" r="1.9"/>
<circle cx="84.5" cy="227.6" r="1.9"/>
<circle cx="65.9" cy="226.0" r="1.9"/>
<circle cx="276.6" cy="225.8" r="1.9"/>
<circle cx="165.8" cy="227.7" r="1.9"/>
<circle cx="240.1" cy="227.0" r="1.9"/>
<circle cx="57.5" cy="228.8" r="1.9"/>
<circle cx="235.9" cy="224.9" r="1.9"/>
<circle cx="92.8" cy="222.5" r="1.9"/>
<circle cx="113.0" cy="225.5" r="1.9"/>
<circle cx="253.2" cy="224.9" r="1.9"/>
<circle cx="286.9" cy="226.8" r="1.9"/>
<circle cx="308.5" cy="227.0" r="1.9"/>
<circle cx="175.2" cy="227.1" r="1.9"/>
<circle cx="210.3" cy="225.7" r="1.9"/>
<circle cx="245.0" cy="227.9" r="1.9"/>
<circle cx="249.0" cy="227.8" r="1.9"/>
<circle cx="263.2" cy="225.3" r="1.9"/>
<circle cx="117.1" cy="221.2" r="1.9"/>
<circle cx="309.7" cy="227.0" r="1.9"/>
<circle cx="132.7" cy="225.7" r="1.9"/>
<circle cx="225.1" cy="223.0" r="1.9"/>
<circle cx="268.4" cy="227.5" r="1.9"/>
<circle cx="259.3" cy="224.7" r="1.9"/>
<circle cx="210.9" cy="229.5" r="1.9"/>
<circle cx="109.9" cy="223.4" r="1.9"/>
<circle cx="267.6" cy="226.1" r="1.9"/>
<circle cx="214.0" cy="227.8" r="1.9"/>
<circle cx="150.0" cy="227.2" r="1.9"/>
<circle cx="250.9" cy="226.9" r="1.9"/>
<circle cx="267.1" cy="225.9" r="1.9"/>
<circle cx="250.5" cy="225.8" r="1.9"/>
<circle cx="116.6" cy="225.2" r="1.9"/>
<circle cx="84.7" cy="224.6" r="1.9"/>
<circle cx="228.1" cy="229.5" r="1.9"/>
<circle cx="275.4" cy="227.3" r="1.9"/>
<circle cx="277.9" cy="229.1" r="1.9"/>
<circle cx="260.9" cy="225.3" r="1.9"/>
<circle cx="301.6" cy="224.6" r="1.9"/>
<circle cx="243.8" cy="226.5" r="1.9"/>
<circle cx="115.6" cy="227.6" r="1.9"/>
<circle cx="290.1" cy="227.0" r="1.9"/>
<circle cx="109.6" cy="226.9" r="1.9"/>
<circle cx="102.0" cy="226.5" r="1.9"/>
<circle cx="219.9" cy="225.5" r="1.9"/>
<circle cx="131.7" cy="228.2" r="1.9"/>
<circle cx="134.0" cy="224.2" r="1.9"/>
<circle cx="202.1" cy="228.9" r="1.9"/>
<circle cx="209.2" cy="229.8" r="1.9"/>
<circle cx="178.2" cy="226.1" r="1.9"/>
<circle cx="52.2" cy="227.6" r="1.9"/>
<circle cx="145.8" cy="225.8" r="1.9"/>
<circle cx="296.7" cy="224.6" r="1.9"/>
<circle cx="172.2" cy="223.2" r="1.9"/>
<circle cx="55.3" cy="231.4" r="1.9"/>
<circle cx="188.8" cy="230.7" r="1.9"/>
<circle cx="76.1" cy="227.0" r="1.9"/>
<circle cx="107.5" cy="223.7" r="1.9"/>
<circle cx="91.1" cy="225.7" r="1.9"/>
<circle cx="102.9" cy="225.6" r="1.9"/>
<circle cx="313.8" cy="222.7" r="1.9"/>
<circle cx="195.0" cy="225.8" r="1.9"/>
<circle cx="227.5" cy="228.7" r="1.9"/>
<circle cx="98.0" cy="230.1" r="1.9"/>
<circle cx="280.9" cy="224.0" r="1.9"/>
<circle cx="183.8" cy="229.2" r="1.9"/>
<circle cx="185.4" cy="228.2" r="1.9"/>
<circle cx="89.9" cy="225.2" r="1.9"/>
<circle cx="263.5" cy="224.3" r="1.9"/>
<circle cx="210.3" cy="227.2" r="1.9"/>
<circle cx="161.2" cy="224.2" r="1.9"/>
<circle cx="255.6" cy="226.1" r="1.9"/>
<circle cx="290.2" cy="227.5" r="1.9"/>
<circle cx="111.0" cy="229.1" r="1.9"/>
<circle cx="111.0" cy="228.0" r="1.9"/>
<circle cx="249.0" cy="229.0" r="1.9"/>
<circle cx="121.8" cy="228.5" r="1.9"/>
<circle cx="179.4" cy="222.8" r="1.9"/>
<circle cx="167.2" cy="226.8" r="1.9"/>
<circle cx="86.9" cy="226.6" r="1.9"/>
<circle cx="94.8" cy="226.7" r="1.9"/>
<circle cx="253.7" cy="228.1" r="1.9"/>
<circle cx="315.1" cy="226.6" r="1.9"/>
<circle cx="214.1" cy="229.5" r="1.9"/>
<circle cx="131.8" cy="224.8" r="1.9"/>
<circle cx="100.6" cy="224.6" r="1.9"/>
<circle cx="82.2" cy="225.6" r="1.9"/>
<circle cx="254.2" cy="227.8" r="1.9"/>
<circle cx="175.3" cy="225.8" r="1.9"/>
<circle cx="207.1" cy="228.2" r="1.9"/>
<circle cx="182.5" cy="226.4" r="1.9"/>
<circle cx="307.2" cy="227.5" r="1.9"/>
<circle cx="75.8" cy="226.0" r="1.9"/>
<circle cx="221.3" cy="224.7" r="1.9"/>
<circle cx="279.8" cy="226.0" r="1.9"/>
<circle cx="143.6" cy="226.1" r="1.9"/>
<circle cx="303.2" cy="225.6" r="1.9"/>
<circle cx="302.5" cy="225.6" r="1.9"/>
<circle cx="216.3" cy="225.5" r="1.9"/>
<circle cx="206.5" cy="224.7" r="1.9"/>
<circle cx="139.8" cy="228.4" r="1.9"/>
<circle cx="222.8" cy="225.5" r="1.9"/>
<circle cx="79.8" cy="229.1" r="1.9"/>
<circle cx="213.6" cy="224.4" r="1.9"/>
<circle cx="166.7" cy="225.9" r="1.9"/>
<circle cx="142.4" cy="228.4" r="1.9"/>
<circle cx="219.7" cy="224.7" r="1.9"/>
<circle cx="211.8" cy="226.4" r="1.9"/>
<circle cx="53.5" cy="226.4" r="1.9"/>
<circle cx="122.6" cy="225.5" r="1.9"/>
<circle cx="125.9" cy="221.7" r="1.9"/>
<circle cx="54.8" cy="226.4" r="1.9"/>
<circle cx="105.0" cy="226.1" r="1.9"/>
<circle cx="109.9" cy="225.1" r="1.9"/>
<circle cx="165.6" cy="229.6" r="1.9"/>
<circle cx="301.8" cy="228.9" r="1.9"/>
<circle cx="255.4" cy="228.0" r="1.9"/>
<circle cx="248.7" cy="228.6" r="1.9"/>
<circle cx="161.7" cy="224.3" r="1.9"/>
<circle cx="208.4" cy="224.3" r="1.9"/>
<circle cx="59.2" cy="227.2" r="1.9"/>
<circle cx="136.5" cy="226.5" r="1.9"/>
<circle cx="79.0" cy="226.9" r="1.9"/>
<circle cx="228.6" cy="227.1" r="1.9"/>
<circle cx="145.3" cy="228.2" r="1.9"/>
<circle cx="158.2" cy="225.9" r="1.9"/>
<circle cx="111.1" cy="231.2" r="1.9"/>
<circle cx="93.2" cy="225.2" r="1.9"/>
</g>
<g fill="#5db994">
<circle cx="260.9" cy="224.3" r="1.9"/>
<circle cx="190.6" cy="224.0" r="1.9"/>
<circle cx="258.1" cy="222.2" r="1.9"/>
<circle cx="169.6" cy="224.9" r="1.9"/>
<circle cx="209.5" cy="225.2" r="1.9"/>
<circle cx="278.5" cy="228.1" r="1.9"/>
<circle cx="181.6" cy="225.9" r="1.9"/>
<circle cx="182.6" cy="225.1" r="1.9"/>
<circle cx="274.5" cy="224.3" r="1.9"/>
<circle cx="201.2" cy="229.1" r="1.9"/>
<circle cx="138.1" cy="223.1" r="1.9"/>
<circle cx="133.5" cy="226.8" r="1.9"/>
<circle cx="100.0" cy="228.2" r="1.9"/>
<circle cx="313.5" cy="226.3" r="1.9"/>
<circle cx="134.0" cy="226.5" r="1.9"/>
<circle cx="91.3" cy="224.3" r="1.9"/>
<circle cx="303.2" cy="230.1" r="1.9"/>
<circle cx="297.4" cy="221.8" r="1.9"/>
<circle cx="88.8" cy="226.6" r="1.9"/>
<circle cx="205.6" cy="223.4" r="1.9"/>
<circle cx="237.2" cy="229.3" r="1.9"/>
<circle cx="76.5" cy="226.5" r="1.9"/>
<circle cx="283.0" cy="224.7" r="1.9"/>
<circle cx="70.7" cy="224.6" r="1.9"/>
<circle cx="222.2" cy="228.5" r="1.9"/>
<circle cx="106.3" cy="228.2" r="1.9"/>
<circle cx="123.2" cy="222.5" r="1.9"/>
<circle cx="254.3" cy="229.8" r="1.9"/>
<circle cx="170.8" cy="228.0" r="1.9"/>
<circle cx="304.9" cy="224.9" r="1.9"/>
<circle cx="249.0" cy="228.4" r="1.9"/>
<circle cx="209.7" cy="229.1" r="1.9"/>
<circle cx="142.9" cy="229.3" r="1.9"/>
<circle cx="266.6" cy="223.1" r="1.9"/>
<circle cx="167.8" cy="227.4" r="1.9"/>
<circle cx="106.5" cy="226.6" r="1.9"/>
<circle cx="282.9" cy="227.9" r="1.9"/>
<circle cx="304.5" cy="227.2" r="1.9"/>
<circle cx="221.2" cy="227.3" r="1.9"/>
<circle cx="92.7" cy="224.6" r="1.9"/>
<circle cx="175.5" cy="226.8" r="1.9"/>
<circle cx="108.0" cy="224.5" r="1.9"/>
<circle cx="308.3" cy="226.8" r="1.9"/>
<circle cx="105.7" cy="222.7" r="1.9"/>
<circle cx="293.0" cy="227.4" r="1.9"/>
<circle cx="111.0" cy="222.7" r="1.9"/>
<circle cx="177.4" cy="224.9" r="1.9"/>
<circle cx="91.9" cy="226.1" r="1.9"/>
<circle cx="196.9" cy="225.2" r="1.9"/>
<circle cx="289.0" cy="227.1" r="1.9"/>
<circle cx="180.7" cy="226.1" r="1.9"/>
<circle cx="252.4" cy="228.4" r="1.9"/>
<circle cx="92.3" cy="228.3" r="1.9"/>
<circle cx="311.1" cy="225.2" r="1.9"/>
<circle cx="182.1" cy="226.0" r="1.9"/>
<circle cx="132.8" cy="228.6" r="1.9"/>
<circle cx="133.9" cy="220.3" r="1.9"/>
<circle cx="217.1" cy="227.8" r="1.9"/>
<circle cx="177.4" cy="227.8" r="1.9"/>
<circle cx="145.2" cy="225.7" r="1.9"/>
<circle cx="129.2" cy="228.3" r="1.9"/>
<circle cx="161.3" cy="226.1" r="1.9"/>
<circle cx="196.7" cy="227.2" r="1.9"/>
<circle cx="250.1" cy="228.8" r="1.9"/>
<circle cx="227.6" cy="224.4" r="1.9"/>
<circle cx="230.1" cy="221.8" r="1.9"/>
<circle cx="120.2" cy="227.5" r="1.9"/>
<circle cx="132.6" cy="226.2" r="1.9"/>
<circle cx="186.6" cy="224.2" r="1.9"/>
<circle cx="52.5" cy="229.9" r="1.9"/>
<circle cx="312.8" cy="227.5" r="1.9"/>
<circle cx="297.9" cy="225.6" r="1.9"/>
<circle cx="205.3" cy="226.0" r="1.9"/>
<circle cx="157.2" cy="220.3" r="1.9"/>
<circle cx="67.0" cy="230.1" r="1.9"/>
<circle cx="270.5" cy="221.3" r="1.9"/>
<circle cx="186.3" cy="222.1" r="1.9"/>
<circle cx="303.6" cy="228.1" r="1.9"/>
<circle cx="314.3" cy="224.4" r="1.9"/>
<circle cx="148.3" cy="223.9" r="1.9"/>
<circle cx="196.2" cy="223.3" r="1.9"/>
<circle cx="194.1" cy="230.2" r="1.9"/>
<circle cx="91.2" cy="228.5" r="1.9"/>
<circle cx="91.7" cy="229.3" r="1.9"/>
<circle cx="198.6" cy="223.9" r="1.9"/>
<circle cx="243.2" cy="227.8" r="1.9"/>
<circle cx="161.9" cy="226.7" r="1.9"/>
<circle cx="288.1" cy="229.7" r="1.9"/>
<circle cx="113.5" cy="228.9" r="1.9"/>
<circle cx="163.6" cy="227.9" r="1.9"/>
</g>
<g fill="#1f3272">
<circle cx="326.8" cy="226.5" r="1.9"/>
<circle cx="322.6" cy="228.6" r="1.9"/>
<circle cx="329.0" cy="225.1" r="1.9"/>
<circle cx="320.0" cy="225.3" r="1.9"/>
<circle cx="326.7" cy="225.6" r="1.9"/>
<circle cx="317.5" cy="226.6" r="1.9"/>
<circle cx="319.8" cy="226.9" r="1.9"/>
<circle cx="329.1" cy="227.3" r="1.9"/>
<circle cx="326.0" cy="225.0" r="1.9"/>
<circle cx="323.2" cy="226.5" r="1.9"/>
<circle cx="327.6" cy="226.4" r="1.9"/>
<circle cx="321.0" cy="224.6" r="1.9"/>
<circle cx="323.5" cy="226.0" r="1.9"/>
<circle cx="318.8" cy="224.8" r="1.9"/>
<circle cx="322.3" cy="225.6" r="1.9"/>
<circle cx="316.5" cy="225.3" r="1.9"/>
<circle cx="325.4" cy="227.5" r="1.9"/>
<circle cx="329.9" cy="227.1" r="1.9"/>
<circle cx="319.9" cy="225.1" r="1.9"/>
<circle cx="321.9" cy="224.6" r="1.9"/>
<circle cx="317.4" cy="226.5" r="1.9"/>
<circle cx="329.9" cy="226.3" r="1.9"/>
<circle cx="321.7" cy="225.4" r="1.9"/>
<circle cx="325.5" cy="224.8" r="1.9"/>
<circle cx="324.1" cy="225.4" r="1.9"/>
<circle cx="318.2" cy="226.2" r="1.9"/>
<circle cx="323.0" cy="227.9" r="1.9"/>
<circle cx="324.3" cy="228.0" r="1.9"/>
</g>
<g fill="#87cdee">
<circle cx="335.1" cy="225.8" r="1.9"/>
<circle cx="330.2" cy="224.4" r="1.9"/>
<circle cx="333.2" cy="225.0" r="1.9"/>
<circle cx="331.7" cy="222.8" r="1.9"/>
<circle cx="329.5" cy="223.8" r="1.9"/>
<circle cx="328.8" cy="226.2" r="1.9"/>
<circle cx="335.8" cy="224.4" r="1.9"/>
<circle cx="334.5" cy="224.2" r="1.9"/>
<circle cx="335.3" cy="227.3" r="1.9"/>
<circle cx="328.4" cy="226.7" r="1.9"/>
<circle cx="328.8" cy="224.1" r="1.9"/>
<circle cx="336.7" cy="229.3" r="1.9"/>
<circle cx="330.8" cy="226.9" r="1.9"/>
<circle cx="331.4" cy="230.1" r="1.9"/>
<circle cx="333.6" cy="224.7" r="1.9"/>
<circle cx="331.8" cy="224.2" r="1.9"/>
<circle cx="328.4" cy="225.1" r="1.9"/>
<circle cx="335.0" cy="227.0" r="1.9"/>
<circle cx="330.2" cy="228.7" r="1.9"/>
<circle cx="332.9" cy="223.9" r="1.9"/>
<circle cx="331.6" cy="224.1" r="1.9"/>
<circle cx="330.9" cy="220.1" r="1.9"/>
<circle cx="334.6" cy="228.6" r="1.9"/>
<circle cx="331.2" cy="221.9" r="1.9"/>
<circle cx="334.6" cy="226.1" r="1.9"/>
<circle cx="333.9" cy="227.6" r="1.9"/>
<circle cx="333.7" cy="224.7" r="1.9"/>
<circle cx="331.1" cy="223.3" r="1.9"/>
<circle cx="328.3" cy="229.1" r="1.9"/>
<circle cx="335.2" cy="224.6" r="1.9"/>
<circle cx="331.1" cy="220.8" r="1.9"/>
<circle cx="332.4" cy="226.3" r="1.9"/>
<circle cx="440.1" cy="226.5" r="1.9"/>
<circle cx="642.7" cy="225.6" r="1.9"/>
<circle cx="634.6" cy="223.8" r="1.9"/>
<circle cx="427.6" cy="226.9" r="1.9"/>
<circle cx="589.7" cy="225.5" r="1.9"/>
<circle cx="479.1" cy="226.7" r="1.9"/>
<circle cx="641.3" cy="224.7" r="1.9"/>
<circle cx="530.7" cy="226.7" r="1.9"/>
<circle cx="644.8" cy="223.8" r="1.9"/>
<circle cx="669.2" cy="226.9" r="1.9"/>
<circle cx="496.1" cy="225.8" r="1.9"/>
<circle cx="416.1" cy="226.2" r="1.9"/>
<circle cx="479.6" cy="224.6" r="1.9"/>
<circle cx="443.0" cy="223.1" r="1.9"/>
<circle cx="468.2" cy="227.4" r="1.9"/>
<circle cx="450.7" cy="230.3" r="1.9"/>
<circle cx="418.2" cy="223.5" r="1.9"/>
<circle cx="530.9" cy="224.8" r="1.9"/>
<circle cx="451.8" cy="219.5" r="1.9"/>
<circle cx="387.5" cy="228.7" r="1.9"/>
<circle cx="416.6" cy="227.7" r="1.9"/>
<circle cx="453.6" cy="225.9" r="1.9"/>
<circle cx="492.4" cy="230.0" r="1.9"/>
<circle cx="461.1" cy="227.0" r="1.9"/>
<circle cx="518.7" cy="229.4" r="1.9"/>
<circle cx="449.1" cy="226.3" r="1.9"/>
<circle cx="608.6" cy="227.6" r="1.9"/>
<circle cx="429.3" cy="223.6" r="1.9"/>
<circle cx="666.9" cy="226.2" r="1.9"/>
<circle cx="473.1" cy="222.2" r="1.9"/>
<circle cx="584.0" cy="230.5" r="1.9"/>
<circle cx="490.0" cy="228.1" r="1.9"/>
<circle cx="502.0" cy="221.0" r="1.9"/>
<circle cx="532.7" cy="227.4" r="1.9"/>
<circle cx="412.1" cy="224.9" r="1.9"/>
<circle cx="632.7" cy="225.8" r="1.9"/>
<circle cx="446.9" cy="222.6" r="1.9"/>
<circle cx="465.4" cy="228.9" r="1.9"/>
<circle cx="562.3" cy="225.1" r="1.9"/>
<circle cx="573.4" cy="221.7" r="1.9"/>
<circle cx="422.9" cy="225.5" r="1.9"/>
<circle cx="504.0" cy="225.0" r="1.9"/>
<circle cx="447.5" cy="232.5" r="1.9"/>
<circle cx="575.8" cy="226.2" r="1.9"/>
<circle cx="487.6" cy="225.9" r="1.9"/>
<circle cx="430.7" cy="227.4" r="1.9"/>
<circle cx="619.4" cy="228.1" r="1.9"/>
<circle cx="580.9" cy="226.8" r="1.9"/>
<circle cx="527.1" cy="224.5" r="1.9"/>
<circle cx="402.6" cy="226.3" r="1.9"/>
<circle cx="584.2" cy="225.8" r="1.9"/>
<circle cx="586.6" cy="229.3" r="1.9"/>
<circle cx="574.0" cy="227.3" r="1.9"/>
<circle cx="590.8" cy="224.6" r="1.9"/>
<circle cx="422.1" cy="224.8" r="1.9"/>
<circle cx="577.8" cy="229.2" r="1.9"/>
<circle cx="547.3" cy="226.0" r="1.9"/>
<circle cx="542.5" cy="223.8" r="1.9"/>
<circle cx="621.4" cy="225.4" r="1.9"/>
<circle cx="554.7" cy="225.1" r="1.9"/>
<circle cx="460.6" cy="226.8" r="1.9"/>
<circle cx="387.6" cy="224.8" r="1.9"/>
<circle cx="510.6" cy="227.7" r="1.9"/>
<circle cx="633.1" cy="222.9" r="1.9"/>
<circle cx="474.1" cy="223.9" r="1.9"/>
<circle cx="480.6" cy="223.7" r="1.9"/>
<circle cx="646.8" cy="229.6" r="1.9"/>
<circle cx="429.3" cy="226.5" r="1.9"/>
<circle cx="577.8" cy="224.8" r="1.9"/>
<circle cx="635.3" cy="229.6" r="1.9"/>
<circle cx="557.8" cy="228.9" r="1.9"/>
<circle cx="618.1" cy="225.5" r="1.9"/>
<circle cx="449.0" cy="230.4" r="1.9"/>
<circle cx="560.6" cy="228.8" r="1.9"/>
<circle cx="493.7" cy="223.8" r="1.9"/>
<circle cx="623.6" cy="225.4" r="1.9"/>
<circle cx="464.5" cy="225.9" r="1.9"/>
<circle cx="421.6" cy="221.7" r="1.9"/>
<circle cx="497.9" cy="226.3" r="1.9"/>
<circle cx="516.8" cy="227.6" r="1.9"/>
<circle cx="528.4" cy="229.8" r="1.9"/>
<circle cx="499.3" cy="226.6" r="1.9"/>
<circle cx="483.8" cy="225.6" r="1.9"/>
<circle cx="428.3" cy="222.7" r="1.9"/>
<circle cx="506.3" cy="228.4" r="1.9"/>
<circle cx="611.2" cy="231.6" r="1.9"/>
<circle cx="572.6" cy="226.0" r="1.9"/>
<circle cx="459.5" cy="229.0" r="1.9"/>
<circle cx="567.3" cy="223.8" r="1.9"/>
<circle cx="474.6" cy="226.2" r="1.9"/>
<circle cx="636.0" cy="224.7" r="1.9"/>
<circle cx="543.1" cy="229.9" r="1.9"/>
<circle cx="586.2" cy="227.7" r="1.9"/>
<circle cx="611.0" cy="229.0" r="1.9"/>
<circle cx="619.4" cy="222.8" r="1.9"/>
<circle cx="437.8" cy="227.3" r="1.9"/>
<circle cx="428.3" cy="228.3" r="1.9"/>
<circle cx="447.1" cy="230.3" r="1.9"/>
<circle cx="495.5" cy="226.9" r="1.9"/>
<circle cx="429.8" cy="227.2" r="1.9"/>
<circle cx="510.5" cy="221.6" r="1.9"/>
<circle cx="667.3" cy="225.9" r="1.9"/>
<circle cx="511.8" cy="228.5" r="1.9"/>
<circle cx="539.0" cy="223.9" r="1.9"/>
<circle cx="629.5" cy="229.2" r="1.9"/>
<circle cx="655.5" cy="225.7" r="1.9"/>
<circle cx="571.0" cy="224.2" r="1.9"/>
<circle cx="667.5" cy="227.9" r="1.9"/>
<circle cx="583.5" cy="227.7" r="1.9"/>
<circle cx="400.4" cy="228.4" r="1.9"/>
<circle cx="440.3" cy="226.5" r="1.9"/>
<circle cx="459.2" cy="227.7" r="1.9"/>
<circle cx="455.6" cy="225.2" r="1.9"/>
<circle cx="453.4" cy="228.4" r="1.9"/>
<circle cx="416.1" cy="226.0" r="1.9"/>
<circle cx="600.4" cy="226.3" r="1.9"/>
<circle cx="585.2" cy="227.4" r="1.9"/>
<circle cx="484.7" cy="219.5" r="1.9"/>
<circle cx="602.5" cy="221.5" r="1.9"/>
<circle cx="447.9" cy="228.8" r="1.9"/>
<circle cx="404.1" cy="228.6" r="1.9"/>
<circle cx="579.3" cy="225.1" r="1.9"/>
<circle cx="462.6" cy="228.4" r="1.9"/>
<circle cx="444.2" cy="221.6" r="1.9"/>
<circle cx="545.3" cy="223.1" r="1.9"/>
<circle cx="671.6" cy="226.7" r="1.9"/>
<circle cx="406.2" cy="222.8" r="1.9"/>
<circle cx="386.9" cy="229.5" r="1.9"/>
<circle cx="566.3" cy="227.4" r="1.9"/>
<circle cx="636.7" cy="223.8" r="1.9"/>
<circle cx="589.7" cy="225.8" r="1.9"/>
<circle cx="573.5" cy="224.5" r="1.9"/>
<circle cx="389.4" cy="224.1" r="1.9"/>
<circle cx="480.6" cy="226.7" r="1.9"/>
<circle cx="397.1" cy="226.6" r="1.9"/>
<circle cx="471.7" cy="226.3" r="1.9"/>
<circle cx="416.5" cy="225.9" r="1.9"/>
<circle cx="390.3" cy="225.1" r="1.9"/>
<circle cx="587.4" cy="223.6" r="1.9"/>
<circle cx="642.6" cy="223.8" r="1.9"/>
<circle cx="534.6" cy="224.1" r="1.9"/>
<circle cx="413.9" cy="231.7" r="1.9"/>
<circle cx="493.2" cy="226.8" r="1.9"/>
<circle cx="497.0" cy="228.5" r="1.9"/>
<circle cx="624.9" cy="223.1" r="1.9"/>
<circle cx="636.4" cy="224.3" r="1.9"/>
<circle cx="427.5" cy="223.6" r="1.9"/>
<circle cx="427.3" cy="228.0" r="1.9"/>
<circle cx="506.4" cy="230.5" r="1.9"/>
<circle cx="418.6" cy="224.2" r="1.9"/>
<circle cx="503.7" cy="228.4" r="1.9"/>
<circle cx="647.2" cy="226.5" r="1.9"/>
<circle cx="589.0" cy="230.8" r="1.9"/>
<circle cx="500.5" cy="228.0" r="1.9"/>
<circle cx="618.1" cy="223.3" r="1.9"/>
<circle cx="387.6" cy="229.1" r="1.9"/>
<circle cx="529.1" cy="223.3" r="1.9"/>
<circle cx="558.3" cy="222.8" r="1.9"/>
<circle cx="422.7" cy="227.0" r="1.9"/>
<circle cx="552.9" cy="223.8" r="1.9"/>
<circle cx="626.5" cy="229.6" r="1.9"/>
<circle cx="540.5" cy="227.1" r="1.9"/>
<circle cx="471.5" cy="227.0" r="1.9"/>
<circle cx="401.6" cy="226.4" r="1.9"/>
<circle cx="553.4" cy="225.7" r="1.9"/>
<circle cx="466.9" cy="224.2" r="1.9"/>
<circle cx="389.2" cy="224.0" r="1.9"/>
<circle cx="568.2" cy="226.6" r="1.9"/>
<circle cx="410.3" cy="223.9" r="1.9"/>
<circle cx="416.3" cy="225.8" r="1.9"/>
<circle cx="591.7" cy="224.3" r="1.9"/>
<circle cx="555.6" cy="227.7" r="1.9"/>
<circle cx="670.2" cy="227.7" r="1.9"/>
<circle cx="422.1" cy="225.4" r="1.9"/>
<circle cx="617.8" cy="225.1" r="1.9"/>
<circle cx="487.5" cy="225.7" r="1.9"/>
<circle cx="498.8" cy="227.5" r="1.9"/>
<circle cx="574.6" cy="229.0" r="1.9"/>
<circle cx="436.5" cy="224.2" r="1.9"/>
<circle cx="395.5" cy="223.8" r="1.9"/>
<circle cx="660.8" cy="223.3" r="1.9"/>
<circle cx="491.6" cy="228.2" r="1.9"/>
<circle cx="499.7" cy="223.5" r="1.9"/>
<circle cx="496.3" cy="224.8" r="1.9"/>
<circle cx="662.8" cy="227.2" r="1.9"/>
<circle cx="393.6" cy="219.5" r="1.9"/>
<circle cx="452.8" cy="225.8" r="1.9"/>
<circle cx="624.7" cy="222.4" r="1.9"/>
<circle cx="641.7" cy="224.0" r="1.9"/>
<circle cx="668.3" cy="226.5" r="1.9"/>
<circle cx="627.9" cy="225.3" r="1.9"/>
<circle cx="641.7" cy="224.8" r="1.9"/>
<circle cx="521.7" cy="227.9" r="1.9"/>
<circle cx="590.9" cy="223.9" r="1.9"/>
<circle cx="667.0" cy="228.3" r="1.9"/>
<circle cx="470.8" cy="220.4" r="1.9"/>
<circle cx="442.7" cy="230.9" r="1.9"/>
<circle cx="493.2" cy="223.3" r="1.9"/>
<circle cx="510.8" cy="223.3" r="1.9"/>
<circle cx="661.5" cy="223.0" r="1.9"/>
<circle cx="499.9" cy="226.2" r="1.9"/>
<circle cx="588.8" cy="229.1" r="1.9"/>
<circle cx="454.4" cy="224.6" r="1.9"/>
<circle cx="549.4" cy="231.9" r="1.9"/>
<circle cx="640.1" cy="229.2" r="1.9"/>
<circle cx="565.3" cy="229.1" r="1.9"/>
<circle cx="542.4" cy="226.5" r="1.9"/>
<circle cx="460.1" cy="224.8" r="1.9"/>
<circle cx="429.6" cy="231.6" r="1.9"/>
<circle cx="556.8" cy="229.5" r="1.9"/>
<circle cx="618.6" cy="224.1" r="1.9"/>
<circle cx="530.0" cy="225.2" r="1.9"/>
<circle cx="479.7" cy="224.6" r="1.9"/>
<circle cx="575.1" cy="220.9" r="1.9"/>
<circle cx="608.6" cy="223.6" r="1.9"/>
<circle cx="649.8" cy="226.9" r="1.9"/>
<circle cx="617.6" cy="226.0" r="1.9"/>
<circle cx="443.8" cy="229.5" r="1.9"/>
<circle cx="526.0" cy="223.2" r="1.9"/>
<circle cx="522.8" cy="230.8" r="1.9"/>
<circle cx="566.2" cy="228.8" r="1.9"/>
<circle cx="512.3" cy="231.4" r="1.9"/>
<circle cx="514.2" cy="228.6" r="1.9"/>
<circle cx="529.2" cy="226.3" r="1.9"/>
<circle cx="503.0" cy="228.3" r="1.9"/>
<circle cx="452.0" cy="222.8" r="1.9"/>
<circle cx="565.8" cy="225.3" r="1.9"/>
<circle cx="476.7" cy="226.4" r="1.9"/>
<circle cx="441.7" cy="225.8" r="1.9"/>
<circle cx="627.3" cy="226.3" r="1.9"/>
<circle cx="632.0" cy="223.3" r="1.9"/>
<circle cx="625.7" cy="226.2" r="1.9"/>
<circle cx="551.3" cy="228.3" r="1.9"/>
<circle cx="501.7" cy="226.2" r="1.9"/>
<circle cx="527.9" cy="224.9" r="1.9"/>
<circle cx="500.3" cy="225.8" r="1.9"/>
<circle cx="527.4" cy="223.5" r="1.9"/>
<circle cx="416.6" cy="227.1" r="1.9"/>
<circle cx="635.6" cy="229.9" r="1.9"/>
<circle cx="558.6" cy="225.7" r="1.9"/>
<circle cx="575.9" cy="225.1" r="1.9"/>
<circle cx="642.6" cy="231.1" r="1.9"/>
<circle cx="484.9" cy="224.9" r="1.9"/>
<circle cx="479.2" cy="226.2" r="1.9"/>
<circle cx="652.2" cy="221.4" r="1.9"/>
<circle cx="507.8" cy="223.9" r="1.9"/>
<circle cx="563.8" cy="222.8" r="1.9"/>
<circle cx="587.4" cy="226.4" r="1.9"/>
<circle cx="425.9" cy="225.1" r="1.9"/>
<circle cx="392.0" cy="222.5" r="1.9"/>
<circle cx="615.1" cy="226.2" r="1.9"/>
<circle cx="599.2" cy="228.2" r="1.9"/>
<circle cx="561.2" cy="228.6" r="1.9"/>
<circle cx="454.7" cy="229.2" r="1.9"/>
<circle cx="659.0" cy="227.4" r="1.9"/>
<circle cx="654.3" cy="228.1" r="1.9"/>
<circle cx="536.1" cy="226.2" r="1.9"/>
<circle cx="430.3" cy="225.3" r="1.9"/>
<circle cx="498.2" cy="221.0" r="1.9"/>
<circle cx="477.7" cy="224.4" r="1.9"/>
<circle cx="428.2" cy="227.3" r="1.9"/>
<circle cx="551.3" cy="227.5" r="1.9"/>
<circle cx="630.4" cy="222.3" r="1.9"/>
<circle cx="620.9" cy="227.0" r="1.9"/>
<circle cx="445.9" cy="229.9" r="1.9"/>
<circle cx="644.7" cy="224.4" r="1.9"/>
<circle cx="634.5" cy="226.5" r="1.9"/>
<circle cx="607.2" cy="225.1" r="1.9"/>
<circle cx="666.6" cy="227.0" r="1.9"/>
<circle cx="581.5" cy="227.1" r="1.9"/>
<circle cx="462.9" cy="226.0" r="1.9"/>
<circle cx="561.2" cy="228.9" r="1.9"/>
<circle cx="640.9" cy="226.2" r="1.9"/>
<circle cx="441.5" cy="229.6" r="1.9"/>
<circle cx="605.2" cy="225.6" r="1.9"/>
<circle cx="649.8" cy="227.0" r="1.9"/>
<circle cx="616.9" cy="223.6" r="1.9"/>
<circle cx="484.2" cy="225.4" r="1.9"/>
<circle cx="429.9" cy="229.4" r="1.9"/>
<circle cx="646.6" cy="227.7" r="1.9"/>
<circle cx="407.2" cy="226.1" r="1.9"/>
<circle cx="564.5" cy="229.4" r="1.9"/>
<circle cx="392.0" cy="225.1" r="1.9"/>
<circle cx="590.1" cy="227.4" r="1.9"/>
<circle cx="537.2" cy="225.6" r="1.9"/>
<circle cx="402.4" cy="224.9" r="1.9"/>
<circle cx="464.8" cy="225.9" r="1.9"/>
<circle cx="511.9" cy="224.4" r="1.9"/>
<circle cx="633.6" cy="224.3" r="1.9"/>
<circle cx="563.5" cy="224.0" r="1.9"/>
<circle cx="655.4" cy="223.2" r="1.9"/>
<circle cx="457.4" cy="226.9" r="1.9"/>
<circle cx="497.6" cy="226.4" r="1.9"/>
<circle cx="531.2" cy="229.5" r="1.9"/>
<circle cx="670.3" cy="223.8" r="1.9"/>
<circle cx="492.1" cy="226.3" r="1.9"/>
<circle cx="544.6" cy="225.8" r="1.9"/>
<circle cx="574.4" cy="225.0" r="1.9"/>
<circle cx="502.0" cy="227.4" r="1.9"/>
<circle cx="466.4" cy="227.5" r="1.9"/>
<circle cx="560.5" cy="225.0" r="1.9"/>
<circle cx="568.7" cy="225.0" r="1.9"/>
<circle cx="502.9" cy="226.5" r="1.9"/>
<circle cx="491.5" cy="226.0" r="1.9"/>
<circle cx="506.8" cy="232.5" r="1.9"/>
<circle cx="585.4" cy="227.0" r="1.9"/>
<circle cx="408.8" cy="227.6" r="1.9"/>
<circle cx="441.8" cy="225.8" r="1.9"/>
<circle cx="550.2" cy="230.3" r="1.9"/>
<circle cx="489.0" cy="222.5" r="1.9"/>
<circle cx="448.5" cy="225.6" r="1.9"/>
<circle cx="603.4" cy="227.1" r="1.9"/>
<circle cx="574.7" cy="223.1" r="1.9"/>
<circle cx="655.4" cy="224.6" r="1.9"/>
<circle cx="478.6" cy="219.5" r="1.9"/>
<circle cx="393.8" cy="231.9" r="1.9"/>
<circle cx="546.3" cy="226.2" r="1.9"/>
<circle cx="399.3" cy="226.7" r="1.9"/>
<circle cx="609.9" cy="227.3" r="1.9"/>
<circle cx="511.1" cy="224.9" r="1.9"/>
<circle cx="537.5" cy="226.8" r="1.9"/>
<circle cx="582.8" cy="226.2" r="1.9"/>
<circle cx="427.3" cy="222.2" r="1.9"/>
<circle cx="402.4" cy="225.3" r="1.9"/>
<circle cx="572.8" cy="226.1" r="1.9"/>
<circle cx="477.2" cy="226.7" r="1.9"/>
<circle cx="564.4" cy="225.5" r="1.9"/>
<circle cx="460.4" cy="228.5" r="1.9"/>
<circle cx="435.6" cy="227.0" r="1.9"/>
<circle cx="603.1" cy="223.7" r="1.9"/>
<circle cx="555.8" cy="224.7" r="1.9"/>
<circle cx="438.3" cy="224.1" r="1.9"/>
<circle cx="577.9" cy="222.8" r="1.9"/>
<circle cx="543.9" cy="225.3" r="1.9"/>
<circle cx="449.9" cy="226.2" r="1.9"/>
<circle cx="583.3" cy="225.7" r="1.9"/>
<circle cx="609.9" cy="225.6" r="1.9"/>
<circle cx="549.1" cy="224.1" r="1.9"/>
<circle cx="469.6" cy="225.6" r="1.9"/>
<circle cx="549.2" cy="223.9" r="1.9"/>
<circle cx="407.1" cy="228.0" r="1.9"/>
<circle cx="553.9" cy="223.7" r="1.9"/>
<circle cx="565.8" cy="224.4" r="1.9"/>
<circle cx="610.4" cy="223.8" r="1.9"/>
<circle cx="524.9" cy="229.8" r="1.9"/>
<circle cx="477.6" cy="226.9" r="1.9"/>
<circle cx="584.6" cy="225.1" r="1.9"/>
<circle cx="567.6" cy="229.4" r="1.9"/>
<circle cx="615.5" cy="222.8" r="1.9"/>
<circle cx="538.2" cy="222.9" r="1.9"/>
<circle cx="594.3" cy="226.6" r="1.9"/>
<circle cx="389.5" cy="227.9" r="1.9"/>
<circle cx="484.1" cy="225.6" r="1.9"/>
<circle cx="503.0" cy="223.0" r="1.9"/>
<circle cx="416.9" cy="226.0" r="1.9"/>
<circle cx="471.0" cy="224.7" r="1.9"/>
<circle cx="461.3" cy="230.1" r="1.9"/>
<circle cx="604.8" cy="222.4" r="1.9"/>
<circle cx="456.9" cy="231.5" r="1.9"/>
<circle cx="447.5" cy="224.2" r="1.9"/>
<circle cx="476.1" cy="226.8" r="1.9"/>
<circle cx="389.9" cy="228.3" r="1.9"/>
<circle cx="464.8" cy="220.3" r="1.9"/>
<circle cx="444.5" cy="225.5" r="1.9"/>
<circle cx="568.0" cy="224.5" r="1.9"/>
<circle cx="455.5" cy="228.3" r="1.9"/>
<circle cx="527.7" cy="224.1" r="1.9"/>
<circle cx="482.6" cy="228.1" r="1.9"/>
<circle cx="545.9" cy="224.0" r="1.9"/>
<circle cx="453.8" cy="226.3" r="1.9"/>
<circle cx="559.4" cy="230.3" r="1.9"/>
<circle cx="392.7" cy="229.0" r="1.9"/>
<circle cx="420.9" cy="224.9" r="1.9"/>
<circle cx="491.3" cy="223.6" r="1.9"/>
<circle cx="438.8" cy="224.3" r="1.9"/>
<circle cx="437.4" cy="224.3" r="1.9"/>
<circle cx="394.9" cy="225.8" r="1.9"/>
<circle cx="531.8" cy="227.1" r="1.9"/>
<circle cx="659.6" cy="224.1" r="1.9"/>
<circle cx="632.7" cy="224.0" r="1.9"/>
<circle cx="471.0" cy="224.2" r="1.9"/>
<circle cx="653.3" cy="225.0" r="1.9"/>
<circle cx="610.7" cy="227.1" r="1.9"/>
<circle cx="663.2" cy="229.8" r="1.9"/>
<circle cx="441.1" cy="220.7" r="1.9"/>
<circle cx="582.9" cy="224.4" r="1.9"/>
<circle cx="607.5" cy="226.0" r="1.9"/>
<circle cx="480.7" cy="222.9" r="1.9"/>
<circle cx="412.7" cy="226.8" r="1.9"/>
<circle cx="487.9" cy="222.4" r="1.9"/>
<circle cx="502.1" cy="226.0" r="1.9"/>
<circle cx="616.6" cy="225.3" r="1.9"/>
<circle cx="519.8" cy="226.7" r="1.9"/>
<circle cx="437.4" cy="224.2" r="1.9"/>
<circle cx="406.0" cy="228.2" r="1.9"/>
<circle cx="437.6" cy="223.3" r="1.9"/>
<circle cx="660.5" cy="229.1" r="1.9"/>
<circle cx="558.7" cy="227.8" r="1.9"/>
<circle cx="535.8" cy="220.5" r="1.9"/>
<circle cx="462.8" cy="226.4" r="1.9"/>
<circle cx="502.0" cy="223.4" r="1.9"/>
<circle cx="422.6" cy="224.9" r="1.9"/>
<circle cx="597.5" cy="226.3" r="1.9"/>
<circle cx="421.0" cy="227.3" r="1.9"/>
<circle cx="487.9" cy="228.0" r="1.9"/>
<circle cx="529.8" cy="224.5" r="1.9"/>
<circle cx="527.5" cy="222.1" r="1.9"/>
<circle cx="500.5" cy="223.7" r="1.9"/>
<circle cx="526.0" cy="224.7" r="1.9"/>
<circle cx="615.6" cy="226.1" r="1.9"/>
<circle cx="529.0" cy="227.7" r="1.9"/>
<circle cx="452.4" cy="225.2" r="1.9"/>
<circle cx="652.0" cy="225.3" r="1.9"/>
<circle cx="669.8" cy="226.8" r="1.9"/>
<circle cx="422.9" cy="227.4" r="1.9"/>
<circle cx="419.0" cy="226.9" r="1.9"/>
<circle cx="435.6" cy="228.2" r="1.9"/>
<circle cx="603.0" cy="227.4" r="1.9"/>
<circle cx="600.7" cy="225.1" r="1.9"/>
<circle cx="607.9" cy="225.1" r="1.9"/>
<circle cx="395.3" cy="224.5" r="1.9"/>
<circle cx="666.6" cy="225.5" r="1.9"/>
<circle cx="595.2" cy="224.9" r="1.9"/>
<circle cx="570.9" cy="226.4" r="1.9"/>
<circle cx="650.1" cy="224.0" r="1.9"/>
<circle cx="526.2" cy="223.3" r="1.9"/>
<circle cx="549.0" cy="227.7" r="1.9"/>
<circle cx="402.4" cy="227.8" r="1.9"/>
<circle cx="545.7" cy="224.5" r="1.9"/>
<circle cx="458.8" cy="227.7" r="1.9"/>
<circle cx="664.8" cy="226.4" r="1.9"/>
<circle cx="497.6" cy="226.2" r="1.9"/>
<circle cx="433.7" cy="226.5" r="1.9"/>
<circle cx="426.9" cy="226.4" r="1.9"/>
<circle cx="655.3" cy="225.4" r="1.9"/>
<circle cx="646.8" cy="228.5" r="1.9"/>
<circle cx="625.6" cy="226.1" r="1.9"/>
<circle cx="511.9" cy="227.8" r="1.9"/>
<circle cx="450.7" cy="227.4" r="1.9"/>
<circle cx="416.2" cy="221.6" r="1.9"/>
<circle cx="648.3" cy="228.4" r="1.9"/>
<circle cx="402.9" cy="225.5" r="1.9"/>
<circle cx="576.0" cy="221.2" r="1.9"/>
<circle cx="411.9" cy="226.8" r="1.9"/>
<circle cx="505.1" cy="226.0" r="1.9"/>
<circle cx="553.4" cy="231.3" r="1.9"/>
<circle cx="482.4" cy="224.2" r="1.9"/>
<circle cx="560.5" cy="225.1" r="1.9"/>
<circle cx="594.1" cy="220.0" r="1.9"/>
<circle cx="478.0" cy="225.3" r="1.9"/>
<circle cx="415.1" cy="223.3" r="1.9"/>
<circle cx="627.5" cy="227.7" r="1.9"/>
<circle cx="419.0" cy="224.7" r="1.9"/>
<circle cx="538.4" cy="225.5" r="1.9"/>
<circle cx="644.2" cy="224.2" r="1.9"/>
<circle cx="512.5" cy="225.8" r="1.9"/>
<circle cx="468.0" cy="225.5" r="1.9"/>
<circle cx="553.4" cy="224.5" r="1.9"/>
<circle cx="421.2" cy="226.5" r="1.9"/>
<circle cx="620.4" cy="228.0" r="1.9"/>
<circle cx="500.1" cy="223.7" r="1.9"/>
<circle cx="644.9" cy="226.4" r="1.9"/>
<circle cx="622.6" cy="225.1" r="1.9"/>
<circle cx="580.8" cy="224.9" r="1.9"/>
<circle cx="667.5" cy="226.6" r="1.9"/>
<circle cx="672.6" cy="224.9" r="1.9"/>
<circle cx="531.7" cy="225.0" r="1.9"/>
<circle cx="668.6" cy="225.3" r="1.9"/>
<circle cx="383.7" cy="225.4" r="1.9"/>
<circle cx="662.0" cy="223.6" r="1.9"/>
<circle cx="444.4" cy="227.3" r="1.9"/>
<circle cx="556.5" cy="223.4" r="1.9"/>
<circle cx="622.2" cy="226.8" r="1.9"/>
<circle cx="585.5" cy="222.6" r="1.9"/>
<circle cx="549.1" cy="228.9" r="1.9"/>
<circle cx="621.4" cy="226.4" r="1.9"/>
<circle cx="438.9" cy="223.1" r="1.9"/>
<circle cx="514.8" cy="226.2" r="1.9"/>
<circle cx="457.3" cy="226.7" r="1.9"/>
<circle cx="609.9" cy="225.1" r="1.9"/>
<circle cx="588.7" cy="225.9" r="1.9"/>
<circle cx="464.8" cy="220.3" r="1.9"/>
<circle cx="559.9" cy="226.4" r="1.9"/>
<circle cx="560.6" cy="230.0" r="1.9"/>
<circle cx="549.6" cy="224.8" r="1.9"/>
<circle cx="454.8" cy="224.3" r="1.9"/>
<circle cx="634.0" cy="228.7" r="1.9"/>
<circle cx="435.1" cy="225.3" r="1.9"/>
<circle cx="543.3" cy="228.2" r="1.9"/>
<circle cx="422.4" cy="226.4" r="1.9"/>
<circle cx="642.3" cy="225.3" r="1.9"/>
<circle cx="388.4" cy="226.1" r="1.9"/>
<circle cx="625.6" cy="226.8" r="1.9"/>
<circle cx="420.4" cy="226.1" r="1.9"/>
<circle cx="620.7" cy="230.0" r="1.9"/>
<circle cx="613.3" cy="221.6" r="1.9"/>
<circle cx="571.2" cy="224.1" r="1.9"/>
<circle cx="421.8" cy="225.5" r="1.9"/>
<circle cx="512.1" cy="226.8" r="1.9"/>
<circle cx="542.9" cy="227.8" r="1.9"/>
<circle cx="500.1" cy="226.3" r="1.9"/>
<circle cx="558.8" cy="225.1" r="1.9"/>
<circle cx="633.6" cy="229.4" r="1.9"/>
<circle cx="547.5" cy="224.1" r="1.9"/>
<circle cx="427.1" cy="223.8" r="1.9"/>
<circle cx="539.1" cy="230.0" r="1.9"/>
<circle cx="435.2" cy="228.2" r="1.9"/>
<circle cx="475.0" cy="225.1" r="1.9"/>
<circle cx="600.0" cy="225.8" r="1.9"/>
<circle cx="482.6" cy="227.2" r="1.9"/>
<circle cx="650.9" cy="222.8" r="1.9"/>
<circle cx="481.5" cy="226.9" r="1.9"/>
<circle cx="588.6" cy="227.6" r="1.9"/>
<circle cx="485.4" cy="227.2" r="1.9"/>
<circle cx="581.3" cy="224.2" r="1.9"/>
<circle cx="513.3" cy="228.3" r="1.9"/>
<circle cx="639.6" cy="226.6" r="1.9"/>
<circle cx="584.2" cy="224.1" r="1.9"/>
<circle cx="394.4" cy="227.0" r="1.9"/>
<circle cx="502.0" cy="223.4" r="1.9"/>
<circle cx="421.7" cy="226.0" r="1.9"/>
<circle cx="568.8" cy="229.5" r="1.9"/>
<circle cx="652.9" cy="226.3" r="1.9"/>
<circle cx="601.7" cy="226.1" r="1.9"/>
<circle cx="492.5" cy="227.0" r="1.9"/>
<circle cx="663.8" cy="225.1" r="1.9"/>
<circle cx="384.4" cy="226.9" r="1.9"/>
<circle cx="471.2" cy="224.6" r="1.9"/>
<circle cx="651.0" cy="228.4" r="1.9"/>
<circle cx="581.5" cy="226.5" r="1.9"/>
<circle cx="420.5" cy="223.3" r="1.9"/>
<circle cx="661.5" cy="224.0" r="1.9"/>
<circle cx="589.4" cy="229.5" r="1.9"/>
<circle cx="385.6" cy="225.3" r="1.9"/>
<circle cx="590.0" cy="227.0" r="1.9"/>
<circle cx="571.1" cy="224.0" r="1.9"/>
<circle cx="648.5" cy="225.0" r="1.9"/>
<circle cx="476.3" cy="226.2" r="1.9"/>
<circle cx="572.9" cy="224.5" r="1.9"/>
<circle cx="551.2" cy="224.0" r="1.9"/>
<circle cx="524.1" cy="229.9" r="1.9"/>
<circle cx="622.5" cy="220.5" r="1.9"/>
<circle cx="502.9" cy="222.4" r="1.9"/>
<circle cx="649.6" cy="225.8" r="1.9"/>
<circle cx="661.0" cy="226.3" r="1.9"/>
<circle cx="499.4" cy="227.6" r="1.9"/>
<circle cx="399.4" cy="224.1" r="1.9"/>
<circle cx="556.2" cy="225.7" r="1.9"/>
<circle cx="603.5" cy="223.1" r="1.9"/>
<circle cx="519.6" cy="224.5" r="1.9"/>
<circle cx="631.5" cy="225.2" r="1.9"/>
<circle cx="437.0" cy="226.6" r="1.9"/>
<circle cx="630.5" cy="227.1" r="1.9"/>
<circle cx="450.0" cy="223.6" r="1.9"/>
<circle cx="596.9" cy="227.1" r="1.9"/>
<circle cx="551.8" cy="225.9" r="1.9"/>
<circle cx="495.3" cy="226.1" r="1.9"/>
<circle cx="478.8" cy="220.4" r="1.9"/>
<circle cx="619.6" cy="228.5" r="1.9"/>
<circle cx="553.9" cy="229.2" r="1.9"/>
<circle cx="56.1" cy="348.6" r="1.9"/>
<circle cx="61.3" cy="345.7" r="1.9"/>
<circle cx="51.0" cy="346.7" r="1.9"/>
<circle cx="61.5" cy="349.0" r="1.9"/>
<circle cx="56.9" cy="349.3" r="1.9"/>
<circle cx="51.8" cy="347.7" r="1.9"/>
<circle cx="60.6" cy="345.8" r="1.9"/>
<circle cx="54.8" cy="351.6" r="1.9"/>
<circle cx="61.4" cy="345.9" r="1.9"/>
<circle cx="53.6" cy="348.9" r="1.9"/>
</g>
<g fill="#1f3272">
<circle cx="65.1" cy="346.6" r="1.9"/>
<circle cx="68.2" cy="345.7" r="1.9"/>
<circle cx="75.5" cy="345.8" r="1.9"/>
<circle cx="69.4" cy="342.9" r="1.9"/>
<circle cx="75.6" cy="348.0" r="1.9"/>
<circle cx="75.2" cy="345.0" r="1.9"/>
<circle cx="75.8" cy="345.7" r="1.9"/>
<circle cx="68.9" cy="343.3" r="1.9"/>
<circle cx="65.0" cy="348.2" r="1.9"/>
<circle cx="65.8" cy="345.7" r="1.9"/>
<circle cx="68.1" cy="343.1" r="1.9"/>
<circle cx="69.1" cy="347.9" r="1.9"/>
<circle cx="72.2" cy="347.0" r="1.9"/>
<circle cx="67.1" cy="344.0" r="1.9"/>
<circle cx="72.6" cy="346.4" r="1.9"/>
<circle cx="67.8" cy="346.0" r="1.9"/>
<circle cx="69.2" cy="346.2" r="1.9"/>
<circle cx="66.5" cy="348.4" r="1.9"/>
<circle cx="71.7" cy="346.2" r="1.9"/>
<circle cx="69.3" cy="347.3" r="1.9"/>
<circle cx="67.9" cy="345.2" r="1.9"/>
<circle cx="73.5" cy="347.9" r="1.9"/>
</g>
<g fill="#5db994">
<circle cx="260.9" cy="344.2" r="1.9"/>
<circle cx="228.8" cy="349.5" r="1.9"/>
<circle cx="212.9" cy="346.9" r="1.9"/>
<circle cx="254.9" cy="345.5" r="1.9"/>
<circle cx="290.5" cy="348.9" r="1.9"/>
<circle cx="216.7" cy="347.7" r="1.9"/>
<circle cx="198.2" cy="348.9" r="1.9"/>
<circle cx="161.1" cy="349.3" r="1.9"/>
<circle cx="180.8" cy="348.5" r="1.9"/>
<circle cx="188.7" cy="347.7" r="1.9"/>
<circle cx="240.6" cy="346.6" r="1.9"/>
<circle cx="258.9" cy="344.5" r="1.9"/>
<circle cx="222.7" cy="343.3" r="1.9"/>
<circle cx="164.5" cy="346.1" r="1.9"/>
<circle cx="286.8" cy="345.6" r="1.9"/>
<circle cx="217.4" cy="346.7" r="1.9"/>
<circle cx="247.3" cy="349.0" r="1.9"/>
<circle cx="203.2" cy="344.6" r="1.9"/>
<circle cx="226.1" cy="348.4" r="1.9"/>
<circle cx="164.2" cy="351.9" r="1.9"/>
<circle cx="205.2" cy="348.0" r="1.9"/>
<circle cx="230.1" cy="345.5" r="1.9"/>
<circle cx="164.2" cy="350.3" r="1.9"/>
<circle cx="269.4" cy="343.0" r="1.9"/>
<circle cx="132.1" cy="345.1" r="1.9"/>
<circle cx="129.8" cy="348.9" r="1.9"/>
<circle cx="314.0" cy="347.9" r="1.9"/>
<circle cx="317.2" cy="342.9" r="1.9"/>
<circle cx="303.1" cy="345.7" r="1.9"/>
<circle cx="239.0" cy="342.6" r="1.9"/>
<circle cx="286.2" cy="344.6" r="1.9"/>
<circle cx="235.8" cy="343.3" r="1.9"/>
<circle cx="128.8" cy="344.9" r="1.9"/>
<circle cx="274.5" cy="347.7" r="1.9"/>
<circle cx="300.2" cy="346.1" r="1.9"/>
<circle cx="291.2" cy="345.8" r="1.9"/>
<circle cx="282.0" cy="347.0" r="1.9"/>
<circle cx="177.2" cy="342.2" r="1.9"/>
<circle cx="143.0" cy="348.3" r="1.9"/>
<circle cx="201.8" cy="342.5" r="1.9"/>
<circle cx="148.4" cy="345.9" r="1.9"/>
<circle cx="259.7" cy="346.1" r="1.9"/>
<circle cx="316.5" cy="346.8" r="1.9"/>
<circle cx="140.9" cy="341.0" r="1.9"/>
<circle cx="168.9" cy="345.1" r="1.9"/>
<circle cx="192.1" cy="347.8" r="1.9"/>
<circle cx="222.1" cy="346.7" r="1.9"/>
<circle cx="225.9" cy="344.7" r="1.9"/>
<circle cx="190.3" cy="342.9" r="1.9"/>
<circle cx="185.0" cy="347.9" r="1.9"/>
<circle cx="268.0" cy="344.0" r="1.9"/>
<circle cx="139.9" cy="345.0" r="1.9"/>
<circle cx="145.5" cy="343.5" r="1.9"/>
<circle cx="266.9" cy="345.3" r="1.9"/>
<circle cx="164.9" cy="345.3" r="1.9"/>
<circle cx="245.4" cy="342.0" r="1.9"/>
<circle cx="201.6" cy="345.9" r="1.9"/>
<circle cx="247.7" cy="347.2" r="1.9"/>
<circle cx="212.0" cy="348.4" r="1.9"/>
<circle cx="167.3" cy="345.4" r="1.9"/>
<circle cx="218.5" cy="348.4" r="1.9"/>
<circle cx="251.0" cy="344.4" r="1.9"/>
<circle cx="139.3" cy="349.6" r="1.9"/>
<circle cx="289.0" cy="345.8" r="1.9"/>
<circle cx="220.9" cy="347.7" r="1.9"/>
<circle cx="283.9" cy="346.1" r="1.9"/>
<circle cx="125.5" cy="345.9" r="1.9"/>
<circle cx="151.2" cy="347.6" r="1.9"/>
<circle cx="194.8" cy="345.8" r="1.9"/>
<circle cx="268.2" cy="346.4" r="1.9"/>
<circle cx="253.5" cy="345.5" r="1.9"/>
<circle cx="213.7" cy="345.3" r="1.9"/>
<circle cx="286.5" cy="344.8" r="1.9"/>
<circle cx="233.9" cy="346.1" r="1.9"/>
<circle cx="126.0" cy="347.1" r="1.9"/>
<circle cx="246.9" cy="348.5" r="1.9"/>
<circle cx="227.9" cy="345.2" r="1.9"/>
<circle cx="139.7" cy="344.8" r="1.9"/>
<circle cx="158.3" cy="345.2" r="1.9"/>
<circle cx="179.0" cy="347.2" r="1.9"/>
<circle cx="175.5" cy="343.1" r="1.9"/>
<circle cx="174.1" cy="344.5" r="1.9"/>
<circle cx="144.4" cy="346.4" r="1.9"/>
<circle cx="292.6" cy="344.7" r="1.9"/>
<circle cx="249.2" cy="344.3" r="1.9"/>
<circle cx="220.8" cy="344.0" r="1.9"/>
<circle cx="165.1" cy="346.9" r="1.9"/>
<circle cx="192.9" cy="348.0" r="1.9"/>
<circle cx="252.3" cy="347.3" r="1.9"/>
<circle cx="130.2" cy="346.8" r="1.9"/>
<circle cx="236.5" cy="349.6" r="1.9"/>
<circle cx="274.9" cy="345.1" r="1.9"/>
<circle cx="306.4" cy="341.0" r="1.9"/>
<circle cx="308.6" cy="348.7" r="1.9"/>
<circle cx="234.7" cy="340.0" r="1.9"/>
<circle cx="274.3" cy="343.2" r="1.9"/>
<circle cx="313.3" cy="346.1" r="1.9"/>
<circle cx="210.3" cy="344.5" r="1.9"/>
<circle cx="208.6" cy="342.5" r="1.9"/>
<circle cx="219.9" cy="346.7" r="1.9"/>
<circle cx="205.1" cy="345.8" r="1.9"/>
<circle cx="280.2" cy="347.9" r="1.9"/>
<circle cx="262.8" cy="348.2" r="1.9"/>
<circle cx="211.7" cy="343.4" r="1.9"/>
<circle cx="222.1" cy="345.3" r="1.9"/>
<circle cx="183.0" cy="344.9" r="1.9"/>
<circle cx="218.9" cy="347.2" r="1.9"/>
<circle cx="313.2" cy="346.6" r="1.9"/>
<circle cx="222.0" cy="343.9" r="1.9"/>
<circle cx="214.0" cy="345.6" r="1.9"/>
<circle cx="313.2" cy="345.6" r="1.9"/>
<circle cx="187.2" cy="348.0" r="1.9"/>
<circle cx="220.7" cy="346.1" r="1.9"/>
<circle cx="312.4" cy="345.8" r="1.9"/>
<circle cx="168.6" cy="345.4" r="1.9"/>
<circle cx="238.3" cy="347.0" r="1.9"/>
<circle cx="249.5" cy="342.6" r="1.9"/>
<circle cx="258.9" cy="343.7" r="1.9"/>
<circle cx="228.7" cy="345.3" r="1.9"/>
<circle cx="197.5" cy="345.6" r="1.9"/>
<circle cx="180.0" cy="347.8" r="1.9"/>
<circle cx="225.2" cy="345.0" r="1.9"/>
<circle cx="168.2" cy="345.7" r="1.9"/>
<circle cx="308.8" cy="348.5" r="1.9"/>
<circle cx="279.4" cy="348.0" r="1.9"/>
<circle cx="278.9" cy="347.0" r="1.9"/>
<circle cx="273.6" cy="348.1" r="1.9"/>
<circle cx="216.5" cy="347.5" r="1.9"/>
<circle cx="196.5" cy="348.9" r="1.9"/>
<circle cx="134.7" cy="342.1" r="1.9"/>
<circle cx="260.5" cy="346.8" r="1.9"/>
<circle cx="168.6" cy="348.5" r="1.9"/>
<circle cx="215.9" cy="347.3" r="1.9"/>
<circle cx="223.7" cy="347.1" r="1.9"/>
<circle cx="292.0" cy="348.8" r="1.9"/>
<circle cx="173.5" cy="345.2" r="1.9"/>
<circle cx="301.9" cy="344.1" r="1.9"/>
<circle cx="150.9" cy="343.6" r="1.9"/>
<circle cx="152.3" cy="345.5" r="1.9"/>
<circle cx="180.4" cy="343.3" r="1.9"/>
<circle cx="303.9" cy="346.8" r="1.9"/>
<circle cx="174.4" cy="345.9" r="1.9"/>
<circle cx="174.8" cy="345.8" r="1.9"/>
<circle cx="172.9" cy="341.2" r="1.9"/>
<circle cx="297.4" cy="345.0" r="1.9"/>
<circle cx="187.8" cy="346.3" r="1.9"/>
<circle cx="277.4" cy="346.7" r="1.9"/>
<circle cx="127.3" cy="347.6" r="1.9"/>
<circle cx="143.4" cy="346.0" r="1.9"/>
<circle cx="168.3" cy="343.7" r="1.9"/>
<circle cx="169.1" cy="346.9" r="1.9"/>
<circle cx="274.8" cy="346.3" r="1.9"/>
<circle cx="144.0" cy="344.7" r="1.9"/>
<circle cx="229.6" cy="342.1" r="1.9"/>
<circle cx="216.9" cy="345.9" r="1.9"/>
<circle cx="286.1" cy="341.8" r="1.9"/>
<circle cx="148.3" cy="346.6" r="1.9"/>
<circle cx="240.4" cy="346.4" r="1.9"/>
<circle cx="312.9" cy="346.7" r="1.9"/>
<circle cx="310.5" cy="345.1" r="1.9"/>
<circle cx="241.2" cy="347.1" r="1.9"/>
<circle cx="125.9" cy="347.0" r="1.9"/>
<circle cx="246.1" cy="346.2" r="1.9"/>
<circle cx="140.0" cy="345.8" r="1.9"/>
<circle cx="175.9" cy="345.6" r="1.9"/>
<circle cx="143.2" cy="350.4" r="1.9"/>
<circle cx="299.0" cy="343.2" r="1.9"/>
<circle cx="160.2" cy="344.9" r="1.9"/>
<circle cx="244.1" cy="346.3" r="1.9"/>
<circle cx="144.6" cy="343.4" r="1.9"/>
<circle cx="251.7" cy="346.9" r="1.9"/>
<circle cx="267.0" cy="346.5" r="1.9"/>
<circle cx="231.0" cy="342.5" r="1.9"/>
<circle cx="138.6" cy="350.4" r="1.9"/>
<circle cx="291.0" cy="344.4" r="1.9"/>
<circle cx="316.5" cy="347.7" r="1.9"/>
<circle cx="160.1" cy="344.3" r="1.9"/>
<circle cx="127.4" cy="345.0" r="1.9"/>
<circle cx="128.9" cy="344.1" r="1.9"/>
<circle cx="284.2" cy="345.9" r="1.9"/>
<circle cx="301.9" cy="346.9" r="1.9"/>
<circle cx="223.9" cy="346.6" r="1.9"/>
<circle cx="199.7" cy="346.6" r="1.9"/>
<circle cx="174.2" cy="344.5" r="1.9"/>
<circle cx="300.0" cy="347.5" r="1.9"/>
<circle cx="238.8" cy="345.4" r="1.9"/>
<circle cx="130.1" cy="347.4" r="1.9"/>
<circle cx="176.1" cy="344.8" r="1.9"/>
<circle cx="156.1" cy="343.4" r="1.9"/>
<circle cx="238.6" cy="348.9" r="1.9"/>
<circle cx="147.7" cy="341.7" r="1.9"/>
<circle cx="249.2" cy="345.6" r="1.9"/>
<circle cx="304.3" cy="341.4" r="1.9"/>
<circle cx="128.5" cy="344.3" r="1.9"/>
<circle cx="179.6" cy="341.0" r="1.9"/>
<circle cx="201.3" cy="347.2" r="1.9"/>
<circle cx="193.6" cy="347.0" r="1.9"/>
<circle cx="194.4" cy="348.9" r="1.9"/>
<circle cx="272.9" cy="346.5" r="1.9"/>
<circle cx="240.8" cy="346.3" r="1.9"/>
<circle cx="131.9" cy="342.0" r="1.9"/>
<circle cx="133.6" cy="347.2" r="1.9"/>
<circle cx="256.7" cy="349.2" r="1.9"/>
<circle cx="262.1" cy="348.0" r="1.9"/>
<circle cx="177.1" cy="348.2" r="1.9"/>
<circle cx="160.4" cy="345.4" r="1.9"/>
<circle cx="126.4" cy="348.6" r="1.9"/>
<circle cx="295.0" cy="347.1" r="1.9"/>
<circle cx="243.0" cy="344.3" r="1.9"/>
<circle cx="299.4" cy="349.2" r="1.9"/>
<circle cx="298.9" cy="346.9" r="1.9"/>
<circle cx="274.0" cy="344.8" r="1.9"/>
<circle cx="277.5" cy="344.1" r="1.9"/>
<circle cx="220.5" cy="344.9" r="1.9"/>
<circle cx="187.3" cy="349.2" r="1.9"/>
<circle cx="220.6" cy="343.8" r="1.9"/>
<circle cx="174.6" cy="345.5" r="1.9"/>
<circle cx="303.2" cy="347.5" r="1.9"/>
<circle cx="263.7" cy="346.2" r="1.9"/>
<circle cx="195.5" cy="347.3" r="1.9"/>
<circle cx="137.9" cy="345.2" r="1.9"/>
<circle cx="294.8" cy="351.8" r="1.9"/>
<circle cx="145.6" cy="347.0" r="1.9"/>
<circle cx="134.3" cy="346.7" r="1.9"/>
<circle cx="218.6" cy="344.6" r="1.9"/>
<circle cx="139.2" cy="343.7" r="1.9"/>
<circle cx="150.0" cy="344.4" r="1.9"/>
<circle cx="220.5" cy="350.0" r="1.9"/>
<circle cx="308.9" cy="344.2" r="1.9"/>
<circle cx="132.7" cy="343.3" r="1.9"/>
<circle cx="251.8" cy="348.4" r="1.9"/>
<circle cx="210.1" cy="349.6" r="1.9"/>
<circle cx="251.3" cy="343.1" r="1.9"/>
<circle cx="182.2" cy="343.8" r="1.9"/>
<circle cx="174.4" cy="344.2" r="1.9"/>
<circle cx="273.2" cy="347.1" r="1.9"/>
<circle cx="220.0" cy="341.7" r="1.9"/>
<circle cx="135.3" cy="344.7" r="1.9"/>
<circle cx="258.2" cy="343.5" r="1.9"/>
<circle cx="288.1" cy="345.4" r="1.9"/>
<circle cx="191.1" cy="350.4" r="1.9"/>
<circle cx="178.7" cy="344.2" r="1.9"/>
<circle cx="145.2" cy="345.5" r="1.9"/>
<circle cx="310.7" cy="346.7" r="1.9"/>
<circle cx="195.6" cy="345.2" r="1.9"/>
<circle cx="264.7" cy="351.0" r="1.9"/>
<circle cx="138.4" cy="349.0" r="1.9"/>
<circle cx="316.4" cy="345.0" r="1.9"/>
<circle cx="243.0" cy="341.6" r="1.9"/>
<circle cx="166.0" cy="345.3" r="1.9"/>
<circle cx="220.5" cy="347.3" r="1.9"/>
<circle cx="318.4" cy="349.3" r="1.9"/>
<circle cx="162.8" cy="345.5" r="1.9"/>
<circle cx="150.3" cy="345.4" r="1.9"/>
<circle cx="285.3" cy="347.3" r="1.9"/>
<circle cx="231.2" cy="340.8" r="1.9"/>
<circle cx="293.3" cy="348.3" r="1.9"/>
<circle cx="181.4" cy="347.1" r="1.9"/>
<circle cx="135.2" cy="342.5" r="1.9"/>
<circle cx="194.6" cy="346.8" r="1.9"/>
<circle cx="195.9" cy="347.4" r="1.9"/>
<circle cx="231.1" cy="346.6" r="1.9"/>
<circle cx="251.8" cy="342.8" r="1.9"/>
<circle cx="153.4" cy="340.0" r="1.9"/>
<circle cx="279.9" cy="345.3" r="1.9"/>
<circle cx="291.3" cy="346.3" r="1.9"/>
<circle cx="314.6" cy="341.9" r="1.9"/>
<circle cx="146.1" cy="344.7" r="1.9"/>
<circle cx="209.4" cy="344.1" r="1.9"/>
<circle cx="136.9" cy="347.1" r="1.9"/>
<circle cx="261.5" cy="347.0" r="1.9"/>
<circle cx="264.9" cy="341.1" r="1.9"/>
<circle cx="192.3" cy="346.6" r="1.9"/>
<circle cx="303.2" cy="344.8" r="1.9"/>
<circle cx="186.6" cy="344.3" r="1.9"/>
<circle cx="204.9" cy="345.6" r="1.9"/>
<circle cx="181.6" cy="343.3" r="1.9"/>
<circle cx="206.8" cy="346.8" r="1.9"/>
<circle cx="146.8" cy="346.8" r="1.9"/>
<circle cx="296.9" cy="347.1" r="1.9"/>
<circle cx="170.4" cy="348.1" r="1.9"/>
<circle cx="214.9" cy="342.7" r="1.9"/>
<circle cx="141.3" cy="348.3" r="1.9"/>
<circle cx="268.5" cy="347.1" r="1.9"/>
<circle cx="217.3" cy="347.0" r="1.9"/>
<circle cx="142.1" cy="345.6" r="1.9"/>
<circle cx="292.7" cy="344.5" r="1.9"/>
<circle cx="129.0" cy="347.5" r="1.9"/>
<circle cx="137.5" cy="347.2" r="1.9"/>
<circle cx="311.7" cy="344.9" r="1.9"/>
<circle cx="308.2" cy="346.3" r="1.9"/>
<circle cx="162.2" cy="345.6" r="1.9"/>
<circle cx="294.5" cy="343.7" r="1.9"/>
<circle cx="151.7" cy="344.0" r="1.9"/>
<circle cx="254.5" cy="344.5" r="1.9"/>
<circle cx="293.9" cy="346.1" r="1.9"/>
<circle cx="285.5" cy="345.6" r="1.9"/>
<circle cx="165.5" cy="345.5" r="1.9"/>
<circle cx="232.7" cy="345.6" r="1.9"/>
<circle cx="306.2" cy="346.8" r="1.9"/>
</g>
<g fill="#4b73bf">
<circle cx="198.0" cy="342.4" r="1.9"/>
<circle cx="170.0" cy="343.5" r="1.9"/>
<circle cx="131.2" cy="346.1" r="1.9"/>
<circle cx="194.6" cy="345.0" r="1.9"/>
<circle cx="187.1" cy="346.4" r="1.9"/>
<circle cx="206.5" cy="343.3" r="1.9"/>
<circle cx="199.9" cy="342.7" r="1.9"/>
<circle cx="180.2" cy="340.0" r="1.9"/>
<circle cx="274.9" cy="341.9" r="1.9"/>
<circle cx="232.2" cy="341.0" r="1.9"/>
<circle cx="229.8" cy="346.0" r="1.9"/>
<circle cx="200.4" cy="346.3" r="1.9"/>
<circle cx="168.2" cy="344.5" r="1.9"/>
<circle cx="226.3" cy="343.4" r="1.9"/>
<circle cx="204.5" cy="344.5" r="1.9"/>
<circle cx="166.5" cy="340.1" r="1.9"/>
<circle cx="141.1" cy="345.9" r="1.9"/>
<circle cx="167.5" cy="345.8" r="1.9"/>
<circle cx="158.7" cy="342.7" r="1.9"/>
<circle cx="309.4" cy="341.3" r="1.9"/>
<circle cx="215.9" cy="345.3" r="1.9"/>
<circle cx="175.7" cy="344.1" r="1.9"/>
<circle cx="312.9" cy="345.2" r="1.9"/>
<circle cx="256.7" cy="343.1" r="1.9"/>
<circle cx="305.7" cy="343.1" r="1.9"/>
<circle cx="131.2" cy="345.5" r="1.9"/>
<circle cx="171.7" cy="341.9" r="1.9"/>
<circle cx="142.1" cy="342.2" r="1.9"/>
<circle cx="142.9" cy="341.5" r="1.9"/>
<circle cx="278.2" cy="345.8" r="1.9"/>
<circle cx="232.3" cy="345.6" r="1.9"/>
<circle cx="214.6" cy="342.9" r="1.9"/>
<circle cx="160.7" cy="342.9" r="1.9"/>
<circle cx="305.1" cy="340.6" r="1.9"/>
<circle cx="230.3" cy="343.1" r="1.9"/>
<circle cx="227.2" cy="344.2" r="1.9"/>
<circle cx="195.3" cy="342.4" r="1.9"/>
<circle cx="291.5" cy="343.8" r="1.9"/>
<circle cx="165.1" cy="339.8" r="1.9"/>
<circle cx="212.1" cy="340.4" r="1.9"/>
<circle cx="285.8" cy="343.3" r="1.9"/>
<circle cx="168.4" cy="343.6" r="1.9"/>
<circle cx="209.4" cy="340.1" r="1.9"/>
<circle cx="274.6" cy="344.3" r="1.9"/>
<circle cx="311.7" cy="343.1" r="1.9"/>
<circle cx="165.1" cy="345.8" r="1.9"/>
<circle cx="142.8" cy="341.1" r="1.9"/>
<circle cx="225.3" cy="346.8" r="1.9"/>
<circle cx="254.1" cy="345.0" r="1.9"/>
<circle cx="161.5" cy="342.8" r="1.9"/>
<circle cx="233.4" cy="344.0" r="1.9"/>
<circle cx="250.7" cy="342.9" r="1.9"/>
<circle cx="281.0" cy="341.5" r="1.9"/>
<circle cx="301.4" cy="344.4" r="1.9"/>
<circle cx="204.9" cy="346.2" r="1.9"/>
<circle cx="137.1" cy="345.1" r="1.9"/>
<circle cx="132.4" cy="346.6" r="1.9"/>
<circle cx="273.4" cy="343.2" r="1.9"/>
<circle cx="138.3" cy="344.1" r="1.9"/>
<circle cx="227.9" cy="342.3" r="1.9"/>
<circle cx="157.7" cy="344.2" r="1.9"/>
<circle cx="266.5" cy="342.7" r="1.9"/>
<circle cx="302.1" cy="340.6" r="1.9"/>
<circle cx="164.0" cy="342.4" r="1.9"/>
<circle cx="260.2" cy="344.7" r="1.9"/>
<circle cx="126.4" cy="344.0" r="1.9"/>
<circle cx="166.2" cy="342.8" r="1.9"/>
<circle cx="192.1" cy="345.6" r="1.9"/>
<circle cx="220.6" cy="347.0" r="1.9"/>
<circle cx="220.9" cy="342.8" r="1.9"/>
<circle cx="298.6" cy="341.6" r="1.9"/>
<circle cx="167.1" cy="342.7" r="1.9"/>
<circle cx="167.7" cy="344.4" r="1.9"/>
<circle cx="138.2" cy="345.9" r="1.9"/>
<circle cx="236.2" cy="344.0" r="1.9"/>
</g>
<g fill="#5db994">
<circle cx="223.5" cy="344.1" r="1.9"/>
<circle cx="304.2" cy="347.9" r="1.9"/>
<circle cx="152.2" cy="343.9" r="1.9"/>
<circle cx="283.2" cy="345.6" r="1.9"/>
<circle cx="263.7" cy="343.9" r="1.9"/>
<circle cx="126.3" cy="342.1" r="1.9"/>
<circle cx="318.0" cy="344.7" r="1.9"/>
<circle cx="175.4" cy="343.5" r="1.9"/>
<circle cx="156.3" cy="344.1" r="1.9"/>
<circle cx="298.6" cy="341.9" r="1.9"/>
<circle cx="176.7" cy="348.6" r="1.9"/>
<circle cx="313.3" cy="344.5" r="1.9"/>
<circle cx="216.2" cy="340.6" r="1.9"/>
<circle cx="223.6" cy="342.7" r="1.9"/>
<circle cx="283.8" cy="344.1" r="1.9"/>
<circle cx="184.0" cy="343.9" r="1.9"/>
<circle cx="138.6" cy="340.6" r="1.9"/>
<circle cx="173.2" cy="346.1" r="1.9"/>
<circle cx="201.5" cy="341.7" r="1.9"/>
<circle cx="236.2" cy="344.7" r="1.9"/>
<circle cx="244.9" cy="341.6" r="1.9"/>
<circle cx="309.8" cy="343.7" r="1.9"/>
<circle cx="260.3" cy="345.0" r="1.9"/>
<circle cx="224.0" cy="341.9" r="1.9"/>
<circle cx="302.9" cy="343.5" r="1.9"/>
<circle cx="313.1" cy="345.7" r="1.9"/>
<circle cx="180.4" cy="347.5" r="1.9"/>
<circle cx="284.9" cy="349.0" r="1.9"/>
<circle cx="293.4" cy="345.8" r="1.9"/>
<circle cx="224.9" cy="342.4" r="1.9"/>
<circle cx="257.1" cy="346.1" r="1.9"/>
<circle cx="142.0" cy="344.6" r="1.9"/>
<circle cx="284.8" cy="342.7" r="1.9"/>
<circle cx="233.5" cy="342.4" r="1.9"/>
<circle cx="286.9" cy="341.9" r="1.9"/>
<circle cx="265.9" cy="345.9" r="1.9"/>
<circle cx="259.0" cy="345.3" r="1.9"/>
<circle cx="169.2" cy="347.7" r="1.9"/>
<circle cx="234.2" cy="341.9" r="1.9"/>
<circle cx="142.9" cy="345.8" r="1.9"/>
<circle cx="147.6" cy="344.5" r="1.9"/>
<circle cx="176.6" cy="345.0" r="1.9"/>
<circle cx="270.9" cy="342.9" r="1.9"/>
<circle cx="244.7" cy="340.2" r="1.9"/>
<circle cx="181.8" cy="349.1" r="1.9"/>
<circle cx="252.4" cy="348.7" r="1.9"/>
<circle cx="160.3" cy="340.1" r="1.9"/>
<circle cx="180.9" cy="342.5" r="1.9"/>
<circle cx="255.6" cy="347.7" r="1.9"/>
<circle cx="145.6" cy="347.2" r="1.9"/>
<circle cx="188.3" cy="343.0" r="1.9"/>
<circle cx="229.4" cy="340.9" r="1.9"/>
<circle cx="179.8" cy="342.5" r="1.9"/>
<circle cx="248.5" cy="344.5" r="1.9"/>
<circle cx="149.4" cy="344.9" r="1.9"/>
<circle cx="128.2" cy="346.7" r="1.9"/>
<circle cx="317.5" cy="342.7" r="1.9"/>
<circle cx="222.0" cy="345.9" r="1.9"/>
<circle cx="241.5" cy="343.7" r="1.9"/>
<circle cx="234.5" cy="345.3" r="1.9"/>
<circle cx="304.1" cy="340.7" r="1.9"/>
<circle cx="148.7" cy="348.3" r="1.9"/>
<circle cx="240.9" cy="347.5" r="1.9"/>
<circle cx="288.6" cy="343.9" r="1.9"/>
<circle cx="140.8" cy="343.4" r="1.9"/>
<circle cx="148.5" cy="344.2" r="1.9"/>
<circle cx="238.5" cy="345.9" r="1.9"/>
<circle cx="250.4" cy="347.1" r="1.9"/>
<circle cx="169.9" cy="347.7" r="1.9"/>
<circle cx="312.3" cy="339.7" r="1.9"/>
</g>
<g fill="#1f3272">
<circle cx="327.7" cy="349.6" r="1.9"/>
<circle cx="334.1" cy="341.1" r="1.9"/>
<circle cx="330.3" cy="345.2" r="1.9"/>
<circle cx="332.5" cy="342.4" r="1.9"/>
<circle cx="329.5" cy="347.1" r="1.9"/>
<circle cx="332.5" cy="341.5" r="1.9"/>
<circle cx="333.2" cy="344.8" r="1.9"/>
<circle cx="335.2" cy="346.3" r="1.9"/>
<circle cx="330.4" cy="346.2" r="1.9"/>
<circle cx="332.9" cy="342.8" r="1.9"/>
<circle cx="331.5" cy="351.0" r="1.9"/>
<circle cx="328.9" cy="341.0" r="1.9"/>
<circle cx="333.3" cy="340.8" r="1.9"/>
<circle cx="336.6" cy="344.5" r="1.9"/>
<circle cx="332.3" cy="346.2" r="1.9"/>
<circle cx="332.6" cy="344.3" r="1.9"/>
<circle cx="329.1" cy="340.2" r="1.9"/>
<circle cx="328.7" cy="346.9" r="1.9"/>
<circle cx="335.0" cy="345.7" r="1.9"/>
<circle cx="328.6" cy="343.6" r="1.9"/>
<circle cx="330.8" cy="343.1" r="1.9"/>
<circle cx="330.9" cy="349.3" r="1.9"/>
<circle cx="337.8" cy="345.7" r="1.9"/>
<circle cx="335.4" cy="348.6" r="1.9"/>
<circle cx="333.6" cy="349.8" r="1.9"/>
</g>
<g fill="#87cdee">
<circle cx="384.8" cy="348.9" r="1.9"/>
<circle cx="396.9" cy="343.7" r="1.9"/>
<circle cx="400.3" cy="347.1" r="1.9"/>
<circle cx="387.0" cy="351.0" r="1.9"/>
<circle cx="384.7" cy="348.9" r="1.9"/>
<circle cx="387.2" cy="343.1" r="1.9"/>
<circle cx="383.9" cy="347.6" r="1.9"/>
<circle cx="404.8" cy="346.4" r="1.9"/>
<circle cx="398.0" cy="349.6" r="1.9"/>
<circle cx="385.2" cy="348.4" r="1.9"/>
<circle cx="395.2" cy="347.2" r="1.9"/>
<circle cx="383.9" cy="344.3" r="1.9"/>
<circle cx="394.4" cy="346.6" r="1.9"/>
<circle cx="398.5" cy="344.8" r="1.9"/>
<circle cx="386.5" cy="346.4" r="1.9"/>
<circle cx="399.4" cy="345.8" r="1.9"/>
<circle cx="400.2" cy="345.7" r="1.9"/>
<circle cx="388.7" cy="342.6" r="1.9"/>
<circle cx="397.4" cy="346.4" r="1.9"/>
<circle cx="402.8" cy="346.2" r="1.9"/>
<circle cx="397.6" cy="349.9" r="1.9"/>
<circle cx="400.3" cy="344.8" r="1.9"/>
<circle cx="404.7" cy="347.7" r="1.9"/>
<circle cx="390.5" cy="349.3" r="1.9"/>
<circle cx="383.7" cy="349.4" r="1.9"/>
<circle cx="402.9" cy="342.9" r="1.9"/>
<circle cx="388.1" cy="345.4" r="1.9"/>
<circle cx="399.8" cy="346.4" r="1.9"/>
<circle cx="393.2" cy="350.0" r="1.9"/>
<circle cx="397.7" cy="344.5" r="1.9"/>
<circle cx="402.0" cy="348.1" r="1.9"/>
<circle cx="397.9" cy="346.8" r="1.9"/>
<circle cx="401.3" cy="348.6" r="1.9"/>
<circle cx="387.3" cy="349.2" r="1.9"/>
<circle cx="389.0" cy="347.3" r="1.9"/>
<circle cx="404.0" cy="342.1" r="1.9"/>
<circle cx="397.4" cy="347.4" r="1.9"/>
<circle cx="383.3" cy="345.9" r="1.9"/>
<circle cx="395.0" cy="348.9" r="1.9"/>
<circle cx="402.5" cy="347.7" r="1.9"/>
<circle cx="403.2" cy="341.7" r="1.9"/>
<circle cx="394.9" cy="343.4" r="1.9"/>
<circle cx="387.0" cy="347.5" r="1.9"/>
<circle cx="404.1" cy="345.5" r="1.9"/>
<circle cx="404.4" cy="343.1" r="1.9"/>
<circle cx="384.8" cy="348.2" r="1.9"/>
<circle cx="383.5" cy="349.7" r="1.9"/>
<circle cx="405.3" cy="350.0" r="1.9"/>
<circle cx="394.8" cy="347.7" r="1.9"/>
<circle cx="392.1" cy="346.7" r="1.9"/>
<circle cx="396.0" cy="345.5" r="1.9"/>
<circle cx="396.6" cy="342.0" r="1.9"/>
<circle cx="384.7" cy="340.2" r="1.9"/>
<circle cx="385.5" cy="344.4" r="1.9"/>
<circle cx="404.0" cy="346.5" r="1.9"/>
</g>
<g fill="#1f3272">
<circle cx="407.9" cy="345.9" r="1.9"/>
<circle cx="408.3" cy="344.9" r="1.9"/>
<circle cx="406.4" cy="345.3" r="1.9"/>
<circle cx="406.7" cy="348.4" r="1.9"/>
<circle cx="413.2" cy="347.8" r="1.9"/>
<circle cx="409.1" cy="345.2" r="1.9"/>
<circle cx="405.7" cy="344.2" r="1.9"/>
<circle cx="414.6" cy="343.8" r="1.9"/>
<circle cx="405.7" cy="349.8" r="1.9"/>
<circle cx="406.4" cy="342.6" r="1.9"/>
<circle cx="414.4" cy="349.5" r="1.9"/>
<circle cx="413.5" cy="346.8" r="1.9"/>
<circle cx="412.9" cy="345.7" r="1.9"/>
<circle cx="405.6" cy="347.5" r="1.9"/>
<circle cx="407.2" cy="345.7" r="1.9"/>
<circle cx="414.7" cy="345.4" r="1.9"/>
</g>
<g fill="#5db994">
<circle cx="614.8" cy="350.3" r="1.9"/>
<circle cx="546.9" cy="346.3" r="1.9"/>
<circle cx="610.6" cy="349.0" r="1.9"/>
<circle cx="492.1" cy="348.1" r="1.9"/>
<circle cx="519.4" cy="343.9" r="1.9"/>
<circle cx="534.5" cy="344.4" r="1.9"/>
<circle cx="500.3" cy="350.0" r="1.9"/>
<circle cx="471.0" cy="345.9" r="1.9"/>
<circle cx="504.1" cy="344.7" r="1.9"/>
<circle cx="526.5" cy="344.6" r="1.9"/>
<circle cx="486.3" cy="345.4" r="1.9"/>
<circle cx="546.9" cy="345.0" r="1.9"/>
<circle cx="539.5" cy="343.3" r="1.9"/>
<circle cx="435.1" cy="350.8" r="1.9"/>
<circle cx="595.2" cy="343.7" r="1.9"/>
<circle cx="428.6" cy="344.7" r="1.9"/>
<circle cx="465.2" cy="345.0" r="1.9"/>
<circle cx="610.3" cy="349.6" r="1.9"/>
<circle cx="518.3" cy="346.3" r="1.9"/>
<circle cx="485.9" cy="345.3" r="1.9"/>
<circle cx="486.4" cy="343.8" r="1.9"/>
<circle cx="561.3" cy="346.7" r="1.9"/>
<circle cx="519.3" cy="347.5" r="1.9"/>
<circle cx="621.1" cy="347.9" r="1.9"/>
<circle cx="558.8" cy="344.5" r="1.9"/>
<circle cx="511.2" cy="351.1" r="1.9"/>
<circle cx="532.8" cy="344.5" r="1.9"/>
<circle cx="438.1" cy="346.1" r="1.9"/>
<circle cx="545.2" cy="343.2" r="1.9"/>
<circle cx="507.6" cy="345.7" r="1.9"/>
<circle cx="445.1" cy="348.2" r="1.9"/>
<circle cx="580.0" cy="344.7" r="1.9"/>
<circle cx="420.0" cy="348.8" r="1.9"/>
<circle cx="434.5" cy="345.1" r="1.9"/>
<circle cx="557.5" cy="344.2" r="1.9"/>
<circle cx="585.3" cy="348.5" r="1.9"/>
<circle cx="454.1" cy="346.8" r="1.9"/>
<circle cx="467.0" cy="345.7" r="1.9"/>
<circle cx="435.7" cy="343.0" r="1.9"/>
<circle cx="429.9" cy="349.4" r="1.9"/>
<circle cx="421.2" cy="344.3" r="1.9"/>
<circle cx="621.4" cy="346.5" r="1.9"/>
<circle cx="479.7" cy="347.7" r="1.9"/>
<circle cx="540.9" cy="342.1" r="1.9"/>
<circle cx="482.1" cy="345.5" r="1.9"/>
<circle cx="426.5" cy="344.7" r="1.9"/>
<circle cx="506.6" cy="346.1" r="1.9"/>
<circle cx="556.6" cy="348.9" r="1.9"/>
<circle cx="620.6" cy="345.2" r="1.9"/>
<circle cx="488.6" cy="345.7" r="1.9"/>
<circle cx="554.9" cy="348.1" r="1.9"/>
<circle cx="572.6" cy="344.7" r="1.9"/>
<circle cx="534.9" cy="345.1" r="1.9"/>
<circle cx="510.8" cy="348.1" r="1.9"/>
<circle cx="510.6" cy="348.1" r="1.9"/>
<circle cx="600.0" cy="343.2" r="1.9"/>
<circle cx="469.5" cy="343.4" r="1.9"/>
<circle cx="464.3" cy="345.6" r="1.9"/>
<circle cx="478.6" cy="346.7" r="1.9"/>
<circle cx="458.3" cy="346.8" r="1.9"/>
<circle cx="485.3" cy="347.6" r="1.9"/>
<circle cx="567.0" cy="344.3" r="1.9"/>
<circle cx="518.8" cy="349.5" r="1.9"/>
<circle cx="507.2" cy="345.7" r="1.9"/>
<circle cx="526.7" cy="348.2" r="1.9"/>
<circle cx="437.4" cy="346.2" r="1.9"/>
<circle cx="499.3" cy="343.1" r="1.9"/>
<circle cx="419.6" cy="346.3" r="1.9"/>
<circle cx="525.9" cy="346.3" r="1.9"/>
<circle cx="619.4" cy="343.4" r="1.9"/>
<circle cx="618.1" cy="346.4" r="1.9"/>
<circle cx="500.0" cy="344.0" r="1.9"/>
<circle cx="592.5" cy="345.3" r="1.9"/>
<circle cx="559.2" cy="347.0" r="1.9"/>
<circle cx="483.1" cy="345.4" r="1.9"/>
<circle cx="582.2" cy="349.8" r="1.9"/>
<circle cx="427.6" cy="345.2" r="1.9"/>
<circle cx="580.3" cy="348.7" r="1.9"/>
<circle cx="566.8" cy="347.0" r="1.9"/>
<circle cx="536.1" cy="345.4" r="1.9"/>
<circle cx="559.1" cy="344.1" r="1.9"/>
<circle cx="493.6" cy="343.4" r="1.9"/>
<circle cx="574.0" cy="345.6" r="1.9"/>
<circle cx="498.4" cy="345.2" r="1.9"/>
<circle cx="521.6" cy="344.9" r="1.9"/>
<circle cx="502.6" cy="348.2" r="1.9"/>
<circle cx="477.1" cy="346.4" r="1.9"/>
<circle cx="539.3" cy="345.5" r="1.9"/>
<circle cx="560.5" cy="346.1" r="1.9"/>
<circle cx="452.6" cy="344.2" r="1.9"/>
<circle cx="560.5" cy="346.2" r="1.9"/>
<circle cx="573.5" cy="345.3" r="1.9"/>
<circle cx="528.9" cy="345.3" r="1.9"/>
<circle cx="612.8" cy="343.3" r="1.9"/>
<circle cx="519.2" cy="349.6" r="1.9"/>
<circle cx="520.2" cy="347.6" r="1.9"/>
<circle cx="624.5" cy="348.6" r="1.9"/>
<circle cx="464.3" cy="344.9" r="1.9"/>
<circle cx="477.6" cy="343.0" r="1.9"/>
<circle cx="611.6" cy="345.6" r="1.9"/>
<circle cx="494.3" cy="347.9" r="1.9"/>
<circle cx="622.4" cy="347.1" r="1.9"/>
<circle cx="521.7" cy="347.2" r="1.9"/>
<circle cx="538.8" cy="340.0" r="1.9"/>
<circle cx="420.0" cy="344.7" r="1.9"/>
<circle cx="481.1" cy="347.6" r="1.9"/>
<circle cx="513.2" cy="347.8" r="1.9"/>
<circle cx="504.3" cy="345.2" r="1.9"/>
<circle cx="601.5" cy="345.0" r="1.9"/>
<circle cx="445.4" cy="348.5" r="1.9"/>
<circle cx="576.1" cy="350.3" r="1.9"/>
<circle cx="571.4" cy="345.7" r="1.9"/>
<circle cx="582.9" cy="347.1" r="1.9"/>
<circle cx="482.6" cy="345.7" r="1.9"/>
<circle cx="492.9" cy="347.0" r="1.9"/>
<circle cx="462.7" cy="346.8" r="1.9"/>
<circle cx="457.8" cy="343.9" r="1.9"/>
<circle cx="540.3" cy="341.9" r="1.9"/>
<circle cx="622.3" cy="346.8" r="1.9"/>
<circle cx="462.4" cy="347.5" r="1.9"/>
<circle cx="574.6" cy="347.0" r="1.9"/>
<circle cx="609.0" cy="348.7" r="1.9"/>
<circle cx="453.9" cy="345.2" r="1.9"/>
<circle cx="526.6" cy="346.0" r="1.9"/>
<circle cx="480.6" cy="346.0" r="1.9"/>
<circle cx="419.3" cy="343.4" r="1.9"/>
<circle cx="518.5" cy="349.1" r="1.9"/>
<circle cx="448.7" cy="342.8" r="1.9"/>
<circle cx="584.8" cy="344.6" r="1.9"/>
<circle cx="481.9" cy="342.9" r="1.9"/>
<circle cx="486.3" cy="344.5" r="1.9"/>
<circle cx="494.9" cy="345.0" r="1.9"/>
<circle cx="496.1" cy="344.0" r="1.9"/>
<circle cx="596.4" cy="348.3" r="1.9"/>
<circle cx="611.0" cy="344.1" r="1.9"/>
<circle cx="610.5" cy="346.4" r="1.9"/>
<circle cx="567.8" cy="344.5" r="1.9"/>
<circle cx="574.1" cy="345.0" r="1.9"/>
<circle cx="567.5" cy="346.5" r="1.9"/>
<circle cx="543.5" cy="340.0" r="1.9"/>
<circle cx="585.0" cy="347.5" r="1.9"/>
<circle cx="621.9" cy="341.6" r="1.9"/>
<circle cx="466.0" cy="341.5" r="1.9"/>
<circle cx="496.0" cy="343.6" r="1.9"/>
<circle cx="479.2" cy="344.3" r="1.9"/>
<circle cx="493.6" cy="346.5" r="1.9"/>
<circle cx="474.9" cy="343.4" r="1.9"/>
<circle cx="481.1" cy="346.9" r="1.9"/>
<circle cx="590.4" cy="346.1" r="1.9"/>
<circle cx="518.4" cy="344.1" r="1.9"/>
<circle cx="492.2" cy="347.6" r="1.9"/>
<circle cx="476.6" cy="347.2" r="1.9"/>
<circle cx="594.0" cy="345.4" r="1.9"/>
<circle cx="454.4" cy="349.6" r="1.9"/>
<circle cx="613.5" cy="348.0" r="1.9"/>
<circle cx="599.6" cy="344.0" r="1.9"/>
<circle cx="576.4" cy="347.8" r="1.9"/>
<circle cx="594.9" cy="344.4" r="1.9"/>
<circle cx="621.3" cy="344.0" r="1.9"/>
<circle cx="563.8" cy="345.9" r="1.9"/>
<circle cx="484.3" cy="346.7" r="1.9"/>
<circle cx="542.4" cy="351.5" r="1.9"/>
<circle cx="573.4" cy="345.6" r="1.9"/>
<circle cx="457.2" cy="345.2" r="1.9"/>
<circle cx="559.9" cy="345.5" r="1.9"/>
<circle cx="417.8" cy="349.1" r="1.9"/>
<circle cx="490.0" cy="345.4" r="1.9"/>
<circle cx="604.0" cy="345.7" r="1.9"/>
<circle cx="502.6" cy="345.8" r="1.9"/>
<circle cx="516.8" cy="346.3" r="1.9"/>
<circle cx="423.8" cy="347.5" r="1.9"/>
<circle cx="479.7" cy="344.1" r="1.9"/>
<circle cx="511.0" cy="350.2" r="1.9"/>
<circle cx="494.3" cy="344.6" r="1.9"/>
<circle cx="477.2" cy="344.3" r="1.9"/>
<circle cx="537.7" cy="345.8" r="1.9"/>
<circle cx="483.2" cy="344.8" r="1.9"/>
<circle cx="429.8" cy="349.1" r="1.9"/>
<circle cx="500.5" cy="344.4" r="1.9"/>
<circle cx="611.8" cy="349.2" r="1.9"/>
<circle cx="607.0" cy="342.6" r="1.9"/>
<circle cx="538.7" cy="342.6" r="1.9"/>
<circle cx="624.0" cy="345.8" r="1.9"/>
<circle cx="603.3" cy="343.4" r="1.9"/>
<circle cx="488.4" cy="344.9" r="1.9"/>
<circle cx="598.7" cy="346.8" r="1.9"/>
<circle cx="552.3" cy="345.4" r="1.9"/>
<circle cx="475.6" cy="342.5" r="1.9"/>
<circle cx="546.8" cy="344.1" r="1.9"/>
<circle cx="466.3" cy="343.0" r="1.9"/>
<circle cx="464.4" cy="342.7" r="1.9"/>
<circle cx="611.2" cy="350.3" r="1.9"/>
<circle cx="498.7" cy="344.8" r="1.9"/>
<circle cx="567.5" cy="345.6" r="1.9"/>
<circle cx="435.2" cy="342.8" r="1.9"/>
<circle cx="526.8" cy="346.3" r="1.9"/>
<circle cx="537.6" cy="342.5" r="1.9"/>
<circle cx="561.0" cy="341.9" r="1.9"/>
<circle cx="572.3" cy="345.6" r="1.9"/>
<circle cx="520.2" cy="345.2" r="1.9"/>
<circle cx="519.6" cy="349.7" r="1.9"/>
<circle cx="608.2" cy="350.5" r="1.9"/>
<circle cx="440.7" cy="344.5" r="1.9"/>
<circle cx="618.0" cy="349.7" r="1.9"/>
<circle cx="502.4" cy="344.9" r="1.9"/>
<circle cx="599.3" cy="344.8" r="1.9"/>
<circle cx="510.6" cy="348.6" r="1.9"/>
<circle cx="587.9" cy="346.0" r="1.9"/>
<circle cx="464.3" cy="348.7" r="1.9"/>
<circle cx="510.1" cy="348.4" r="1.9"/>
<circle cx="571.4" cy="349.8" r="1.9"/>
<circle cx="432.0" cy="349.1" r="1.9"/>
<circle cx="462.1" cy="344.3" r="1.9"/>
<circle cx="437.1" cy="349.9" r="1.9"/>
<circle cx="511.6" cy="341.1" r="1.9"/>
<circle cx="522.3" cy="348.5" r="1.9"/>
<circle cx="435.2" cy="343.0" r="1.9"/>
<circle cx="417.0" cy="349.2" r="1.9"/>
<circle cx="585.4" cy="341.3" r="1.9"/>
<circle cx="570.4" cy="347.4" r="1.9"/>
<circle cx="610.2" cy="344.6" r="1.9"/>
<circle cx="445.5" cy="347.8" r="1.9"/>
<circle cx="542.0" cy="343.0" r="1.9"/>
<circle cx="604.4" cy="347.4" r="1.9"/>
<circle cx="594.2" cy="344.0" r="1.9"/>
<circle cx="426.6" cy="347.4" r="1.9"/>
<circle cx="613.1" cy="347.0" r="1.9"/>
<circle cx="480.9" cy="342.3" r="1.9"/>
<circle cx="507.1" cy="351.0" r="1.9"/>
<circle cx="572.2" cy="345.2" r="1.9"/>
<circle cx="504.4" cy="349.8" r="1.9"/>
<circle cx="541.2" cy="344.7" r="1.9"/>
<circle cx="541.0" cy="344.6" r="1.9"/>
<circle cx="492.4" cy="346.1" r="1.9"/>
<circle cx="533.2" cy="344.9" r="1.9"/>
<circle cx="611.4" cy="343.5" r="1.9"/>
<circle cx="553.6" cy="348.5" r="1.9"/>
<circle cx="593.6" cy="344.9" r="1.9"/>
<circle cx="499.7" cy="346.9" r="1.9"/>
<circle cx="530.3" cy="349.5" r="1.9"/>
<circle cx="460.4" cy="348.8" r="1.9"/>
<circle cx="420.4" cy="350.5" r="1.9"/>
<circle cx="603.3" cy="343.3" r="1.9"/>
<circle cx="425.7" cy="347.9" r="1.9"/>
<circle cx="551.9" cy="345.6" r="1.9"/>
<circle cx="547.4" cy="346.5" r="1.9"/>
<circle cx="482.1" cy="344.9" r="1.9"/>
<circle cx="480.3" cy="347.7" r="1.9"/>
<circle cx="540.9" cy="345.3" r="1.9"/>
<circle cx="613.4" cy="344.4" r="1.9"/>
<circle cx="535.5" cy="350.6" r="1.9"/>
<circle cx="601.6" cy="346.0" r="1.9"/>
<circle cx="609.7" cy="343.1" r="1.9"/>
<circle cx="552.7" cy="348.5" r="1.9"/>
<circle cx="449.4" cy="348.2" r="1.9"/>
<circle cx="588.8" cy="348.1" r="1.9"/>
<circle cx="522.2" cy="342.8" r="1.9"/>
<circle cx="623.0" cy="348.8" r="1.9"/>
<circle cx="534.6" cy="344.6" r="1.9"/>
<circle cx="570.2" cy="345.6" r="1.9"/>
<circle cx="560.2" cy="343.9" r="1.9"/>
<circle cx="445.4" cy="349.3" r="1.9"/>
<circle cx="515.4" cy="345.1" r="1.9"/>
<circle cx="562.2" cy="347.9" r="1.9"/>
<circle cx="492.8" cy="347.1" r="1.9"/>
<circle cx="553.9" cy="348.8" r="1.9"/>
<circle cx="486.1" cy="345.2" r="1.9"/>
<circle cx="460.7" cy="347.0" r="1.9"/>
<circle cx="457.8" cy="345.6" r="1.9"/>
<circle cx="545.3" cy="347.0" r="1.9"/>
<circle cx="586.1" cy="348.4" r="1.9"/>
<circle cx="600.6" cy="348.5" r="1.9"/>
<circle cx="623.7" cy="346.9" r="1.9"/>
<circle cx="546.1" cy="346.7" r="1.9"/>
<circle cx="510.8" cy="342.4" r="1.9"/>
<circle cx="504.8" cy="347.8" r="1.9"/>
<circle cx="457.4" cy="344.5" r="1.9"/>
<circle cx="445.8" cy="345.9" r="1.9"/>
<circle cx="594.0" cy="348.1" r="1.9"/>
<circle cx="539.9" cy="345.2" r="1.9"/>
<circle cx="604.8" cy="343.5" r="1.9"/>
<circle cx="544.0" cy="346.1" r="1.9"/>
<circle cx="532.6" cy="344.2" r="1.9"/>
<circle cx="440.9" cy="344.9" r="1.9"/>
<circle cx="580.3" cy="347.9" r="1.9"/>
<circle cx="454.0" cy="341.0" r="1.9"/>
<circle cx="446.5" cy="347.2" r="1.9"/>
<circle cx="493.2" cy="345.0" r="1.9"/>
<circle cx="599.2" cy="345.4" r="1.9"/>
<circle cx="482.6" cy="346.1" r="1.9"/>
<circle cx="597.5" cy="342.4" r="1.9"/>
<circle cx="572.6" cy="347.6" r="1.9"/>
<circle cx="585.4" cy="345.5" r="1.9"/>
<circle cx="570.5" cy="346.4" r="1.9"/>
<circle cx="620.3" cy="342.6" r="1.9"/>
<circle cx="470.4" cy="345.1" r="1.9"/>
<circle cx="443.6" cy="347.6" r="1.9"/>
<circle cx="461.5" cy="344.7" r="1.9"/>
<circle cx="453.0" cy="345.8" r="1.9"/>
<circle cx="426.0" cy="343.1" r="1.9"/>
</g>
<g fill="#4b73bf">
<circle cx="550.7" cy="342.5" r="1.9"/>
<circle cx="515.4" cy="346.5" r="1.9"/>
<circle cx="444.5" cy="342.5" r="1.9"/>
<circle cx="495.3" cy="341.9" r="1.9"/>
<circle cx="618.6" cy="340.4" r="1.9"/>
<circle cx="499.7" cy="346.6" r="1.9"/>
<circle cx="578.4" cy="343.4" r="1.9"/>
<circle cx="436.8" cy="345.7" r="1.9"/>
<circle cx="501.5" cy="341.9" r="1.9"/>
<circle cx="545.5" cy="345.5" r="1.9"/>
<circle cx="565.9" cy="343.1" r="1.9"/>
<circle cx="615.6" cy="342.8" r="1.9"/>
<circle cx="587.0" cy="344.9" r="1.9"/>
<circle cx="432.9" cy="344.1" r="1.9"/>
<circle cx="542.0" cy="342.4" r="1.9"/>
<circle cx="447.6" cy="342.5" r="1.9"/>
<circle cx="514.1" cy="343.0" r="1.9"/>
<circle cx="503.5" cy="343.2" r="1.9"/>
<circle cx="507.9" cy="342.2" r="1.9"/>
<circle cx="575.7" cy="343.4" r="1.9"/>
<circle cx="427.7" cy="346.4" r="1.9"/>
<circle cx="608.1" cy="346.9" r="1.9"/>
<circle cx="533.5" cy="344.6" r="1.9"/>
<circle cx="441.1" cy="343.3" r="1.9"/>
<circle cx="606.3" cy="342.6" r="1.9"/>
<circle cx="585.5" cy="344.7" r="1.9"/>
<circle cx="601.5" cy="343.3" r="1.9"/>
<circle cx="585.0" cy="343.3" r="1.9"/>
<circle cx="497.8" cy="344.2" r="1.9"/>
<circle cx="534.7" cy="343.4" r="1.9"/>
<circle cx="449.7" cy="342.3" r="1.9"/>
<circle cx="557.1" cy="343.2" r="1.9"/>
<circle cx="439.0" cy="341.0" r="1.9"/>
<circle cx="515.8" cy="345.5" r="1.9"/>
<circle cx="472.5" cy="344.5" r="1.9"/>
<circle cx="565.6" cy="345.2" r="1.9"/>
<circle cx="488.0" cy="342.6" r="1.9"/>
<circle cx="469.8" cy="343.2" r="1.9"/>
<circle cx="596.3" cy="341.6" r="1.9"/>
<circle cx="421.0" cy="342.3" r="1.9"/>
<circle cx="480.3" cy="344.5" r="1.9"/>
<circle cx="427.3" cy="344.3" r="1.9"/>
<circle cx="524.8" cy="342.9" r="1.9"/>
<circle cx="593.9" cy="341.8" r="1.9"/>
<circle cx="418.7" cy="344.3" r="1.9"/>
<circle cx="438.3" cy="343.8" r="1.9"/>
<circle cx="571.9" cy="345.0" r="1.9"/>
<circle cx="437.2" cy="341.4" r="1.9"/>
<circle cx="529.7" cy="342.5" r="1.9"/>
<circle cx="509.4" cy="346.0" r="1.9"/>
<circle cx="472.1" cy="341.6" r="1.9"/>
<circle cx="491.1" cy="344.4" r="1.9"/>
<circle cx="569.7" cy="341.8" r="1.9"/>
<circle cx="424.5" cy="342.0" r="1.9"/>
<circle cx="460.3" cy="341.4" r="1.9"/>
<circle cx="471.1" cy="342.0" r="1.9"/>
<circle cx="498.1" cy="343.3" r="1.9"/>
<circle cx="465.3" cy="341.0" r="1.9"/>
<circle cx="486.3" cy="341.1" r="1.9"/>
<circle cx="521.7" cy="340.7" r="1.9"/>
<circle cx="506.1" cy="343.2" r="1.9"/>
<circle cx="472.6" cy="345.1" r="1.9"/>
<circle cx="535.0" cy="342.7" r="1.9"/>
<circle cx="458.2" cy="346.4" r="1.9"/>
<circle cx="589.1" cy="345.4" r="1.9"/>
<circle cx="545.9" cy="345.8" r="1.9"/>
<circle cx="479.8" cy="346.2" r="1.9"/>
<circle cx="526.7" cy="341.2" r="1.9"/>
<circle cx="592.4" cy="348.1" r="1.9"/>
<circle cx="496.8" cy="347.4" r="1.9"/>
<circle cx="541.7" cy="342.5" r="1.9"/>
<circle cx="425.6" cy="346.2" r="1.9"/>
<circle cx="505.0" cy="341.4" r="1.9"/>
<circle cx="420.5" cy="342.5" r="1.9"/>
<circle cx="478.3" cy="344.4" r="1.9"/>
<circle cx="502.2" cy="343.8" r="1.9"/>
<circle cx="514.4" cy="343.8" r="1.9"/>
<circle cx="477.4" cy="346.2" r="1.9"/>
<circle cx="604.1" cy="342.3" r="1.9"/>
<circle cx="518.9" cy="343.4" r="1.9"/>
</g>
<g fill="#5db994">
<circle cx="572.2" cy="344.2" r="1.9"/>
<circle cx="550.2" cy="346.1" r="1.9"/>
<circle cx="572.2" cy="344.9" r="1.9"/>
<circle cx="476.8" cy="345.1" r="1.9"/>
<circle cx="473.8" cy="345.6" r="1.9"/>
<circle cx="586.9" cy="345.2" r="1.9"/>
<circle cx="594.7" cy="344.5" r="1.9"/>
<circle cx="438.5" cy="345.8" r="1.9"/>
<circle cx="520.1" cy="345.5" r="1.9"/>
<circle cx="541.5" cy="345.8" r="1.9"/>
<circle cx="553.3" cy="344.4" r="1.9"/>
<circle cx="453.0" cy="342.7" r="1.9"/>
<circle cx="559.5" cy="346.4" r="1.9"/>
<circle cx="485.4" cy="348.7" r="1.9"/>
<circle cx="601.0" cy="345.4" r="1.9"/>
<circle cx="526.1" cy="344.8" r="1.9"/>
<circle cx="573.1" cy="343.8" r="1.9"/>
<circle cx="596.5" cy="343.6" r="1.9"/>
<circle cx="562.6" cy="344.6" r="1.9"/>
<circle cx="589.4" cy="345.3" r="1.9"/>
<circle cx="566.2" cy="343.9" r="1.9"/>
<circle cx="569.7" cy="342.5" r="1.9"/>
<circle cx="446.5" cy="347.9" r="1.9"/>
<circle cx="580.1" cy="343.6" r="1.9"/>
<circle cx="458.0" cy="345.6" r="1.9"/>
<circle cx="444.2" cy="348.0" r="1.9"/>
<circle cx="445.4" cy="345.9" r="1.9"/>
<circle cx="530.9" cy="349.0" r="1.9"/>
<circle cx="477.1" cy="343.2" r="1.9"/>
<circle cx="511.2" cy="345.2" r="1.9"/>
<circle cx="511.6" cy="341.0" r="1.9"/>
<circle cx="425.4" cy="346.4" r="1.9"/>
<circle cx="623.0" cy="339.0" r="1.9"/>
<circle cx="524.3" cy="344.1" r="1.9"/>
<circle cx="613.7" cy="343.8" r="1.9"/>
<circle cx="468.5" cy="346.6" r="1.9"/>
<circle cx="504.2" cy="344.7" r="1.9"/>
<circle cx="480.8" cy="347.6" r="1.9"/>
<circle cx="514.6" cy="343.8" r="1.9"/>
<circle cx="483.7" cy="344.1" r="1.9"/>
<circle cx="449.4" cy="342.9" r="1.9"/>
<circle cx="556.2" cy="339.3" r="1.9"/>
<circle cx="559.4" cy="344.2" r="1.9"/>
<circle cx="529.3" cy="345.4" r="1.9"/>
<circle cx="573.8" cy="350.5" r="1.9"/>
<circle cx="610.3" cy="347.7" r="1.9"/>
<circle cx="543.0" cy="344.9" r="1.9"/>
<circle cx="464.1" cy="345.9" r="1.9"/>
<circle cx="575.6" cy="342.7" r="1.9"/>
<circle cx="478.3" cy="339.0" r="1.9"/>
<circle cx="525.6" cy="347.1" r="1.9"/>
<circle cx="552.2" cy="343.3" r="1.9"/>
<circle cx="486.1" cy="347.9" r="1.9"/>
<circle cx="568.6" cy="341.7" r="1.9"/>
<circle cx="456.5" cy="343.4" r="1.9"/>
<circle cx="492.4" cy="344.8" r="1.9"/>
<circle cx="526.2" cy="345.4" r="1.9"/>
<circle cx="457.8" cy="348.0" r="1.9"/>
<circle cx="569.6" cy="345.4" r="1.9"/>
<circle cx="522.7" cy="349.6" r="1.9"/>
<circle cx="504.3" cy="344.0" r="1.9"/>
<circle cx="492.5" cy="345.7" r="1.9"/>
<circle cx="573.3" cy="348.3" r="1.9"/>
<circle cx="571.9" cy="341.8" r="1.9"/>
<circle cx="511.6" cy="345.1" r="1.9"/>
<circle cx="568.4" cy="342.8" r="1.9"/>
<circle cx="469.5" cy="340.6" r="1.9"/>
<circle cx="474.8" cy="341.0" r="1.9"/>
<circle cx="592.4" cy="344.3" r="1.9"/>
<circle cx="481.1" cy="345.7" r="1.9"/>
<circle cx="502.3" cy="343.6" r="1.9"/>
<circle cx="464.6" cy="343.4" r="1.9"/>
<circle cx="568.7" cy="343.2" r="1.9"/>
<circle cx="560.6" cy="346.0" r="1.9"/>
<circle cx="551.9" cy="347.3" r="1.9"/>
</g>
<g fill="#d18fc3">
<circle cx="662.4" cy="345.0" r="1.9"/>
<circle cx="669.4" cy="345.4" r="1.9"/>
<circle cx="636.9" cy="344.6" r="1.9"/>
<circle cx="631.8" cy="341.7" r="1.9"/>
<circle cx="659.9" cy="345.5" r="1.9"/>
<circle cx="669.6" cy="342.9" r="1.9"/>
<circle cx="649.6" cy="343.5" r="1.9"/>
<circle cx="633.6" cy="344.7" r="1.9"/>
<circle cx="628.3" cy="344.2" r="1.9"/>
<circle cx="645.8" cy="342.6" r="1.9"/>
<circle cx="638.9" cy="343.4" r="1.9"/>
<circle cx="631.7" cy="345.2" r="1.9"/>
<circle cx="643.9" cy="343.4" r="1.9"/>
<circle cx="645.4" cy="350.4" r="1.9"/>
<circle cx="633.5" cy="340.8" r="1.9"/>
<circle cx="664.6" cy="347.6" r="1.9"/>
<circle cx="635.9" cy="345.4" r="1.9"/>
<circle cx="637.4" cy="347.4" r="1.9"/>
<circle cx="637.1" cy="343.1" r="1.9"/>
<circle cx="656.3" cy="343.4" r="1.9"/>
<circle cx="635.5" cy="346.3" r="1.9"/>
<circle cx="669.4" cy="341.1" r="1.9"/>
<circle cx="636.4" cy="347.4" r="1.9"/>
<circle cx="628.4" cy="347.8" r="1.9"/>
<circle cx="643.9" cy="344.9" r="1.9"/>
<circle cx="646.9" cy="346.4" r="1.9"/>
<circle cx="628.4" cy="346.1" r="1.9"/>
<circle cx="634.2" cy="343.1" r="1.9"/>
<circle cx="662.8" cy="350.4" r="1.9"/>
<circle cx="646.4" cy="346.1" r="1.9"/>
<circle cx="642.3" cy="346.7" r="1.9"/>
<circle cx="640.1" cy="348.0" r="1.9"/>
<circle cx="665.3" cy="346.2" r="1.9"/>
<circle cx="635.2" cy="344.4" r="1.9"/>
<circle cx="639.3" cy="342.1" r="1.9"/>
<circle cx="636.7" cy="345.0" r="1.9"/>
<circle cx="663.8" cy="345.0" r="1.9"/>
<circle cx="667.1" cy="345.8" r="1.9"/>
<circle cx="663.2" cy="341.3" r="1.9"/>
<circle cx="630.8" cy="345.3" r="1.9"/>
<circle cx="639.5" cy="345.1" r="1.9"/>
<circle cx="643.2" cy="348.8" r="1.9"/>
<circle cx="671.1" cy="345.7" r="1.9"/>
<circle cx="651.9" cy="344.8" r="1.9"/>
<circle cx="672.3" cy="341.6" r="1.9"/>
<circle cx="654.3" cy="348.2" r="1.9"/>
<circle cx="667.7" cy="341.8" r="1.9"/>
<circle cx="632.4" cy="342.4" r="1.9"/>
<circle cx="665.1" cy="342.6" r="1.9"/>
<circle cx="654.7" cy="344.2" r="1.9"/>
<circle cx="659.8" cy="346.4" r="1.9"/>
<circle cx="644.1" cy="340.1" r="1.9"/>
<circle cx="653.0" cy="343.2" r="1.9"/>
<circle cx="650.2" cy="343.3" r="1.9"/>
<circle cx="660.2" cy="346.7" r="1.9"/>
<circle cx="633.2" cy="349.4" r="1.9"/>
<circle cx="667.6" cy="342.9" r="1.9"/>
<circle cx="654.3" cy="346.3" r="1.9"/>
<circle cx="654.7" cy="346.4" r="1.9"/>
<circle cx="642.9" cy="344.3" r="1.9"/>
<circle cx="656.7" cy="340.2" r="1.9"/>
<circle cx="640.1" cy="341.9" r="1.9"/>
<circle cx="640.1" cy="346.6" r="1.9"/>
<circle cx="628.4" cy="344.0" r="1.9"/>
<circle cx="659.2" cy="344.2" r="1.9"/>
<circle cx="631.3" cy="342.9" r="1.9"/>
<circle cx="660.7" cy="348.7" r="1.9"/>
<circle cx="629.1" cy="346.3" r="1.9"/>
<circle cx="666.9" cy="346.5" r="1.9"/>
<circle cx="648.8" cy="345.9" r="1.9"/>
<circle cx="641.2" cy="346.0" r="1.9"/>
<circle cx="629.6" cy="344.7" r="1.9"/>
<circle cx="660.2" cy="346.9" r="1.9"/>
<circle cx="639.6" cy="343.8" r="1.9"/>
<circle cx="672.6" cy="340.9" r="1.9"/>
<circle cx="669.2" cy="346.1" r="1.9"/>
<circle cx="642.7" cy="344.7" r="1.9"/>
<circle cx="639.0" cy="347.3" r="1.9"/>
<circle cx="653.2" cy="345.0" r="1.9"/>
<circle cx="654.5" cy="345.1" r="1.9"/>
<circle cx="671.1" cy="346.9" r="1.9"/>
<circle cx="651.0" cy="344.5" r="1.9"/>
<circle cx="664.7" cy="344.1" r="1.9"/>
<circle cx="642.6" cy="343.2" r="1.9"/>
<circle cx="639.1" cy="346.1" r="1.9"/>
<circle cx="669.8" cy="347.9" r="1.9"/>
<circle cx="652.0" cy="346.1" r="1.9"/>
<circle cx="635.4" cy="341.9" r="1.9"/>
<circle cx="628.2" cy="341.7" r="1.9"/>
<circle cx="636.9" cy="345.6" r="1.9"/>
<circle cx="671.7" cy="347.2" r="1.9"/>
<circle cx="643.9" cy="339.9" r="1.9"/>
<circle cx="646.0" cy="345.3" r="1.9"/>
<circle cx="641.6" cy="343.6" r="1.9"/>
<circle cx="672.6" cy="344.9" r="1.9"/>
<circle cx="663.5" cy="345.2" r="1.9"/>
<circle cx="662.6" cy="346.3" r="1.9"/>
<circle cx="642.1" cy="350.4" r="1.9"/>
<circle cx="670.8" cy="348.0" r="1.9"/>
<circle cx="663.9" cy="344.5" r="1.9"/>
<circle cx="660.6" cy="343.5" r="1.9"/>
<circle cx="630.2" cy="341.7" r="1.9"/>
<circle cx="643.2" cy="345.1" r="1.9"/>
<circle cx="634.8" cy="346.1" r="1.9"/>
<circle cx="639.8" cy="347.7" r="1.9"/>
<circle cx="651.2" cy="346.2" r="1.9"/>
<circle cx="627.5" cy="341.5" r="1.9"/>
<circle cx="631.4" cy="345.4" r="1.9"/>
<circle cx="633.1" cy="345.6" r="1.9"/>
<circle cx="631.0" cy="345.3" r="1.9"/>
<circle cx="638.1" cy="343.0" r="1.9"/>
<circle cx="646.8" cy="345.0" r="1.9"/>
<circle cx="658.3" cy="347.2" r="1.9"/>
<circle cx="633.4" cy="347.1" r="1.9"/>
<circle cx="644.0" cy="345.1" r="1.9"/>
<circle cx="632.5" cy="345.6" r="1.9"/>
<circle cx="657.6" cy="341.5" r="1.9"/>
<circle cx="646.9" cy="348.1" r="1.9"/>
<circle cx="671.8" cy="344.6" r="1.9"/>
<circle cx="642.1" cy="345.9" r="1.9"/>
<circle cx="655.6" cy="345.9" r="1.9"/>
<circle cx="639.3" cy="346.1" r="1.9"/>
<circle cx="645.4" cy="345.7" r="1.9"/>
<circle cx="664.4" cy="345.4" r="1.9"/>
<circle cx="664.2" cy="342.2" r="1.9"/>
<circle cx="640.2" cy="343.2" r="1.9"/>
<circle cx="654.0" cy="342.8" r="1.9"/>
<circle cx="647.0" cy="348.4" r="1.9"/>
<circle cx="631.2" cy="345.0" r="1.9"/>
<circle cx="653.9" cy="348.4" r="1.9"/>
</g>
<g fill="#5db994">
<circle cx="148.1" cy="248.2" r="1.9"/>
<circle cx="146.8" cy="259.1" r="1.9"/>
<circle cx="148.1" cy="263.1" r="1.9"/>
<circle cx="157.3" cy="254.7" r="1.9"/>
<circle cx="179.9" cy="249.7" r="1.9"/>
<circle cx="179.9" cy="263.5" r="1.9"/>
<circle cx="186.9" cy="267.7" r="1.9"/>
<circle cx="192.8" cy="260.7" r="1.9"/>
<circle cx="193.9" cy="263.9" r="1.9"/>
<circle cx="193.5" cy="269.4" r="1.9"/>
<circle cx="193.9" cy="274.9" r="1.9"/>
<circle cx="183.0" cy="236.6" r="1.9"/>
<circle cx="186.9" cy="240.0" r="1.9"/>
<circle cx="65.8" cy="233.3" r="1.9"/>
<circle cx="82.2" cy="232.6" r="1.9"/>
<circle cx="97.6" cy="233.3" r="1.9"/>
<circle cx="110.7" cy="232.2" r="1.9"/>
<circle cx="186.8" cy="240.2" r="1.9"/>
<circle cx="197.4" cy="253.1" r="1.9"/>
<circle cx="200.8" cy="249.9" r="1.9"/>
<circle cx="200.8" cy="254.4" r="1.9"/>
<circle cx="202.0" cy="259.0" r="1.9"/>
<circle cx="199.7" cy="262.8" r="1.9"/>
<circle cx="192.9" cy="260.1" r="1.9"/>
<circle cx="194.0" cy="262.8" r="1.9"/>
<circle cx="192.9" cy="266.2" r="1.9"/>
<circle cx="194.5" cy="270.7" r="1.9"/>
<circle cx="194.0" cy="275.3" r="1.9"/>
<circle cx="202.0" cy="282.7" r="1.9"/>
<circle cx="207.6" cy="263.9" r="1.9"/>
<circle cx="215.1" cy="270.3" r="1.9"/>
<circle cx="221.9" cy="269.6" r="1.9"/>
<circle cx="221.2" cy="259.9" r="1.9"/>
<circle cx="222.3" cy="258.3" r="1.9"/>
<circle cx="228.0" cy="259.0" r="1.9"/>
<circle cx="232.5" cy="251.0" r="1.9"/>
<circle cx="232.5" cy="254.9" r="1.9"/>
<circle cx="233.7" cy="256.7" r="1.9"/>
<circle cx="231.4" cy="257.2" r="1.9"/>
<circle cx="225.3" cy="265.8" r="1.9"/>
<circle cx="229.1" cy="266.2" r="1.9"/>
<circle cx="228.0" cy="270.7" r="1.9"/>
<circle cx="230.3" cy="274.1" r="1.9"/>
<circle cx="235.9" cy="266.2" r="1.9"/>
<circle cx="245.4" cy="249.2" r="1.9"/>
<circle cx="246.6" cy="267.3" r="1.9"/>
<circle cx="257.4" cy="270.3" r="1.9"/>
<circle cx="263.1" cy="258.3" r="1.9"/>
<circle cx="263.1" cy="272.5" r="1.9"/>
<circle cx="275.1" cy="270.3" r="1.9"/>
<circle cx="275.1" cy="272.5" r="1.9"/>
<circle cx="288.0" cy="269.6" r="1.9"/>
<circle cx="295.9" cy="280.9" r="1.9"/>
<circle cx="263.8" cy="237.9" r="1.9"/>
<circle cx="312.9" cy="238.6" r="1.9"/>
<circle cx="309.0" cy="244.0" r="1.9"/>
<circle cx="310.1" cy="254.4" r="1.9"/>
<circle cx="309.0" cy="257.2" r="1.9"/>
<circle cx="308.3" cy="265.1" r="1.9"/>
<circle cx="307.2" cy="264.4" r="1.9"/>
<circle cx="311.3" cy="269.6" r="1.9"/>
<circle cx="310.6" cy="280.9" r="1.9"/>
<circle cx="311.7" cy="279.8" r="1.9"/>
<circle cx="319.2" cy="257.2" r="1.9"/>
<circle cx="319.2" cy="262.8" r="1.9"/>
<circle cx="307.2" cy="232.3" r="1.9"/>
<circle cx="314.0" cy="231.8" r="1.9"/>
<circle cx="319.6" cy="235.0" r="1.9"/>
<circle cx="204.2" cy="233.4" r="1.9"/>
<circle cx="207.6" cy="235.0" r="1.9"/>
<circle cx="221.2" cy="234.1" r="1.9"/>
<circle cx="225.7" cy="235.7" r="1.9"/>
<circle cx="245.0" cy="236.3" r="1.9"/>
<circle cx="246.1" cy="238.6" r="1.9"/>
<circle cx="80.1" cy="350.1" r="1.9"/>
<circle cx="84.0" cy="373.0" r="1.9"/>
<circle cx="80.1" cy="376.8" r="1.9"/>
<circle cx="80.1" cy="380.6" r="1.9"/>
<circle cx="87.8" cy="376.8" r="1.9"/>
<circle cx="87.8" cy="380.1" r="1.9"/>
<circle cx="84.9" cy="387.3" r="1.9"/>
<circle cx="85.9" cy="390.2" r="1.9"/>
<circle cx="84.9" cy="391.1" r="1.9"/>
<circle cx="95.4" cy="378.7" r="1.9"/>
<circle cx="98.3" cy="378.7" r="1.9"/>
<circle cx="101.2" cy="379.3" r="1.9"/>
<circle cx="98.3" cy="387.0" r="1.9"/>
<circle cx="95.4" cy="393.1" r="1.9"/>
<circle cx="95.4" cy="395.0" r="1.9"/>
<circle cx="104.0" cy="385.4" r="1.9"/>
<circle cx="104.0" cy="372.0" r="1.9"/>
<circle cx="111.7" cy="370.1" r="1.9"/>
<circle cx="111.7" cy="364.4" r="1.9"/>
<circle cx="113.6" cy="364.4" r="1.9"/>
<circle cx="122.2" cy="376.8" r="1.9"/>
<circle cx="119.9" cy="393.1" r="1.9"/>
<circle cx="103.1" cy="349.1" r="1.9"/>
<circle cx="107.8" cy="351.0" r="1.9"/>
<circle cx="107.8" cy="357.7" r="1.9"/>
<circle cx="111.7" cy="354.8" r="1.9"/>
<circle cx="117.4" cy="358.7" r="1.9"/>
<circle cx="120.3" cy="351.0" r="1.9"/>
<circle cx="124.1" cy="349.1" r="1.9"/>
<circle cx="118.3" cy="354.8" r="1.9"/>
<circle cx="122.2" cy="353.9" r="1.9"/>
<circle cx="125.0" cy="352.9" r="1.9"/>
<circle cx="127.9" cy="352.0" r="1.9"/>
<circle cx="119.3" cy="358.7" r="1.9"/>
<circle cx="116.4" cy="360.6" r="1.9"/>
<circle cx="112.6" cy="356.8" r="1.9"/>
<circle cx="121.9" cy="352.5" r="1.9"/>
<circle cx="120.0" cy="354.8" r="1.9"/>
<circle cx="123.8" cy="357.7" r="1.9"/>
<circle cx="125.7" cy="357.7" r="1.9"/>
<circle cx="139.1" cy="357.7" r="1.9"/>
<circle cx="145.8" cy="357.7" r="1.9"/>
<circle cx="121.0" cy="362.5" r="1.9"/>
<circle cx="137.6" cy="368.2" r="1.9"/>
<circle cx="121.9" cy="376.8" r="1.9"/>
<circle cx="169.3" cy="360.0" r="1.9"/>
<circle cx="181.2" cy="358.7" r="1.9"/>
<circle cx="179.2" cy="369.7" r="1.9"/>
<circle cx="183.1" cy="374.0" r="1.9"/>
<circle cx="183.1" cy="377.4" r="1.9"/>
<circle cx="163.6" cy="381.2" r="1.9"/>
<circle cx="163.6" cy="386.9" r="1.9"/>
<circle cx="173.1" cy="380.1" r="1.9"/>
<circle cx="175.4" cy="386.9" r="1.9"/>
<circle cx="179.2" cy="386.4" r="1.9"/>
<circle cx="181.2" cy="386.4" r="1.9"/>
<circle cx="173.1" cy="393.1" r="1.9"/>
<circle cx="163.6" cy="398.8" r="1.9"/>
<circle cx="191.1" cy="391.7" r="1.9"/>
<circle cx="208.3" cy="370.1" r="1.9"/>
<circle cx="209.8" cy="366.3" r="1.9"/>
<circle cx="208.9" cy="390.8" r="1.9"/>
<circle cx="210.5" cy="365.9" r="1.9"/>
<circle cx="208.6" cy="370.5" r="1.9"/>
<circle cx="222.5" cy="378.7" r="1.9"/>
<circle cx="208.6" cy="391.2" r="1.9"/>
<circle cx="211.1" cy="392.1" r="1.9"/>
<circle cx="253.9" cy="354.3" r="1.9"/>
<circle cx="286.0" cy="357.7" r="1.9"/>
<circle cx="285.6" cy="383.1" r="1.9"/>
<circle cx="287.5" cy="387.3" r="1.9"/>
<circle cx="269.7" cy="352.0" r="1.9"/>
<circle cx="276.4" cy="350.6" r="1.9"/>
<circle cx="285.6" cy="357.3" r="1.9"/>
<circle cx="297.7" cy="354.4" r="1.9"/>
<circle cx="305.3" cy="355.2" r="1.9"/>
<circle cx="311.0" cy="359.6" r="1.9"/>
<circle cx="315.4" cy="356.7" r="1.9"/>
<circle cx="301.5" cy="371.6" r="1.9"/>
<circle cx="311.0" cy="377.7" r="1.9"/>
<circle cx="299.6" cy="379.6" r="1.9"/>
<circle cx="285.6" cy="383.1" r="1.9"/>
<circle cx="287.7" cy="387.6" r="1.9"/>
<circle cx="297.7" cy="385.7" r="1.9"/>
<circle cx="299.6" cy="387.3" r="1.9"/>
<circle cx="298.6" cy="388.2" r="1.9"/>
<circle cx="311.0" cy="390.1" r="1.9"/>
<circle cx="303.4" cy="394.5" r="1.9"/>
<circle cx="316.8" cy="383.8" r="1.9"/>
<circle cx="321.1" cy="381.5" r="1.9"/>
<circle cx="321.1" cy="389.2" r="1.9"/>
<circle cx="315.8" cy="349.1" r="1.9"/>
<circle cx="416.0" cy="352.0" r="1.9"/>
<circle cx="418.5" cy="355.8" r="1.9"/>
<circle cx="420.8" cy="354.4" r="1.9"/>
<circle cx="417.9" cy="360.5" r="1.9"/>
<circle cx="423.7" cy="362.1" r="1.9"/>
<circle cx="430.3" cy="357.7" r="1.9"/>
<circle cx="436.1" cy="354.8" r="1.9"/>
<circle cx="431.9" cy="364.4" r="1.9"/>
<circle cx="436.5" cy="366.3" r="1.9"/>
<circle cx="425.6" cy="371.0" r="1.9"/>
<circle cx="427.5" cy="375.4" r="1.9"/>
<circle cx="418.9" cy="374.8" r="1.9"/>
<circle cx="426.9" cy="381.5" r="1.9"/>
<circle cx="426.9" cy="389.2" r="1.9"/>
<circle cx="439.9" cy="369.1" r="1.9"/>
<circle cx="438.4" cy="375.4" r="1.9"/>
<circle cx="439.9" cy="379.2" r="1.9"/>
<circle cx="444.7" cy="360.5" r="1.9"/>
<circle cx="447.5" cy="359.6" r="1.9"/>
<circle cx="448.5" cy="374.8" r="1.9"/>
<circle cx="448.5" cy="385.0" r="1.9"/>
<circle cx="448.6" cy="352.5" r="1.9"/>
<circle cx="455.3" cy="352.5" r="1.9"/>
<circle cx="446.7" cy="357.7" r="1.9"/>
<circle cx="448.6" cy="359.6" r="1.9"/>
<circle cx="454.3" cy="359.6" r="1.9"/>
<circle cx="444.8" cy="364.4" r="1.9"/>
<circle cx="451.5" cy="366.3" r="1.9"/>
<circle cx="459.1" cy="365.9" r="1.9"/>
<circle cx="441.9" cy="369.1" r="1.9"/>
<circle cx="448.6" cy="374.3" r="1.9"/>
<circle cx="444.8" cy="379.3" r="1.9"/>
<circle cx="451.8" cy="380.6" r="1.9"/>
<circle cx="455.3" cy="379.3" r="1.9"/>
<circle cx="457.2" cy="382.5" r="1.9"/>
<circle cx="459.1" cy="382.5" r="1.9"/>
<circle cx="455.3" cy="386.9" r="1.9"/>
<circle cx="448.6" cy="385.0" r="1.9"/>
<circle cx="459.1" cy="385.4" r="1.9"/>
<circle cx="465.8" cy="381.2" r="1.9"/>
<circle cx="469.6" cy="381.2" r="1.9"/>
<circle cx="469.6" cy="367.8" r="1.9"/>
<circle cx="486.2" cy="376.8" r="1.9"/>
<circle cx="486.2" cy="356.7" r="1.9"/>
<circle cx="487.7" cy="354.8" r="1.9"/>
<circle cx="498.2" cy="369.1" r="1.9"/>
<circle cx="505.3" cy="373.5" r="1.9"/>
<circle cx="498.2" cy="377.4" r="1.9"/>
<circle cx="498.2" cy="381.2" r="1.9"/>
<circle cx="519.2" cy="356.7" r="1.9"/>
<circle cx="519.2" cy="381.5" r="1.9"/>
<circle cx="519.6" cy="356.4" r="1.9"/>
<circle cx="521.8" cy="352.0" r="1.9"/>
<circle cx="529.1" cy="351.4" r="1.9"/>
<circle cx="547.8" cy="353.9" r="1.9"/>
<circle cx="565.4" cy="352.0" r="1.9"/>
<circle cx="569.2" cy="355.2" r="1.9"/>
<circle cx="519.6" cy="380.6" r="1.9"/>
<circle cx="519.6" cy="382.5" r="1.9"/>
<circle cx="533.3" cy="378.2" r="1.9"/>
<circle cx="533.9" cy="382.0" r="1.9"/>
<circle cx="614.8" cy="351.8" r="1.9"/>
<circle cx="610.0" cy="348.0" r="1.9"/>
<circle cx="90.2" cy="342.2" r="1.9"/>
<circle cx="91.2" cy="349.1" r="1.9"/>
<circle cx="93.1" cy="348.4" r="1.9"/>
<circle cx="101.7" cy="345.1" r="1.9"/>
<circle cx="103.0" cy="348.4" r="1.9"/>
<circle cx="106.3" cy="347.8" r="1.9"/>
<circle cx="110.2" cy="346.5" r="1.9"/>
<circle cx="108.9" cy="353.0" r="1.9"/>
<circle cx="107.6" cy="357.6" r="1.9"/>
<circle cx="115.5" cy="345.1" r="1.9"/>
<circle cx="115.5" cy="349.7" r="1.9"/>
<circle cx="116.8" cy="357.0" r="1.9"/>
<circle cx="119.4" cy="355.0" r="1.9"/>
<circle cx="119.4" cy="362.2" r="1.9"/>
<circle cx="122.0" cy="353.0" r="1.9"/>
<circle cx="124.7" cy="351.7" r="1.9"/>
<circle cx="127.3" cy="351.7" r="1.9"/>
<circle cx="123.4" cy="357.6" r="1.9"/>
<circle cx="126.0" cy="357.0" r="1.9"/>
<circle cx="110.2" cy="364.2" r="1.9"/>
<circle cx="112.9" cy="364.2" r="1.9"/>
<circle cx="111.5" cy="370.1" r="1.9"/>
<circle cx="130.0" cy="346.5" r="1.9"/>
<circle cx="132.6" cy="347.1" r="1.9"/>
<circle cx="135.2" cy="345.1" r="1.9"/>
<circle cx="139.1" cy="346.5" r="1.9"/>
<circle cx="139.8" cy="350.4" r="1.9"/>
<circle cx="139.8" cy="357.6" r="1.9"/>
<circle cx="145.7" cy="357.6" r="1.9"/>
<circle cx="137.8" cy="368.1" r="1.9"/>
<circle cx="144.4" cy="345.1" r="1.9"/>
<circle cx="147.7" cy="341.9" r="1.9"/>
<circle cx="151.0" cy="346.5" r="1.9"/>
<circle cx="153.6" cy="347.1" r="1.9"/>
<circle cx="156.2" cy="345.8" r="1.9"/>
<circle cx="161.5" cy="347.8" r="1.9"/>
<circle cx="166.7" cy="346.5" r="1.9"/>
<circle cx="169.4" cy="345.8" r="1.9"/>
<circle cx="168.7" cy="360.3" r="1.9"/>
</g>
<g fill="#1f3272">
<circle cx="82.0" cy="347.1" r="1.9"/>
<circle cx="82.0" cy="355.0" r="1.9"/>
<circle cx="82.0" cy="362.9" r="1.9"/>
<circle cx="68.7" cy="355.8" r="1.9"/>
<circle cx="82.0" cy="347.2" r="1.9"/>
<circle cx="82.4" cy="354.8" r="1.9"/>
<circle cx="74.4" cy="364.0" r="1.9"/>
<circle cx="82.4" cy="363.4" r="1.9"/>
<circle cx="74.4" cy="381.6" r="1.9"/>
<circle cx="319.2" cy="353.9" r="1.9"/>
<circle cx="326.9" cy="364.4" r="1.9"/>
<circle cx="319.2" cy="369.7" r="1.9"/>
<circle cx="326.9" cy="385.0" r="1.9"/>
<circle cx="326.9" cy="389.5" r="1.9"/>
<circle cx="412.8" cy="361.5" r="1.9"/>
</g>
<g fill="#4b73bf">
<circle cx="269.2" cy="234.1" r="1.9"/>
<circle cx="94.2" cy="340.5" r="1.9"/>
<circle cx="88.5" cy="346.5" r="1.9"/>
<circle cx="94.2" cy="345.1" r="1.9"/>
<circle cx="94.2" cy="347.5" r="1.9"/>
<circle cx="106.0" cy="343.2" r="1.9"/>
<circle cx="113.9" cy="344.5" r="1.9"/>
<circle cx="118.1" cy="344.1" r="1.9"/>
<circle cx="124.0" cy="343.8" r="1.9"/>
<circle cx="129.3" cy="345.8" r="1.9"/>
<circle cx="135.8" cy="341.9" r="1.9"/>
<circle cx="141.1" cy="344.5" r="1.9"/>
<circle cx="151.6" cy="345.8" r="1.9"/>
<circle cx="158.8" cy="344.5" r="1.9"/>
<circle cx="165.4" cy="343.6" r="1.9"/>
<circle cx="105.6" cy="352.4" r="1.9"/>
<circle cx="112.2" cy="356.3" r="1.9"/>
</g>
<g fill="#87cdee">
<circle cx="50.5" cy="341.8" r="1.9"/>
<circle cx="53.4" cy="345.3" r="1.9"/>
<circle cx="51.5" cy="349.1" r="1.9"/>
<circle cx="54.3" cy="347.6" r="1.9"/>
<circle cx="57.2" cy="350.1" r="1.9"/>
<circle cx="60.1" cy="349.1" r="1.9"/>
<circle cx="61.0" cy="341.5" r="1.9"/>
<circle cx="62.9" cy="351.0" r="1.9"/>
<circle cx="50.5" cy="354.5" r="1.9"/>
<circle cx="55.3" cy="355.8" r="1.9"/>
<circle cx="62.0" cy="356.4" r="1.9"/>
<circle cx="50.5" cy="365.4" r="1.9"/>
<circle cx="58.5" cy="364.0" r="1.9"/>
<circle cx="58.5" cy="375.5" r="1.9"/>
<circle cx="403.6" cy="376.2" r="1.9"/>
<circle cx="410.0" cy="234.4" r="1.9"/>
<circle cx="414.6" cy="236.7" r="1.9"/>
<circle cx="550.3" cy="233.8" r="1.9"/>
<circle cx="629.5" cy="233.8" r="1.9"/>
<circle cx="660.3" cy="233.8" r="1.9"/>
<circle cx="661.9" cy="236.7" r="1.9"/>
<circle cx="627.9" cy="219.0" r="1.9"/>
<circle cx="528.4" cy="218.6" r="1.9"/>
</g>
<g fill="#f5a53b">
<circle cx="321.5" cy="254.4" r="1.9"/>
<circle cx="321.9" cy="257.2" r="1.9"/>
<circle cx="320.8" cy="265.1" r="1.9"/>
<circle cx="320.8" cy="274.8" r="1.9"/>
<circle cx="76.3" cy="370.5" r="1.9"/>
<circle cx="78.2" cy="370.5" r="1.9"/>
<circle cx="78.2" cy="376.8" r="1.9"/>
<circle cx="77.3" cy="385.0" r="1.9"/>
<circle cx="79.2" cy="384.5" r="1.9"/>
<circle cx="76.9" cy="381.6" r="1.9"/>
<circle cx="323.1" cy="378.7" r="1.9"/>
<circle cx="325.0" cy="383.4" r="1.9"/>
<circle cx="324.4" cy="387.3" r="1.9"/>
<circle cx="325.0" cy="395.3" r="1.9"/>
<circle cx="415.1" cy="369.5" r="1.9"/>
<circle cx="414.1" cy="375.8" r="1.9"/>
<circle cx="415.1" cy="378.7" r="1.9"/>
<circle cx="415.1" cy="383.1" r="1.9"/>
<circle cx="413.7" cy="380.0" r="1.9"/>
</g>
<g fill="#8b3f93">
<circle cx="625.4" cy="347.0" r="1.9"/>
<circle cx="627.3" cy="348.9" r="1.9"/>
<circle cx="626.3" cy="350.8" r="1.9"/>
<circle cx="625.4" cy="356.5" r="1.9"/>
</g>
<g fill="#e4347a">
<circle cx="148.1" cy="260.2" r="1.9"/>
<circle cx="111.9" cy="266.0" r="1.9"/>
<circle cx="158.6" cy="254.7" r="1.9"/>
<circle cx="164.3" cy="276.0" r="1.9"/>
<circle cx="175.1" cy="258.7" r="1.9"/>
<circle cx="191.3" cy="267.2" r="1.9"/>
<circle cx="229.1" cy="263.9" r="1.9"/>
<circle cx="255.8" cy="258.3" r="1.9"/>
<circle cx="265.3" cy="260.5" r="1.9"/>
<circle cx="265.3" cy="277.5" r="1.9"/>
<circle cx="315.8" cy="261.7" r="1.9"/>
<circle cx="314.4" cy="274.1" r="1.9"/>
<circle cx="314.4" cy="279.3" r="1.9"/>
<circle cx="62.0" cy="227.5" r="1.9"/>
<circle cx="65.4" cy="228.7" r="1.9"/>
<circle cx="97.6" cy="217.6" r="1.9"/>
<circle cx="78.9" cy="224.6" r="1.9"/>
<circle cx="82.4" cy="226.4" r="1.9"/>
<circle cx="99.9" cy="227.5" r="1.9"/>
<circle cx="103.4" cy="227.5" r="1.9"/>
<circle cx="227.0" cy="226.8" r="1.9"/>
<circle cx="99.7" cy="364.9" r="1.9"/>
<circle cx="98.3" cy="381.6" r="1.9"/>
<circle cx="113.6" cy="390.2" r="1.9"/>
<circle cx="185.0" cy="388.9" r="1.9"/>
<circle cx="196.8" cy="382.0" r="1.9"/>
<circle cx="204.7" cy="388.9" r="1.9"/>
<circle cx="204.7" cy="393.1" r="1.9"/>
<circle cx="255.8" cy="379.7" r="1.9"/>
<circle cx="262.1" cy="380.6" r="1.9"/>
<circle cx="421.2" cy="372.9" r="1.9"/>
<circle cx="421.2" cy="381.1" r="1.9"/>
<circle cx="429.4" cy="369.7" r="1.9"/>
<circle cx="433.2" cy="376.8" r="1.9"/>
<circle cx="436.5" cy="359.0" r="1.9"/>
<circle cx="442.2" cy="375.8" r="1.9"/>
<circle cx="447.1" cy="371.0" r="1.9"/>
<circle cx="447.3" cy="371.0" r="1.9"/>
<circle cx="442.3" cy="375.8" r="1.9"/>
<circle cx="472.1" cy="389.6" r="1.9"/>
<circle cx="479.1" cy="385.8" r="1.9"/>
<circle cx="488.7" cy="388.2" r="1.9"/>
<circle cx="488.7" cy="390.1" r="1.9"/>
<circle cx="493.5" cy="373.9" r="1.9"/>
<circle cx="515.4" cy="381.6" r="1.9"/>
<circle cx="515.7" cy="381.6" r="1.9"/>
<circle cx="525.3" cy="379.3" r="1.9"/>
<circle cx="523.8" cy="383.1" r="1.9"/>
<circle cx="524.3" cy="386.9" r="1.9"/>
<circle cx="536.4" cy="381.6" r="1.9"/>
<circle cx="557.4" cy="364.0" r="1.9"/>
<circle cx="560.6" cy="369.7" r="1.9"/>
<circle cx="571.2" cy="362.1" r="1.9"/>
<circle cx="585.5" cy="349.1" r="1.9"/>
</g>
<line x1="146.80" y1="264.50" x2="140.70" y2="277.50" stroke="#b3b3b3" stroke-width="0.5"/>
<text x="140.70" y="284.50" font-size="8.7" text-anchor="middle" fill="#b3b3b3" textLength="23.4" lengthAdjust="spacingAndGlyphs">S65W</text>
<line x1="191.30" y1="268.50" x2="186.00" y2="277.50" stroke="#b3b3b3" stroke-width="0.5"/>
<text x="184.90" y="284.50" font-size="8.7" text-anchor="middle" fill="#b3b3b3" textLength="20.6" lengthAdjust="spacingAndGlyphs">N78S</text>
<line x1="263.80" y1="239.50" x2="267.20" y2="245.50" stroke="#b3b3b3" stroke-width="0.5"/>
<text x="276.60" y="251.80" font-size="8.7" text-anchor="middle" fill="#b3b3b3" textLength="21.3" lengthAdjust="spacingAndGlyphs">Y98H</text>
<line x1="313.20" y1="240.00" x2="316.50" y2="245.50" stroke="#b3b3b3" stroke-width="0.5"/>
<text x="326.10" y="251.80" font-size="8.7" text-anchor="middle" fill="#b3b3b3" textLength="22.0" lengthAdjust="spacingAndGlyphs">Y112H</text>
<line x1="314.40" y1="264.00" x2="318.50" y2="278.00" stroke="#b3b3b3" stroke-width="0.5"/>
<text x="328.70" y="284.60" font-size="8.7" text-anchor="middle" fill="#b3b3b3" textLength="22.6" lengthAdjust="spacingAndGlyphs">Y112N</text>
<line x1="101.20" y1="382.00" x2="102.50" y2="396.00" stroke="#b3b3b3" stroke-width="0.5"/>
<text x="102.80" y="405.20" font-size="8.7" text-anchor="middle" fill="#b3b3b3" textLength="25.4" lengthAdjust="spacingAndGlyphs">W117C</text>
<line x1="426.90" y1="382.50" x2="419.50" y2="392.00" stroke="#b3b3b3" stroke-width="0.5"/>
<text x="405.50" y="398.80" font-size="8.7" text-anchor="middle" fill="#b3b3b3" textLength="22.9" lengthAdjust="spacingAndGlyphs">L158P</text>
<line x1="439.90" y1="380.50" x2="435.70" y2="392.00" stroke="#b3b3b3" stroke-width="0.5"/>
<text x="435.80" y="398.80" font-size="8.7" text-anchor="middle" fill="#b3b3b3" textLength="25.4" lengthAdjust="spacingAndGlyphs">C162R</text>
<line x1="459.10" y1="368.00" x2="463.90" y2="392.00" stroke="#b3b3b3" stroke-width="0.5"/>
<text x="469.20" y="399.40" font-size="8.7" text-anchor="middle" fill="#b3b3b3" textLength="24.8" lengthAdjust="spacingAndGlyphs">R167Q</text>
</svg></body></html>
